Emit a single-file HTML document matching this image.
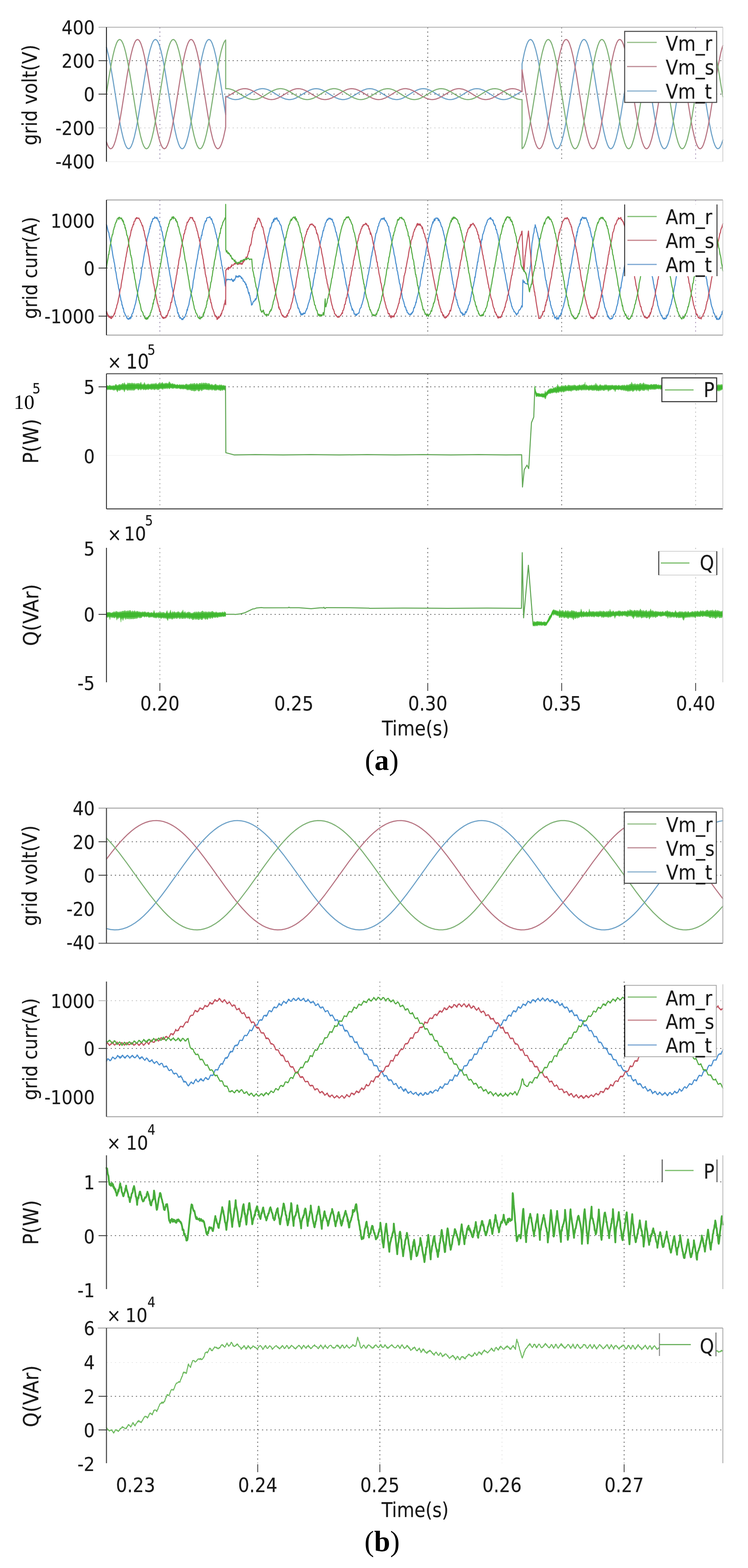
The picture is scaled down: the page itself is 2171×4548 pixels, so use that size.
<!DOCTYPE html>
<html><head><meta charset="utf-8"><title>figure</title>
<style>html,body{margin:0;padding:0;background:#fff;}svg{display:block;}</style></head>
<body><svg width="2171" height="4548" viewBox="0 0 2171 4548">
<rect width="2171" height="4548" fill="#fff"/>
<line x1="309.0" y1="176.0" x2="2098.0" y2="176.0" stroke="#555" stroke-width="2.2" stroke-dasharray="3.5,8.7"/>
<line x1="309.0" y1="273.0" x2="2098.0" y2="273.0" stroke="#555" stroke-width="2.2" stroke-dasharray="3.5,8.7"/>
<line x1="309.0" y1="371.0" x2="2098.0" y2="371.0" stroke="#c8c8c8" stroke-width="2.2" stroke-dasharray="3.5,8.7"/>
<line x1="464.0" y1="79.0" x2="464.0" y2="469.0" stroke="#8a7aa0" stroke-width="2.2" stroke-dasharray="3.5,8.7"/>
<line x1="1241.5" y1="79.0" x2="1241.5" y2="469.0" stroke="#555" stroke-width="2.2" stroke-dasharray="3.5,8.7"/>
<line x1="1630.2" y1="79.0" x2="1630.2" y2="469.0" stroke="#666" stroke-width="2.2" stroke-dasharray="3.5,8.7"/>
<line x1="2019.0" y1="79.0" x2="2019.0" y2="469.0" stroke="#a088b0" stroke-width="2.2" stroke-dasharray="3.5,8.7"/>
<path d="M309 137.4l6 23.7 6 30.2 7 41.1 16 100.4 5 28.3 4 20 5 21 5 15.8 3 6.7 2 3.2 3 3 2 .6 2-.3 2-1.4 2-2.5 2-3.4 4-9.8 5-17.3 5-22.4 5-26.5 22-136.1 5-28.1 4-19.9 5-20.8 5-15.5 3-6.5 2-3.1 3-2.7 2-.5 2 .5 2 1.5 2 2.5 2 3.6 4 10 5 17.6 5 22.6 5 26.7 21 130.3 9 48.8 5 21.6 5 16.3 3 7.1 2 3.4 3 3.3 2 1 2-.2 2-1.1 2-2.2 3-5.1 4-10.3 5-17.8 5-22.9 5-26.8 21-130.3 5-28.4 4-20.2 5-21.3 5-16.1 3-6.8 2-3.4 3-3.1 2-.8 2 .2 3 2.3 2 2.8 3 6.1 5 14.8 5 20.3 5 24.7 5 28.4 19 118.8 0-54 11 5.7 9 3 5 .9 4 .2 8-.7 8-2.3 8-3.7 25-15.2 10-5.3 9-3.2 8-1.2 4 0 5 .6 5 1.2 5 1.7 10 5 21 13 9 4.9 10 3.8 9 1.4 4 0 5-.6 5-1.2 5-1.8 10-5 21-13 9-4.9 10-3.7 5-1 5-.4 4 .1 5 .8 9 2.8 10 5 20 12.5 9 4.9 10 3.9 9 1.6 4 0 5-.5 5-1.2 5-1.7 10-4.9 22-13.6 9-4.8 10-3.7 5-.9 5-.3 4 .2 5 .8 9 2.9 10 5.1 20 12.5 9 4.9 9 3.5 9 1.6 4 .1 5-.5 5-1.1 5-1.6 11-5.4 21-13 9-4.9 10-3.7 5-1 5-.4 4 .1 5 .8 5 1.3 5 2 10 5.1 19 11.9 8 4.4 9 3.8 8 1.9 5 .3 5-.2 5-1 6-1.8 11-5.3 22-13.6 9-4.8 10-3.7 5-.9 5-.3 5 .3 5 .9 10 3.6 9 4.8 23 14.2 6 3 6 2.4 6 1.7 6 .7 6-.2 6-1.1 7-2.3 8-3.9 28.2-17.1 0-78.9 6.8-32.6 4-15 3-9 3-6.8 3-4.7 3-2.3 2-.3 1 .2 2 1.3 2 2.3 2 3.3 3 6.8 5 16 5 21.2 4 20.1 5 28.4 21 130.3 5 26.9 5 22.9 5 18 4 10.3 2 3.7 2 2.8 2 1.7 2 .6 2-.3 2-1.4 2-2.5 3-5.5 4-10.7 5-18.4 5-23.3 5-27.2 20-124.5 9-49.1 5-21.8 4-13.8 3-7.9 2-4.1 2-3.1 2-2 2-1.1 2 0 2 1 3 3.4 2 3.6 3 7.1 5 16.6 5 21.7 6 31.5 21 130.3 5 28.5 5 25 5 20.6 5 15.2 3 6.3 2 3 3 2.5 2 .4 2-.6 3-2.9 2-3.1 3-6.7 5-15.6 5-21 4-20 5-28.2 22-136 6-31.2 5-21.3 3-10.3 3-8.3 3-6.1 2-2.9 3-2.3 2-.3 2 .7 3 3.1 4 7.6 4 11.4 4 15 5 23 8 44.8 19 118.5 5 27.6 5 23.8 5 19 4 11.3 3 5.9 2 2.8 2 1.7 2 .6 2-.3 3-2.5 2-2.9 3-6.3 5-15.1 5-20.5 5-25 5-28.4 21-130.3 5-26.7 5-22.7 5-17.8 4-10 3-5.1 2-2 2-1.1 2 0 2 1 2 2 2 3.1 3 6.4 5 15.4 5 20.8 4 19.8 5 28 17 106.5 6 35.2 7 35 6 22.8 4 10.8 3 5.6 3 3.3 3 1 3-1.3 2-2.2 2-3.1 3-6.7 4-12.1" fill="none" stroke="#6ea2c8" stroke-width="3.2" stroke-linejoin="round" stroke-linecap="round"/>
<path d="M309 411.8l4 10.5 3 5.3 3 3.1 2 .7 1 0 3-1.6 3-3.9 3-6.1 4-11.5 6-23.7 6-30.3 6-35 17-106.6 5-28.2 5-24.6 5-19.9 5-14.6 3-5.9 2-2.7 3-2 2-.2 2 1 2 1.9 2 3 3 6.3 5 15.2 5 20.6 5 25 5 28.5 21 130.3 6 31.5 5 21.7 3 10.6 3 8.6 3 6.4 2 3.1 3 2.6 2 .5 2-.5 3-2.7 4-7.2 4-11.1 4-14.6 5-22.7 8-44.2 20-124.5 5-27.2 5-23.3 5-18.4 4-10.7 3-5.5 2-2.5 2-1.4 2-.3 2 .6 2 1.7 2 2.8 2 3.7 4 10.3 5 18 5 22.9 5 26.9 21 130.3 5 28.4 4 20.1 5 21.2 5 16 3 6.8 2 3.3 2 2.3 2 1.3 1 .2 2-.3 3-2.3 3-4.7 3-6.8 3-9 3-11 6-27.3 0-87.3 8-4.5 22-13.5 8-3.9 7-2.3 6-1.1 6-.2 6 .7 6 1.7 6 2.4 6 3 23 14.2 9 4.8 10 3.6 5 .9 5 .3 5-.3 5-.9 10-3.7 9-4.8 22-13.6 11-5.3 6-1.8 5-1 5-.2 5 .3 8 1.9 9 3.8 8 4.4 19 11.9 10 5.1 5 2 5 1.3 5 .8 4 .1 5-.4 5-1 10-3.7 9-4.9 21-13 11-5.4 5-1.6 5-1.1 5-.5 4 .1 9 1.6 9 3.5 9 4.9 20 12.5 10 5.1 9 2.9 5 .8 4 .2 5-.3 5-.9 10-3.7 9-4.8 22-13.6 10-4.9 5-1.7 5-1.2 5-.5 4 0 9 1.6 10 3.9 9 4.9 20 12.5 10 5 9 2.8 5 .8 4 .1 5-.4 5-1 10-3.7 9-4.9 21-13 10-5 5-1.8 5-1.2 5-.6 4 0 9 1.4 10 3.8 9 4.9 21 13 10 5 5 1.7 5 1.2 5 .6 5-.1 8-1.4 9-3.4 9-4.8 25-15.2 8-3.7 7-2.1 5-.8 4-.1 8 .8 9 2.9 10.2 5.1 0-63.4 20.8 129.2 5 28.4 5 24.7 5 20.3 5 14.8 3 6.1 2 2.8 3 2.3 2 .2 2-.8 3-3.1 2-3.4 3-6.8 5-16.1 5-21.3 4-20.2 5-28.4 21-130.3 5-26.8 5-22.9 5-17.8 4-10.3 2-3.7 2-2.7 2-1.6 2-.6 2 .4 3 2.5 2 3 3 6.3 5 15.2 5 20.6 5 25 5 28.5 21 130.3 5 26.7 5 22.6 5 17.6 4 10 3 5 2 2 2 1 2 0 2-1.1 2-2 2-3.1 3-6.5 5-15.5 5-20.8 4-19.9 5-28.1 21-130.4 5-27.2 5-23.3 5-18.4 4-10.7 3-5.5 2-2.5 2-1.4 2-.3 2 .6 3 3 2 3.2 3 6.7 5 15.8 5 21 4 20 5 28.3 21 130.3 5 27.1 5 23 5 18.2 4 10.5 3 5.3 2 2.3 2 1.3 2 .2 2-.8 3-3.1 2-3.4 3-6.8 5-16.1 5-21.3 4-20.2 5-28.4 21-130.3 5-26.8 5-22.9 5-17.8 4-10.3 2-3.7 2-2.7 2-1.6 2-.6 2 .4 3 2.5 2 3 3 6.3 5 15.2 5 20.6 5 25 5 28.5 21 130.3 5 26.7 5 22.6 5 17.6 4 10 3 5 2 2 2 1 2 0 2-1.1 2-2 2-3.1 3-6.5 5-15.5 5-20.8 4-19.9 5-28.1 17-106.5 7-40.6 7-33.8 3-11.7 3-9.7" fill="none" stroke="#b87684" stroke-width="3.2" stroke-linejoin="round" stroke-linecap="round"/>
<path d="M309 269.8l8-50.2 6-34.2 5-24.7 5-20.2 5-14.7 3-6 2-2.8 3-2.2 2-.2 2 .9 3 3.1 4 7.8 4 11.6 4 15.1 5 23.2 8 44.9 19 118.5 6 32.5 5 22.8 5 17.8 3 8 2 4.1 3 4.3 2 1.7 2 .5 3-1 2-2 2-3 2-4 3-7.9 4-13.6 5-21.6 9-48.9 21-130.2 5-26.7 5-22.5 5-17.5 3-7.9 2-4 3-4.1 2-1.5 2-.4 2 .5 2 1.7 2 2.6 2 3.6 3 7.3 5 16.7 5 21.9 9 49.2 20 124.5 5 27.1 5 23.2 5 18.4 3 8.3 2 4.4 3 4.7 2 1.8 2 .9 2-.2 2-1.2 2-2.3 4-7.5 4-11.3 5-19.2 5-23.8 5-27.7 19-118.6 9-49.5 5-22.1 4-14 3-8.2 2-4.3 2-3.2 2-2.3 0 141.3 5-.1 5 .5 5 1.2 6 2.1 10 5 19 11.9 8 4.5 8 3.6 8 2.2 6 .6 5-.2 6-1 6-1.9 11-5.3 21-13 9-4.9 10-3.8 9-1.5 4 0 5 .6 5 1.2 5 1.8 10 5 21 13 9 4.9 10 3.7 5 1 5 .4 4-.1 5-.8 9-2.8 10-5 20-12.4 9-5 10-3.9 9-1.6 4 0 5 .5 5 1.2 5 1.7 10 4.9 22 13.6 9 4.8 10 3.6 5 1 5 .3 4-.2 5-.8 9-2.9 10-5.1 20-12.4 9-4.9 9-3.6 9-1.6 4-.1 5 .4 5 1.1 5 1.7 11 5.4 21 13 9 4.9 10 3.7 5 1 5 .4 4-.1 5-.8 5-1.3 5-1.9 10-5.2 19-11.8 8-4.5 9-3.8 9-2 5-.2 5 .4 5 1 5 1.6 11 5.3 22 13.6 9 4.8 10 3.6 5 1 5 .3 5-.3 5-.9 5-1.5 5-2.1 9-4.8 23-14.1 7-3.6 6-2.2 7-1.7 7-.4 7 .8 7 2 11 5.2 22 13.6 10 5.3 6 2.4 5 1.4 5 .8 5.2 .1 0 142.3 2.8-2.1 2-2.8 4-8.5 5-15.9 5-21.1 4-20.1 5-28.3 21-130.3 5-27 5-23 5-18 4-10.5 3-5.2 2-2.3 2-1.2 2-.2 2 .9 3 3.1 2 3.4 3 6.9 5 16.2 5 21.4 4 20.2 5 28.5 21 130.2 5 26.8 5 22.8 5 17.8 4 10.2 3 5.1 2 2.1 2 1.1 2 0 2-.9 2-2 2-3 3-6.4 5-15.3 5-20.7 4-19.7 5-28 22-136.1 5-26.7 5-22.5 5-17.5 4-10 2-3.5 2-2.5 2-1.5 2-.4 2 .5 3 2.8 2 3.2 3 6.5 5 15.6 5 20.9 4 20 5 28.1 22 136.1 5 26.4 5 22.3 5 17.3 4 9.7 2 3.4 2 2.3 2 1.4 2 .3 2-.7 3-3 2-3.2 3-6.8 5-15.9 5-21.1 4-20.1 5-28.3 21-130.3 5-27 5-23 5-18 4-10.5 3-5.2 2-2.3 2-1.2 2-.2 2 .9 3 3.1 2 3.4 3 6.9 5 16.2 5 21.4 4 20.2 5 28.5 21 130.2 5 26.8 5 22.8 5 17.8 4 10.2 2 3.6 2 2.6 2 1.7 2 .5 2-.4 3-2.6 2-3 3-6.4 5-15.3 5-20.7 4-19.7 5-28 22-136.1 5-26.7 5-22.5 5-17.5 4-10 2-3.5 2-2.5 2-1.5 2-.4 2 .5 2 1.7 2 2.6 2 3.6 4 10.2 5 17.8 5 22.8 5 26.8 13 80.4" fill="none" stroke="#7fb276" stroke-width="3.2" stroke-linejoin="round" stroke-linecap="round"/>
<line x1="286.0" y1="79.0" x2="2098.0" y2="79.0" stroke="#b0b0b0" stroke-width="2.5"/>
<line x1="2098.0" y1="79.0" x2="2098.0" y2="469.0" stroke="#c8c8c8" stroke-width="2"/>
<line x1="309.0" y1="469.0" x2="2098.0" y2="469.0" stroke="#eeeeee" stroke-width="2"/>
<line x1="309.0" y1="79.0" x2="309.0" y2="469.0" stroke="#111" stroke-width="2.5"/>
<line x1="286.0" y1="176.0" x2="309.0" y2="176.0" stroke="#333" stroke-width="2.5"/>
<line x1="286.0" y1="273.0" x2="309.0" y2="273.0" stroke="#333" stroke-width="2.5"/>
<line x1="286.0" y1="371.0" x2="309.0" y2="371.0" stroke="#bbb" stroke-width="2.5"/>
<rect x="1813" y="91" width="267" height="206" fill="#fff" stroke="#4a4a4a" stroke-width="3"/>
<line x1="1820.0" y1="123.0" x2="1906.0" y2="123.0" stroke="#98c08c" stroke-width="3.5"/>
<text x="1932.0" y="147.0" font-family="'DejaVu Sans Condensed','DejaVu Sans','Liberation Sans',sans-serif" font-size="58.5" text-anchor="start" fill="#1a1a1a" stroke="#1a1a1a" stroke-width="0.25">Vm_r</text>
<line x1="1820.0" y1="193.0" x2="1906.0" y2="193.0" stroke="#c0909a" stroke-width="3.5"/>
<text x="1932.0" y="216.0" font-family="'DejaVu Sans Condensed','DejaVu Sans','Liberation Sans',sans-serif" font-size="58.5" text-anchor="start" fill="#1a1a1a" stroke="#1a1a1a" stroke-width="0.25">Vm_s</text>
<line x1="1820.0" y1="264.0" x2="1906.0" y2="264.0" stroke="#8fb4d0" stroke-width="3.5"/>
<text x="1932.0" y="285.5" font-family="'DejaVu Sans Condensed','DejaVu Sans','Liberation Sans',sans-serif" font-size="58.5" text-anchor="start" fill="#1a1a1a" stroke="#1a1a1a" stroke-width="0.25">Vm_t</text>
<text x="275.0" y="99.0" font-family="'DejaVu Sans Condensed','DejaVu Sans','Liberation Sans',sans-serif" font-size="56" text-anchor="end" fill="#1a1a1a" stroke="#1a1a1a" stroke-width="0.25">400</text>
<text x="275.0" y="196.0" font-family="'DejaVu Sans Condensed','DejaVu Sans','Liberation Sans',sans-serif" font-size="56" text-anchor="end" fill="#1a1a1a" stroke="#1a1a1a" stroke-width="0.25">200</text>
<text x="275.0" y="293.0" font-family="'DejaVu Sans Condensed','DejaVu Sans','Liberation Sans',sans-serif" font-size="56" text-anchor="end" fill="#1a1a1a" stroke="#1a1a1a" stroke-width="0.25">0</text>
<text x="275.0" y="391.0" font-family="'DejaVu Sans Condensed','DejaVu Sans','Liberation Sans',sans-serif" font-size="56" text-anchor="end" fill="#1a1a1a" stroke="#1a1a1a" stroke-width="0.25">-200</text>
<text x="275.0" y="488.0" font-family="'DejaVu Sans Condensed','DejaVu Sans','Liberation Sans',sans-serif" font-size="56" text-anchor="end" fill="#1a1a1a" stroke="#1a1a1a" stroke-width="0.25">-400</text>
<text transform="translate(107.0,275.5) rotate(-90)" font-family="'DejaVu Sans Condensed','DejaVu Sans','Liberation Sans',sans-serif" font-size="57.8" text-anchor="middle" fill="#1a1a1a" stroke="#1a1a1a" stroke-width="0.25">grid volt(V)</text>
<line x1="309.0" y1="777.5" x2="2098.0" y2="777.5" stroke="#555" stroke-width="2.2" stroke-dasharray="3.5,8.7"/>
<line x1="309.0" y1="917.0" x2="2098.0" y2="917.0" stroke="#555" stroke-width="2.2" stroke-dasharray="3.5,8.7"/>
<line x1="464.0" y1="580.0" x2="464.0" y2="972.0" stroke="#8a7aa0" stroke-width="2.2" stroke-dasharray="3.5,8.7"/>
<line x1="1241.5" y1="580.0" x2="1241.5" y2="972.0" stroke="#555" stroke-width="2.2" stroke-dasharray="3.5,8.7"/>
<line x1="1630.2" y1="580.0" x2="1630.2" y2="972.0" stroke="#666" stroke-width="2.2" stroke-dasharray="3.5,8.7"/>
<line x1="2019.0" y1="580.0" x2="2019.0" y2="972.0" stroke="#a088b0" stroke-width="2.2" stroke-dasharray="3.5,8.7"/>
<path d="M309 651.7l1 2.6 4 17 2 4.2 1 7.8 1 4.8 1 2.7 3 17.7 2 7.7 1 9.2 1 3.9 1 8.3 2 11.3 1 2.9 1 7.8 1 3.1 1 6.1 2 16.7 1 2.4 1 5 2 14.5 1 3.9 2 12 1 2.2 1 9 2 7.7 1 7.9 3 13.8 1 7.1 2 4.3 1 9.6 1-.3 2 10.4 1-1.3 2 12.3 1 .6 1 1.8 1 3.9 1 .7 1 3.4 2 .8 1 5.2 1-.5 1 2.1 1-.4 1 2.9 2-1.7 1-2.3 1-1 1 3.8 1-2 1-3.9 1 3.4 3-11.8 2-2.1 2-5.9 1-6.5 1 .1 2-8.8 3-9.8 1-6.5 1-3.9 1-7.7 4-17.7 1-7.9 1-3.6 1-6.6 1-2.3 1-8.7 1-2.1 1-5.2 4-31.4 1-.3 6-38 1-5.3 1-2.8 2-12.9 1-3.3 1-7.6 1-3.1 1-8.3 3-11.2 1-5.3 1-.8 2-12.2 1 .9 1-8.9 1 1.4 1-7.6 1 0 1-5.6 1-1.3 1 .8 1-7.1 1-2.1 1 1.2 2-2.3 1 .7 1-4.4 1 2.6 1-1 1 1.5 1 0 1 1.8 1-3.8 1 3.6 1-.7 2 6.3 3 5.4 2 6 1 5.1 1 2.2 1-1 1 7.9 1 4.6 2 3.7 1 9.6 1 2.2 2 12.4 1 .4 3 18.3 1 3.2 4 25.6 1 1.2 1 9.2 4 23.6 1 3.9 2 13.2 2 9.3 4 27.5 1 1.2 2 12.7 4 18.1 1 7.1 1 .9 1 9.4 1 .4 1 4.6 2 5 1 4.1 1 8 1 4.1 1-1.8 1 6 2 1.2 1 6.5 1 2.5 1-2.8 2 3.2 1 .3 2 3.7 1-2.4 2 2.1 1-4.6 1 .2 1-2 1 1.2 1-2.2 1-1.2 1-2.2 1-4.3 1-.7 2-7.7 1-6.2 1 2.9 1-7.6 1-2 1-4 1-1.5 2-12.6 3-12.3 1-7.6 1-3 1-1.2 1-8.1 2-6.4 2-19.6 2-7 2-15.9 2-9.9 4-24.6 2-8.8 1-8.6 1-3.6 1-8.9 1-1.2 2-13.2 1-2.9 1-10.7 1-4.5 1-1.4 1-7 1-3.9 1 1 1-9.6 2-7.7 1-1.7 3-14.3 2-3.6 1-5.3 1 1.4 1-2.4 1 .7 1-7.9 1-.3 2-1.6 1 .3 1-.7 1 .6 2-.3 1-2.2 4 8.1 1-2.4 4 13.8 2 2.1 1 5.5 3 9.8 1 7 1 1.7 1 5.4 1 1.3 1 7.6 2 5.5 1 8.3 2 9.5 2 13 2 5.7 1 9.9 2 13 1 3.4 1 8.7 1 5.7 1 1.6 1 9.9 1 2.3 2 13.3 2 8.6 1 9.7 2 13.4 1.3-10.4 1.7-7 2.2-2.8 .8 1.9 2-.5 1-1.2 1 1 1-.5 1 0 1 1.3 2-.6 1 .7 1-.9 1-2.3 1 2.5 1 1.2 1 3.3 1-3.6 1 4.5 1-.8 .6-4.1 .4-.3 1 .1 1 1.4 1-4 1-.9 2-8.3 1.4 3.5 .6 .8 1-2.1 1 .2 1 1.8 1-2.3 1 2.3 1-4.1 2 0 1 2.9 1-1.8 2 1.8 1 3.3 1 1.8 1-2.6 1 3.3 1 .8 1 .1 1 6.5 2-.4 1 1.1 1 2.9 1-1 2 7.1 1 1 .2-2.9 .8 3.2 1 7.5 1-2.7 1 4.5 1 1.9 1 6.3 2 7.7 1-3.5 1 8.2 1-.1 1 7.3 .7 .8 .3 4.9 2 6 1 9.5 .4-1.8 1.6 .4 3-8.6 1-.1 1-2 1 .3 1-.6 2-6.1 1 3.4 1-3.9 1 .1 .1 .6 .9-8.3 1-2.7 1-8.9 1-1.1 1-7.4 2-8.4 2-13.7 2-8.6 3-21.3 1-2.4 1-7.4 1-2.8 .6-8 .4 1.4 1-3.5 2-14.8 1 0 3-15.1 1-7.5 1-2.6 1-5 1-7.1 1-2.4 .1-2.8 .9-1.7 2-7.9 1-11.3 1-.5 1-5.3 3-11.6 1-7 1 1.9 1-2.3 1-4.1 1-2.3 1-6.5 1-2.7 1 1 1-1.3 2-8.6 1 6.2 1-7.3 1 1.9 1-4.6 1 3.3 1-1.8 1 2.1 1-.8 1-3.9 1 1.6 3 8 1-1.2 1 1 2 4.2 1 4.2 1 .6 1 2.7 1 .5 1 2.1 2 11.6 1 2.4 2 9.1 1 2.9 1 6.1 1 1.4 5 27 3 13.5 2 13.8 1 2.9 1 8.1 2 9.3 1 8.8 1 1.7 5 29.9 3 14.3 1 7.6 1 2.6 3 16.3 1 2.9 1 8.7 1 .7 4 18.7 2 5 2 7.5 1 6.2 1-.9 1 1.5 2 6.4 1 5.3 1-2.7 2 9.3 1-4.2 1 4.4 1 .4 1-.8 1-3.2 1 3.1 1-1.4 1-3.1 1-.4 1 2.3 1-.9 1 .6 2-6.4 2-3.6 1-4 1 .7 4-15.7 2-4.7 1-5.1 1-1.6 1-3 1-8.4 2-8.6 1-1.1 1-7.3 2-9.2 1-2.6 2-16.3 2-8.2 2-13.5 1 .8 1-10.4 3-20.2 2-8.7 2-11.9 1-3.1 3-20.5 1-1.3 3-17.7 1-2.3 1-7.3 1-.1 4-20.2 1 .9 2-10.2 2-2.9 1-7.4 2-4 1-.5 1-4.7 1 .5 1-3.9 1 2.3 1-1.2 1-2.8 1 .9 1-2.9 1 .5 1 2.2 1-1.5 1 1.2 1-1.6 1 3.7 1 .8 1-1.6 1-.3 1 2.3 1 5.5 1 1.9 1 .1 2 10 1 1.1 1 2.6 2 10.8 1 3.4 1 .1 1 6.6 3 10.7 1 6.4 1 3.2 3 17.8 1 1.3 2 14 3 13.8 1 9.7 2 9 1 .3 2 16.1 2 7.3 1 9.7 1 5.7 1 2.6 3 19.1 1 .7 1 5.5 2 11.6 1 9.7 1-.3 1 6 2 6.9 2 12.2 1-.1 1 5.6 3 8.7 1 6.3 1-3.9 1 4.1 2 1 2 10.1 1-.4 1 1.6 2-.9 1 4.2 1-4.1 1 3.3 1-3.6 1 .2 1-.4 1-1.4 1-.4 1-1.3 1 .3 2-10.3 1-2.5 2-2.9 1-.4 1-6.9 1-.5 4-14.2 1-4.8 1-2.4 2-15.1 1-.4 3-16.2 1-1.8 2-14.2 2-9.4 1-8 1-1.5 2-11.5 1-9.3 1 .7 5-34.1 1 0 1-9.7 2-8.1 1-7.4 2-5.4 1-8.1 1-2.7 4-23.6 2-2.5 1-5.2 2-6.3 1-6.2 1-1.2 1-.5 1-7.5 1-1.1 3-7.6 1-.6 1-3.6 1 .3 2-1.8 1 2.9 1-2.7 1 .1 1-.7 1 3.2 1-4.9 2 7 1 2.2 1-1.1 1 1.3 1 3.1 1 .6 1 3.7 1 .4 1 5 2 3 1 .4 1 10 2 7.2 1 1.1 1 7.7 2 6.7 1 6.3 2 8.6 1 7.9 3 11.4 2 14.2 2 6.2 3 19.8 1 2.9 2 14.5 1 5 1 1.5 1 7.8 1 3.8 1 8.5 1 2.8 1 8.2 1 4.4 1 .4 2 15.6 3 11.2 2 14.3 1 1.6 2 7.3 1 1.6 1 5.4 1 2.5 1 6.8 1-.6 1 .6 2 8.5 1 2.4 1-.9 1 6.8 2 .4 1 .7 1 3.1 1-.7 1 1.6 1-.5 1 .5 1 1.7 2-4.8 1 2.5 2-5.3 1 1.6 1-4.1 1 .3 2-10.7 1-2 1 1.3 1-4.8 2-5.3 1-6.2 1 1.5 1-8.2 1-2 1-6.9 2-5 4-21.4 2-5.4 1-10.8 3-14.7 1-7.3 1-2.8 1-5.1 2-14.7 1-1 1-10.3 1-2.3 1-4.7 1-9.9 2-6.3 2-14.8 1-5.7 1-2.3 2-12.1 1-2.4 1-6.6 4-17.1 3-10.8 1-6.4 1-1.7 2-8 1-1.7 1-5.7 1 3.3 1-5.2 1 .1 1-5.8 1-1.2 1 5.3 2-6.8 1-.9 1-.3 1 1.2 1-.9 1-.1 1 1.8 1-1.3 1 6.9 1-4.1 1 4.4 1-2.1 2 7.2 1 0 3 11.4 1 .2 2 4.8 1 5.7 1 1.6 2 10 2 6.6 1 7 3 13.6 1 6.8 1 1.6 1 7.7 1 3.8 1 7.7 1 3.2 2 12.4 1 1.1 1 8.6 1 3.1 2 15.7 2 9.2 3 18 1 8.2 1 2.5 1 8.9 1 .6 1 7.1 3 13.1 1 7.8 2 8.4 1 6.1 1 2.2 1-.6 1 8.6 1 .6 1 7.2 1 .3 1 4.3 1 2.5 1 1.6 1 .4 1 5.2 1 2.2 1 4 1-1.2 1 3 1-.6 1 2.6 1-2.4 1 7.4 2-4.7 1 2.2 1 .5 1-1.5 1 1.2 2-9.1 1 .9 1 2.5 2-5.2 1-4.9 1 .9 3-11.8 1-1 1-2.1 1-2.8 1-5.4 1-1.1 1-9.6 1-1.7 2-13.6 1-3.4 1-.5 2-14.2 1-1.7 2-11.6 1-2.7 1-11 1 1.6 2-15 4-22.6 1-8.1 1 .4 1-9.5 3-16.9 1-3.3 2-13.6 2-7.5 1-9.9 1-5.3 1 2.2 2-16.2 1-1.2 3-9.5 2-7.1 1-5.6 1-1 1-2.9 1-1.3 1-4.6 1-.7 2-7.5 1-.5 2-2.6 3-1.1 1-2.3 1 3.3 1-4.3 2 4.7 1 .4 1 1.4 1-.3 1 3.1 1-1.7 2 10.2 1-.4 1 4.8 1-.8 1 .9 1 3.9 1 6.9 1 2.5 1-1 2 11.1 2 4 2 13.3 2 8.6 4 23.3 2 8.8 1 1.3 1 11.3 4 18.9 3 21.8 2 7.2 2 13.8 3 13.3 3 19.6 1 3.7 1-.3 1 11.6 1 1.2 1 3.3 2 10.3 3 9.9 1 6.7 1 .1 1 4.4 1 2.2 3 4.8 1 4.5 1-.7 2 2.6 1 .7 1 3.7 1 .8 1-1.3 .5 4.1 .5-3.6 1-.2 1-1.7 1 1 3-9.3 1-1.6 1 .4 1-1.2 1-.4 1-3.7 1-.3 2-6.6 1.9 3.1 1.6-74 .5-4.1 2 7.2 1-2.9 1-.1 1 4 1 1.6 4 .7 2.5 2.2 1.5-3.5 4-27.9 2-8.4 1-10.2 1.3-5.3 2.7-53.1 1-10.5 2-10.6 2-15.2 1-2.6 1-4.4 1-11.4 1-1 1-4.2 .3-4.3 .7 2 1 5.4 1 .9 2 10.8 2 5.3 1 7 1 2.9 1 5.5 1-.4 1 11.4 1 1.4 2 13.4 3 14.1 3 20.6 3 14.1 1 7.8 2 9.8 2 17.3 2 11.6 1 .2 1 10.2 1 1.8 1 6.7 1 3.4 3 19.3 3 15.2 1 3.6 1 1.5 1 10.3 1 .5 1 6 2 4.1 1 5 1 1.6 1 7.2 1-2.2 1 5.7 1 0 1 2.9 1 6.9 1-1.7 1-.4 1-1.3 1 3.2 1 .7 1 3.5 1-5 1-.7 1 2.9 1-.1 1 1.8 2-10.1 1 2.1 1-2.7 1-.6 1 .6 1-6.6 1 2.1 3-12.9 4-10.9 1-6.6 2-6.3 2-11 1-2.4 2-10.6 3-22.8 1 .8 2-15.8 2-9.4 1-9.6 1-2.1 1-4.5 2-14.6 1-5.8 1-2.9 2-15.2 2-9.4 1-8 1-5.5 1-1.2 2-14.8 2-5.7 3-21.2 1 2.3 1-13.1 1 2.6 1-7.9 1-4.4 1-3.2 1-1.9 1-1 1-6.3 1-.4 1 .6 1-12.2 1 1.6 1-4 1 3.2 1-5.9 2-2.6 2 3.6 1-2.2 1 3.5 1-.8 1-2.9 1 2.6 1-.7 1 .9 1-2.4 2 6.9 1-.3 1 5.9 1 1.6 1 .4 1 6.8 1 1.3 1 5.1 2 1.8 1 8.2 1 2.3 3 15.7 1-.2 1 3.2 2 15.6 1 2.6 1 7.2 1 3.4 3 17.1 3 21.7 1 3.5 1 7.7 1 3.6 1 7.4 2 9.3 1 9.4 2 10.8 2 6.7 2 15 1 2.2 1 10.8 1-.2 2 18.1 1-5 2 16.2 1 2.3 2 8.6 1 6.9 2 3.9 1 3.9 1 1.5 1 5.1 1-1.3 1 8.1 1 .7 1 6.1 1 .8 1-3 1 5.6 1-1.4 2 4.7 1-.8 1 .7 1 0 1-2.4 1-.3 1 1.6 1-.3 1-3.3 1-.6 2-8.4 1 1.2 1-.7 2-3.7 2-5.7 2-7.9 1-5.9 1-1.8 1-4.4 1-2.4 1-9.6 1-2.5 1-7.1 1-3 1-6.3 1-2 2-15.9 1 1.7 2-16.5 1-3.3 2-13.2 1-2.3 1-7.9 1-3.5 5-32.1 1-2.4 1-12.1 3-12.8 3-17.9 1-1.3 2-18.8 1 4 1-10.1 2-7 1-7.1 1 .7 2-12.7 1-.5 2-7.2 1-1.9 1-6.5 1 2 1-5.6 1 1.8 1-5.5 1-.2 1 3.2 1-6 1 1 1-1.9 1-4.2 1 4.7 1-.1 1-4.4 1 2.9 1-2 2 6.7 1-.1 1-.8 5 15 1-1.7 2 12.3 2 3.8 3 15 1 3.1 1 7.8 1 4.1 1 .9 1 7.5 2 7.2 2 13.1 1 1.6 2 16 1 3.7 2 14.7 2 10.5 1 9.3 1 2.6 3 20.5 1 3.4 2 10.8 1 8 1 2.3 1 9 2 6.1 1 9 1 4.7 1 2.1 2 12.1 2 6.5 1 10.4 1 1.5 4 14.5 1 1 1 5.2 1 .8 1 2 1 4.4 1 .5 1-1 2 7.2 1 .1 1 2.5 1-1.5 1-.7 1 3.3 1-1.2 1-2.7 1 2.4 1-2 1 1.3 2-3.7 1-6.6 1 2.7 2-4.2 2-7.7 1-2.1 1-6.7 1 0 1-5.9 1-1.7 1-4.5 1-.5 1-6.7 2-8.9 1-1.3 1-10.5 1-2.7 1-5.1 3-17.7 1-2.6 2-14.2 4-21.3 2-15.6 1-1.8 1-10.7 2-8.2 1-8.1 1-1.7 1-5.2 5-30.9 1-1.2 1-9.9 1-1.4 2-11.4 2-7.2 3-15.7 1-3.6 1-.7 2-6.5 1-5.4 1 1.9 1-8.4 1 .9 1-1.5 2-6.6 1-.1 1-2.4 1 .9 1-2.6 1-.4 1 2.3 1-2.7 1 2.7 1 .7 1 2.7 1-.1 1-.7 1 5.4 1-1.8 2 4.8 1 7 1-1.2 1 1.5 1 5.7 1 1.7 1 7.9 1-1.8 1 6.2 1 1.3 1 9.1 1-.2 1 6.2 1 2.8 1 8 1 4.4 1-.2 1 10.8 3 16.6 1 1.6 1 4.7 2 17.8 1 .6 3 17.8 1 9.6 1 4.6 2 14.1 1 1.6 1 8.8 1 .4 2 16.7 2 6.7 2 16.2 2 5.5 1 8.3 1 5.4 1 1.4 2 12.7 2 7.5 1 1.9 1 4 1 1.5 1 4.1 1 7.1 1-.7 1 1.7 1 3.2 1 1.1 1 4.9 1 2.4 1-1.9 2 7.9 1-5 1 3.7 1-.4 1 2 2-1 2-4.3 1 3.7 1-6.9 1 2 1-2.1 1-5.2 1-.9 1 .2 1-8.9 1 2 1-5.1" fill="none" stroke="#4a8fcf" stroke-width="3.0" stroke-linejoin="round" stroke-linecap="round"/>
<path d="M309 904.1l1 .5 1 5.9 1-.4 1 5.3 1-1.6 1 5.1 1 .6 1-2.9 1 3.8 1 1.1 1-3.4 2 5.8 1-3.1 1 3 1-4.9 1-1.1 1 2 1-1.3 1-3.1 1-1.6 1-.3 1-5.1 1 2.2 1-5.6 3-10.8 1-.7 1-7.1 3-8.6 2-12.1 1-2.3 4-24.7 1-1.9 1-4 1-9.3 2-11.4 1-3.6 1-7.9 5-27.4 2-13.1 1-3.1 1-9.8 1-2.4 1-7.7 2-8.9 1-9.6 1-1.1 1-3.5 2-11.9 1-9.5 1-1.2 1-6 1-.9 3-17.7 1 .7 1-6 1-2.9 1-.9 1-4.9 1-2.4 1 1 1-7.7 1-2.2 2-.4 1-6.7 1 .9 2-4.1 1 2.9 1-2.8 1 1.7 1-.2 2 .7 1-1.2 2 4.5 1 1.7 1 .6 1 4.2 2 3 3 9.3 1-1.5 3 14.5 1-.2 1 7.5 3 13.4 1 2.7 1 7.5 1 1.1 1 10.5 1 2.4 1 8.4 1 .3 1 9.4 3 14.1 1 10 1 4.4 1 7.8 1 3 5 30.8 2 7.4 1 11.9 1 2.3 2 9.8 1 8 1 3.8 1 6.7 1 1.9 2 11.2 1 3.6 2 12.3 1 .2 2 9.2 1 1.5 1 3 1 7.4 1 2.5 1-1.4 1 2.8 1 6.4 1 3 2 2.4 1 3.5 1-1.7 1 3.5 1 .7 1-3.3 1 3.2 3-3.1 1 1.5 1-1.5 1 .5 1-6 1 .5 1 1.4 2-7.5 1-2 1-5 1-2.1 1 .5 1-4.1 1-1.3 1-6.4 1-3.6 1-8.6 1 .6 1-.4 2-13.1 1-2.3 3-17.9 2-8.4 1-8.5 1-3.1 2-9.8 2-15.1 1-1.7 2-15.9 1-3.9 1-7 1-3.3 1-10.3 2-9.6 1-2 3-23.1 1-2.8 1-7.1 1-1.8 3-16.8 1-1.2 1-9.1 1-5.1 1 .3 1-3.8 1-7 1-1.9 1-.5 1-9.1 2-3.8 1-7.5 1 1 1-.7 1-3.7 1 .2 2-5.8 1 .5 1-1.2 1-4.6 1 1 1-.2 2 .7 1-1.3 1 3.3 1-2.5 1 6.2 1 .1 1 3.7 1-.1 2 1 1 6.3 1 1.5 3 11.5 1 1.2 1 6.9 1 .5 4 19.8 1-1.2 1 10.6 1-.3 3 20.4 1 1.4 1 4.2 1 10.4 2 7.7 1 7 1 2.8 1 10.4 1 3.8 1 9.2 1-.3 2 19.5 1 2.1 1 5.8 1 2 1 9.8 3 13.1 1 8.4 1 3.3 5 28.3 1 .7 1 9.1 1-.5 3 15.2 3 7.2 1 3.8 1 1.4 1 5.4 1 .8 1 5.4 1-2.4 2 5.1 1-1.7 1 1.8 1 7.1 1-4.7 1 2.9 2-7.4 1 5 1-1.8 1-.4 3-7 1 2.3 1-6.8 1 2.2 2-9 1-2.2 1-.1 3-12.2 1-6.1 1 .4 2-12.1 .3-.1 .7 14.2 .3-99.4 .7-1.5 1-.7 1-2.7 1 1.1 1-1.5 1-.2 1-3.1 1 6 1-6.6 1 2 1-.8 2 1.3 1-3.5 1-.2 1-3 1 2.8 1-6.1 1 1.3 1 .2 1 0 2-.8 2-3.7 1-.4 .7-.9 .3 2.6 1-2 1 1.2 2-4.9 3 6.6 1-.4 1 .6 1-4.3 1 2.8 1-1.5 1 1.4 1-1.3 1-2.3 1 3.9 1-.6 1 .9 1-3 1 3.7 2-2.1 2-9.8 1 5.2 1-4.9 1 0 1 1.2 1-2.8 1-1.4 1-.4 1-6.1 1 5.7 1-5.4 1-1.2 1 .3 1-6.2 1-2.3 2-8.2 1 1.3 1-10 1-5 1-1.3 1-3.7 1 .8 1-5.9 .1 .8 1.9-14.9 1-3 1-7.5 1-3 .2-4.3 .8-2.5 1-1 1-2.4 1-7.1 1 3.2 2-5.7 1-7.8 1 .6 1-.7 1-3.1 1-5.4 1 1 1-6.9 1-2.6 .1 2.2 .9-1 1 .3 1-.6 1 5.8 1-2.6 1 4.6 1 2.8 1 .8 1 3.2 2 8.4 1 2.1 1-.9 1 2.7 1 6.2 1 2.9 1 7.2 2 7 2 11.2 1 2.6 2 11.5 1 2.2 1 6.1 1 2.7 5 28.9 4 18 1 10.8 1 3.1 2 9.9 2 12.2 1 3 2 14.3 1 .7 2 13.8 1 2.5 1 7.8 1 1.5 2 13 5 19.8 1 4.9 1 9.4 1-3.3 1 6.9 1-.7 1 1.4 2 8.2 3 6.9 2 4.1 1-2.5 1 3.4 1-.9 1 3 1-.1 1 .7 2-1.9 2 1.8 1-.6 1-5.5 1 2.3 1-1.4 1-4.9 2-2.2 1-.6 1-7.5 1 .9 1-3.1 2-2.7 1-3.6 1-6.7 3-8.8 1-3.7 1-6.4 1-2.4 3-21.9 2-3.7 1-4.6 1-.4 1-10.4 2-13.5 3-14.9 2-13.1 1-.9 1-6.6 1-3.7 1-10.9 2-9 1-1.7 1-7.7 4-20.6 1-3.1 1-6.9 4-14.9 1-6.2 1-1.9 1-4.6 2-3.6 1-7.5 1 .7 1-5.9 1-2.1 1 1.4 2-6.2 2-2.1 1-4.8 1 .6 1-2 1 .8 1-1.8 1 1.7 2-2.2 3 4.9 1-1.2 1 1 2 5.2 1-.4 1-1.4 1 7.4 1 1.3 1 2.7 1 8.3 1-1.8 1 4.7 1-.3 2 11.3 2 6.3 2 9 1 6.9 3 8.1 2 13 3 13 2 13.9 4 21.1 2 15.1 1 2.9 1 7.9 1 1.5 2 13.8 1 1 2 11.3 1 2.2 1 4.5 1 10.5 1 .6 3 13.6 1 7.2 3 11.9 1 2.4 1 5.9 1 2.5 1 .1 1 4.1 1 1.9 1 6.6 1 .3 1 1.7 1 .9 1 2.8 1-1.3 1 3.1 2 1.8 1-.7 1 2.6 1-2.8 1 1.2 1 .3 1-.3 2-3.3 1-1 1-.4 1-2.4 1-.4 1-4.1 1 .2 1 1.3 1-8.7 2-1.2 1-4.9 1-2.1 1-8.9 1-.7 1-.1 1-7.8 1-2.4 1-8.5 1 1 1-2.3 1-8.9 2-8.7 1-1.8 2-17.2 1 1.4 1-10.9 1-2.1 1-10.7 1-1.9 1-4.3 1-7.8 2-7.8 1-7.9 2-6.3 1-12.3 1-1 2-11.8 1-1.7 5-29.3 1-1.7 2-10.7 1-1.1 1-6.4 1-1.8 1-7.3 2-5.1 1-.7 1-5.7 1-1.3 1-5.3 2-2 1-5.2 1-1.5 1 .8 1-4.7 1 1.5 2-2.6 1 1 2-1.5 1-3 1 .4 1 3.7 1-2.6 1 3.9 2 .9 1 2.7 1-2 2 10.8 1-2.1 1 5.7 1 2.7 1 7.9 1-4.1 4 13.2 1 7.1 1 2.4 1 7.4 1 3.7 1 2 2 13.8 1 1.8 2 12.1 1 2.9 2 14.1 1 4.5 1 .2 1 11.3 1 2.3 1 4.8 2 14.2 3 12.6 2 14.3 1 1.3 1 5 2 13.3 3 12 1 8.5 1 2 2 11 1 1.7 2 9 1 2.2 1 6.8 1 .9 2 5.5 1 1.4 1 6.7 1 3 1-1 1 1.7 1-1.3 2 8.5 1-1.9 1 3.9 1 1.9 1-6.9 1 4.4 1-.6 1 .1 1-2.6 1 2.2 1-2.5 1 3 1-.5 1-6.6 1-1.8 1-.1 2-3.7 1-.9 1-6.8 1-1.2 2-5.8 3-11.4 1-.4 2-14.3 1 .6 3-16.5 1-4.2 1-.8 1-8.9 1-2 2-13.5 1-3.8 2-17 1-1.1 1-5.3 1-2.5 6-33.8 3-13.6 1-8.5 2-11 1-4.9 1-2.2 1-6.5 1-.6 1-11.2 3-6 1-6.7 1 .5 2-11.6 2-3.8 1-5.3 1 1 1-4.8 2-2 1-4.2 1 1.2 1-6.6 1 3.4 1-5.6 1 4.9 1-3.5 1 3 1 .3 1-2.6 1-.5 1 4.2 1-3.6 1 4.7 1-.4 2 2.4 1 6.2 1-4.1 4 16.6 1 2.5 1-.2 2 10.1 1 2.6 1 .2 2 12.2 1 .8 4 24 5 21.6 2 11.3 2 15.1 1 2.5 4 23.1 3 13.7 1 6.7 1 3.1 2 13.1 1 3 1 1.6 1 9.5 1 1.4 2 8.4 1 8.6 1-.9 2 12.1 1 3.7 1 2.1 2 8.1 1 .4 1 6.6 1 3.3 1-.9 2 3.9 1 5.9 1-2.3 1 2.6 1-1 1 6.5 1-1.8 1 1.5 1 2.8 1-1.4 1-3.4 1 2.6 1 0 1-3.6 2-2.2 1 1.9 2-6.7 1 1.1 1-2 2-9.2 1 2.2 1-.3 4-19.5 2-5.4 1-5.6 1-2.3 1-6 1-3.5 1-10.6 2-3.3 2-10.7 1-2.9 3-20.4 1-3 2-9.1 4-26.3 1-2.3 1-8.4 2-8.8 1-1.7 3-21.6 1-2.8 1-5.9 1-2.7 2-8.8 1-7.4 3-10.2 1-5.5 1-3.3 1-1.5 1-8 1-.5 1-2.6 1-5.5 1-1.9 1-.4 1-3.4 1 .8 1-2.6 1 1.3 1-7.8 1 4.5 1-5.7 1 2 1-.3 1-1.8 2-1.5 1-1.8 1 3.1 1-.2 1 3.6 1-1.2 2 5.2 1 1.1 3 5.8 2 7.6 1 .2 1 7.7 1 1.4 1-.4 1 11.4 1 .2 1 1.5 1 8.4 1-3.4 1 13.8 1-2.7 1 4.4 4 24.2 1 2 1 8.8 2 6.7 1 9.2 2 8.5 1 8.2 1 .9 2 15.8 1 2.7 4 22.6 1 2.2 1 8.1 1 2 5 27.7 1 1.3 1 3.6 1 2 3 15.8 2 6.5 1 .5 2 10 1 2.3 1-1.3 2 7.1 1-.8 1 4.5 2 2.7 1 3.7 1-4.5 1 4.3 1-.8 1 .4 1-2.9 1 1.1 1-.7 1 2.2 1-3.9 1 1.3 1-4.7 2-2.9 1-5.9 1 .5 3-6.7 2-8.6 1 .9 1-7.8 3-10.6 1-1.1 1-4.5 1-9.9 2-3.4 1-8 3-10.2 2-15 4-22 1-.6 1-8.7 2-9.2 3-18 1-3.2 2-16.9 1 .4 1-4 1-8.6 2-10.1 1-1.9 1-8.5 .9-.8 .1 .3 3-12.6 2-4.8 1-4.9 1-1.5 1-4.6 1 1.1 1-2.7 1-7.4 1 .8 .1-2.3 3.9 98.9 .2 13 .8 1.2 .7 4 .3-.1 3-46.3 .1 3.8 2.9-24.8 6.8-49.9 1.2 15.1 1 6.4 2 28.3 1 6.9 6 71.6 1.8 16.1 .2 8.9 1 2 1 5.6 2 15.9 1-.2 1 10.9 1 1.8 2 16.2 8 48.5 1-.5 1-1.7 1 1.5 1-1 1 .4 3-7.1 1 .1 1-5.6 1 1.8 1-8.3 1 1.5 2-2.9 1 1 1-8.2 2-11 1 2.1 1-10 1-.4 1-6.1 1 1.4 1-9.6 1-4 1-6.8 2-7 1-9.1 4-22.3 2-7 1-5.7 1-10.8 3-14.3 4-22.8 1-10.9 1-2.2 2-8.3 2-14.5 3-14.3 2-7.6 1-9 1-2.9 1-8.1 1 1.7 2-10.9 2-3 2-9 4-11.9 3-3.1 2-4.6 1 .7 1-1.3 2 2.8 1-.7 1-2.9 1 1.1 1-1.3 1 3.8 1-.2 1 .6 1 2.3 1 4.9 2 3.1 1 4.6 1 .2 1 2 1 5.9 1-1.1 1 7.7 3 12.6 1 2.2 1 5.2 1 1.6 4 25.3 1 2.8 1 6.7 1 2.2 1 7.3 1 2.5 3 19.7 3 16.2 1 8.8 1 3.7 1 1.9 1 10.8 3 19.7 1 .9 2 12.7 2 6.8 1 11.4 1 1.6 4 21.2 1 1.6 2 10.7 1 2.3 3 12.5 1 .7 3 13.2 1 1.4 1 3.5 1-.1 1 1.4 1 5.7 1-2.4 1-.1 2 4.3 1-3.7 1 3.7 1 .8 1-.6 2-5.2 1-1.4 2 1.4 1-2.7 1-1.5 1-3.5 1 .4 2-9.8 1-1.6 1-4.4 1-.9 1-2.7 2-12.5 1-3.9 1-1.7 1-7.5 1-1.8 1-8.1 2-6.4 1-7.4 1-2.4 2-9.5 1-8.7 3-15.7 1-9.2 1-2.4 1-5.3 2-15.6 1-3.8 1-2.1 4-29.1 1-.3 1-9.3 1-3.1 1-9 1-2.7 1-7.3 1-2 1-3.6 3-14.9 1-8.5 1-4.5 2-3.7 1-5.4 1-2.5 1-7.3 1-1.1 1-3.3 1-1.2 1 .4 1-4.6 1-1.5 1-4.6 1-1.2 1 .2 1-2 1-4.5 1 3.8 1-.6 1-1.5 1 .8 1-.3 2-2.9 1 7.3 1-2.1 2 3.1 2 4.3 1-.2 1 5.2 2 4.7 2 6.7 1 1.4 6 28.3 1 2.4 2 12 1 2.7 1 4.7 1 9.4 1-.9 1 8.5 2 9.3 2 14.4 1 .7 1 11.8 2 8.1 1 9.4 2 9 1 2.2 1 11.7 2 8.7 2 14.5 1 2.6 3 14.5 4 23.6 2 6.5 3 14.1 1-.6 1 2.4 1 8 1 1.7 1 4.1 1-.1 2 7 1 2.6 1 1.2 1 3.7 1-1.6 1 3.7 1-1.4 1 1.4 1-1.2 1 2.2 1-1.9 1 3.3 1-3.3 1 .8 2-2.6 1-3 1 3.7 1-6.1 1 1.2 1-7.2 1 3.2 1-4.5 1-1.7 1-9.2 1 2 1-6.1 2-4.1 2-12.8 1-2.9 1-6.6 1-2.3 2-9.8 2-14.4 1-2.5 3-14.4 1-9.7 1-1 3-18.6 1-10.2 1 2.1 2-17.3 1-2.5 3-22.4 1-1 1-4.4 2-16.6 2-3.9 1-11.8 1-2.1 1-7.3 1-2.6 2-8.5 1-7.8 1-4.1 1 2.5 2-14.7 1 .5 1-1.5 1-5.6 2-5.3 3-6.1 1-3.2 1 .5 2-3.6 1-3.6 2 1.6 1-1.4 1 .3 1-.9 1 1.6 1-1.6 1 1.9 1 3.7 1 2.2 1-.7 2 5.9 2 8.1 1-1.2 2 5.4 1 7.2 1-.7 1 6.6 1 2.3 1 4.1 3 17.8 1 2.6 1 6.5 1 .9 2 9.5 2 13.6 3 14.4 2 14.4 1 4 2 12.2 2 8 3 24.7 1 1.9 2 15.1 1 1.1 1 5 3 18.9 1 2 1 9.1 1 2.7 1 .6 1 8.1 1 3.7 2 11.5 2 4.9 1 6.2 2 2.5 1 3.3 1 7.7 1 1.5 1 3.6 1-2.7 1 2.8 1 1.5 1 4.4 1 1.8 1-1.2 1 .8 1 2.3 2-2.3 1 .7 2 3.3 1-4.3 1-1.8 1-.5 2-2.5 1-4.6 1-.8 1-2.7 1-.6 2-8 1-1.1 1-3 2-11.9 1-2.2 1-6.4 1-1.5 2-6.8 2-14.8 1-3 4-20.2 2-12.7 6-31.7 1-9.4 1-.2 2-19.8 1-.9 1-4.3 2-15.7 1-3 1-6.9 2-8.9 1-11.6 1 .5 5-24.9 1-3.1 1-1.2 1-7.5 2-5.9 1-1.2 3-11.5" fill="none" stroke="#c2515f" stroke-width="3.0" stroke-linejoin="round" stroke-linecap="round"/>
<path d="M309 777.2l1-8.7 4-21.7 1-8.9 1 .5 1-9.5 1-3.2 2-15.3 1-2.5 1-6.6 1-3.2 1-9.9 1-2.8 1-5 1 .1 1-4.7 1-8.1 1-1.5 2-8.3 1-.4 1-6.9 1-1.5 1-3.6 1-.4 1-4.5 1 .2 1-4.9 1-1.9 1-1 1-.5 1-1.1 1 5.4 1-6.9 1 1.8 1-.6 1 .9 1 2.6 2-2.1 1-.1 1 5.1 1 2.2 1-2.3 1 6.3 1-3 2 10.7 1-.4 1 1.9 1 9.1 1-1.9 1 7.2 1 .7 2 14 1 .7 2 6.4 3 19.3 4 21.7 1 9.8 1 .7 1 6.1 1 1.1 2 17.3 1 4 3 22.1 1-.1 2 16.4 2 7.7 3 20 3 12.7 2 13.8 1 .7 1 8.4 1 .9 1 5.9 2 5.5 3 15.9 1 2.9 2 1.9 1 2.9 1 .8 1 5.9 1 2.2 1 .3 1 3.4 1 1.5 1 2.9 1-2.9 1 4.4 1-2.5 1 3.7 1-4.7 1 3.6 1-4 1 3.6 2-7.3 1 2.1 1-3.4 1-.9 1 1.1 1-7.2 1-2.8 1 0 1-6.1 1-.8 1-3.1 1-5.4 1-2.6 1-9.4 1 2.8 1-8.5 1-4.9 1 .7 1-5.2 1-9.1 1-3.2 2-13.4 3-9.4 1-10.9 1-3.7 2-13.7 1-2.9 1-11.5 2-10.2 1-2.3 4-23.5 1-8.6 3-15.2 1-8.8 1-3.3 1 0 3-21.9 1-2.5 2-8.5 1-6.7 1-2.2 2-7.2 1-6 2-2.7 1-7.2 1-.4 1-4.6 2-6.1 1-1.7 1 1.3 1-2.3 1 .8 1-6.5 1 1.5 1-2.3 2 5.8 1-6.3 1 3 2 1.5 1 .1 1 1.5 1 5.4 1-3.1 1 5 1 2.1 1-1.5 3 15.2 1-.4 1 2.8 2 10.8 2 8.2 1 1.7 2 7.8 1 8 2 7.7 1 7.2 1 4.6 1 1.3 1 9 3 17.2 1 9 3 10.6 4 28.6 2 9.5 1 8.3 1 2.7 2 16.2 3 15.6 1 .7 1 7.6 3 12 1 7.8 1 1.2 2 10.8 1 3.1 1 7.2 3 6.5 1 4.8 1 2.3 1 .6 1 1.5 1 3.3 1 1 1 4.7 1 1.3 1 .1 1 2.1 1 1.1 1-3.4 1 3.6 1 1.4 2-5.7 1 2.5 1-3 1 1.9 2-2.6 1-2.8 1-5.7 1 3.1 1-7.6 1 2.1 2-9.4 2-5.9 1-.2 1-7.6 1-1.5 1-10.8 1 .6 1-5.3 1-2.3 1-6 1-3.5 1-9.3 1-3 1-6.8 1-3.2 2-14.7 1-1.5 1-4.3 1-9.8 1-3 2-15.5 1-2.8 1-9 1-3 1-9.9 1-5.5 1-2.6 2-10.9 2-14.9 1-.8 1-9.7 1-1.3 1-6 1-3.5 1-12 1-1.2 1-5 1-2.9 1-7.6 1 1.5 2-15.8 1 1 2-8.8 1-.5 2-8.9 1-1.1 1-2.6 1-.8 1-3 1-1.2 1-3.9 1 .2 .7 .6 .3-40.1 .3 132.3 .7 1.2 1 5.1 1-4.6 1 1.1 2 7.3 1-.5 1-2.6 1 4.8 1-1.1 1-.3 1 3.7 2 4 1-2.5 3 10.1 .9 .2 .1-2.4 1 3.7 1-1.7 1 2.2 2 2.1 1 3.3 1-.1 1-4 1 7.3 1-.5 1-2 1 3.1 2 3.8 2-4.1 1 1.7 1-2.4 1 3 1-2.8 1 .8 3-5.2 1 3.1 1-4.8 1.1 3.4 .9-2 1 1.8 1-3.2 1-1 1 .4 1-1.9 1 1.1 1-1.1 1 2.1 1-3.2 1 1.1 2.4-3.1 .6 3.5 1 0 2-3.4 1 .3 2-1.4 3 4.7 1 0 2-1.9 3 1.3 .7-1.3 1.9 25.7 1.4 9.3 1 2.3 3 16.6 1 .1 1 10.6 2 8.1 1 7.6 2 4.6 6 34.7 2 7.9 2 10.8 1 10 1-.7 .9 2.5 .1 1.8 1 2.3 1 .2 1-2.7 1 1.6 1-3.9 1 1.6 .1-2.8 .9 1.4 1 8.3 1-2.3 2 6.3 2 .1 1-1.4 1 5.2 1-4.3 1-1.7 1 2.5 1-.3 1 .5 1 1.3 1-4.2 1-1 1-2.1 1-5 1 1.4 1-1.6 1-4.4 1 2.7 3-10.2 1-5.8 1-1.7 1-7.5 3-8.4 2-11 1-1.3 4-24.7 1-4.6 1-1.6 1-7.2 1-3.7 1-8.1 1-3 1-8.9 2-11.5 2-7.1 1-11.6 1-2.2 1-8.5 1-4 2-13.7 1-2.9 1-7.4 1-.1 1-9.6 1-3.2 4-23.3 1 1.8 1-7.9 1-3 1-7.6 1-1.2 1-5.4 1-2.2 2-9.3 1-.6 1-3.7 1-.1 1-5.7 1-3.3 1 .5 1-4.9 1 4.1 4-8.2 2-.6 1-1.5 2 4.2 1 .6 1-5.3 1 9.3 1-2.7 1-1.4 2 7.9 2 1.6 1 2 1 6.6 1 0 1 4.2 2 4.9 2 12.9 1 .8 1 1.7 2 11.8 1 .8 1 11.1 1 1.4 1 7.7 2 9.3 1 2.7 1 9.9 2 12.3 1 1.8 1 7.4 1 4.1 1 8.4 2 7.7 1 7.9 2 10.2 2 15.1 1 .9 1 7 1 4 1 10.8 2 10.7 1 2.8 1 1.5 2 11.6 2 7.6 1 6.2 2 7.4 1 8 2 .7 1 6.4 2 6.4 1 2.4 1-.4 3 13.8 1-3 1 3.9 1 .9 1-3.9 1 .9 1 5.2 1-4.8 1 .7 1 2.1 1-3.3 1 3.6 1-1.7 1-.7 1-1.9 1-5.2 2 7.8 2-17.2 1-22.1 1-8.5 1 22.6 1 .7 2-9.4 1-2.1 2-13.1 1 0 2-12.5 1-1.1 2-9.1 1-7.8 3-15.2 1-7.7 1-4.7 1-1.5 3-20.9 3-15 1-3.3 1-8.9 2-12.3 1-2.9 3-16.4 1-8.6 1-3.1 1-6.9 1-2.2 1-7.2 1-1.5 3-17.8 2-7 1-5.8 1-2.6 2-8.1 2-4.3 1-4 1-1.2 2-7.4 1-1.6 2 .6 1-3.5 1-1 1-3.1 1 2.1 1-.8 1-1.8 1 2.2 1-.3 1-2.9 1 1.2 2 4.4 1 3.7 1-1.1 5 12.9 2 3.1 2 12.4 1 2.5 1 4.9 2 4.4 2 10.9 1 3.1 3 17.7 1 4.1 1 1.1 1 10.3 1 .7 1 5.3 3 20.3 5 25.4 4 24.3 1 8.2 1 2.8 2 13.2 1-.1 1 10.9 2 7.9 1 9 1 2.7 1 6 4 12.4 2 7.5 2 9.9 1 .3 1 5.9 1 3 1-1.3 2 6.9 2 2.5 1 5.5 1-1 1 3 1-1.6 1 2.1 1-3.4 2 4 1-1.8 1 1.6 2-5.1 1-.7 1 2.5 2-8.1 1-1.8 1-3.9 1 1.9 1-6.1 1-.8 3-12.6 1-1.4 1-5.3 1-1.6 1-3.8 1-7.9 1-3.5 1-1.8 3-20.5 2-9 1-.7 2-15 3-15.5 1-9.3 1-5.2 2-7 1-11.3 1-1 2-15.8 1-.5 1-7.8 3-16.5 1-8.3 2-6.7 1-7.1 1-2.4 1-4.6 1-9.3 1 1 2-10.1 2-3.9 1-9.5 1-.1 2-7.2 2-4.4 2-11.2 1 1 1-1.9 1 2.4 1-4.1 1 .9 1-4.6 1 1.1 1-1 1-.1 1 .9 1 1.9 1-3.5 1 4.2 1 .5 1-.5 1 2.1 1-.2 1 .4 3 8.4 1 1.1 1 7.8 1-1 2 9.5 1 1.3 1 4.5 2 5.4 1 10.5 2 1.2 1 6.7 1 3.7 2 15.3 1 4.6 1 1.9 1 4.9 1 8.5 2 9.3 1 9.3 2 5.2 1 4.7 1 9.9 1 2.2 3 24.6 1-.1 1 8 1 .6 3 23.9 1-.7 3 22 1-.8 2 12.1 3 10.1 1 5.5 1 .9 1 7.2 2 7.2 1 6.8 2-.9 2 8.1 1-.1 1 6.1 1-1.6 1 0 1 .8 1 3.6 1-2.4 1-1.3 1 4.4 1-2.1 1 4 1 .2 1-5.3 1 .1 1-1.5 1 .1 1-2.1 2-7.6 1 1.3 1 .1 1-8 1-1.6 2-5.6 1-7.4 1 .5 1-4.6 1 .3 4-21.5 1-2.8 1-9.3 1 .1 2-12.7 1-2.6 1-8.7 2-9.4 1-9.6 1-2.3 1-6 2-7.9 4-27.4 1 .1 1-7.9 1-4.4 1-11.3 1-2.1 2-9.8 1-8.9 1-2.8 1-6.2 1-.8 1-10.7 1-3.3 2-10.5 1-1.7 2-9.7 4-11.8 1-5.2 1-3.3 1-.9 1-5.8 1 4 2-9.7 1 2.4 1 .8 1-6.6 1 .7 1 2.6 1-4 1 3.1 1 .6 1-1.9 2 3 1-.3 1 2.3 1-.5 1 1.8 1 .5 2 8.2 1 2.5 1 .8 1-.3 2 10.4 1 .6 1 7.5 1-.1 1 6.6 1 2.1 2 10.7 1 3.5 1 7.4 2 5.9 1-.3 1 11.4 2 13.8 1 1.7 1 10.5 2 7.6 1 8.5 1 .7 4 28.1 1 5.9 1 2.3 1 5.4 3 18.8 1 3.7 1 8.7 2 5 2 13.5 1 4.6 1 1.5 1 3.8 1 10.4 3 7.2 1 7.5 1 .8 1 5.1 1-1.7 1 6.5 1 3.8 1 3 1-.2 1 2.8 1 5.2 1-.7 1 4.4 1 .2 1 2 1 .9 1-.6 1 .9 1-2.7 1-.6 2 2.6 1-4.3 1 4.1 1-1.4 1-6.4 2-4.1 2-.4 2-8.7 1-.6 2-5.3 1-4 1-7.4 1-3.2 1-1.1 3-16.3 1-1.5 1-6.7 1-1.3 3-21 1-1.5 2-14.5 2-8.7 3-20.1 2-8.4 2-12.4 1-3.3 2-15.6 1-.9 1-10.3 2-8.8 3-18.1 1-2.1 2-9.9 1-8.5 1-2.8 1-.9 4-17.9 1-7.3 1 4.2 1-8.3 1-1.9 1-.6 4-12 1 3 1-6.6 1 1.9 1-4.4 1 1.2 1-2 1 .9 1-1 2 4.1 1-2.1 1 .8 1-1.5 1 8.8 1-1.7 1-.6 1 6.3 1 .3 1-1.9 1 3.9 1 7.1 1-1.2 4 16.1 1 6 1 3.5 1 2 1 5.5 1 1.4 2 17.3 1 1.2 1 3.9 3 17.8 1 1.2 1 9.5 1 3 2 14.8 1 .9 1 12.9 1.6 4 .4 2.4 1 .6 1 4.2 1-3.3 1 5.7 1 1.3 1 3.1 1 .9 1-1.2 1 1.6 2 5.2 1-1.1 1 5.8 .1-2.4 1.9 11.5 1 3.7 2 12.8 1 .8 3 19.8 .9 3.2 2.1-12.8 1-.1 2-9.9 1 1.5 3-21.9 1-2.6 2-13 1-1.7 2-13.5 2-4.6 1-9.3 1.4-3.3 4.6-29.3 2-7.3 2-13.6 1-2.8 1-11 1 .9 1-4.1 1-7.7 3-10.3 3-13 1-1.4 2-8.1 1-2.6 1 4.5 1-6.3 4-10.2 1-.6 1 .4 1-1 1-3.6 1 4.1 2-3.6 1 2.7 1 5.1 1-3.4 1 2.6 1 .9 1-.4 2 6.4 1 .3 4 12.6 3 11.2 2 10.4 1-.3 1 7.2 5 23.9 1 6.8 1 2.2 1 8.4 1 2.4 1 11 1 4.2 1 2 4 27.1 1 3.9 1 10.1 1 2.7 3 15.1 1 8.9 1 1.3 3 24 1-1.7 1 8.2 3 17.1 1 .4 1 7.3 1 1.1 2 16.1 1-1.7 1 6 1 3.5 1 .2 1 6.6 1 .5 2 9 1 .2 1 4.3 1-1.3 2 5.4 1 .4 1 1.1 1 2.4 1-1.5 1 2.5 1-1.4 1 2.7 1-2.2 1-1.1 1 1.3 2-2.7 1-3.8 1 .9 2-8.3 1-.3 1 1 2-10.7 1-.8 1-6 4-12.7 3-15.3 2-8.3 2-11.4 1-1.7 3-19 3-15.9 1-8.6 1-5.1 1-2.4 1-8.9 1-3.9 1-11 1-2 4-24 1-8.7 1-3.2 2-12.7 1-1.6 1-10.1 2-8.9 1-1.6 1-7.9 2-6.6 1-9.5 1-1 1-2.6 2-9.5 4-13.6 1 2.3 1-3.8 1-1.3 2-8.1 1 0 1 1.8 2-5.6 1 2.3 2-2 1 4 1-4.3 1 1.4 1 .5 1 3.9 2 2.2 1 .2 2 4.5 1-.6 1 3.6 1 6.6 1 2.9 1-1 1 7.2 1 .6 1 3.5 1 7.9 2 7.5 2 11.1 2 6.4 4 25.1 1 .3 1 12.6 2 6.1 1 9.3 1 2.2 1 4.7 1 9.7 1 4 1 8.3 1 2.9 5 27.7 2 15.9 1 2.9 1 5 1 8.9 1 .2 3 19.1 1 3 3 13.4 1 8.1 1-2.4 2 13.8 1 1.2 1 3 1 .4 1 5.5 1 .4 1 4.6 1-3.6 1 4.9 1-.9 1 6.9 1-1.9 1 3.9 1-2 1 .3 1 4.4 1-.8 2 0 1-2.1 2-.7 1-4.2 1-2.5 1 1.6 2-6.8 2-4 1-5.6 2-6.3 1-1.9 1-7.7 1-3.5 1-.2 2-11.5 1-1 1-6.9 2-7.8 1-6 1-2.8 1-7.2 1-2.8 1-13.3 3-13.4 4-24.5 1-2.6 1-8.3 3-14.9 2-15.6 1-1.3 1-11.3 1-5.1 1-2.2 3-18.5 2-6.3 1-7.5 1-.3 2-14.9 1-2.7 3-12.5 2-4 4-15.8 2 0 2-4.5 1-4.3 1 .8 1-.2 1 .6 1-3.5 2 1.5 1 0 1-2.3 1 4.1 1-2.4 1 2 1 3.6 1 .2 2 7.1 1 1.4 1 3.7 1 .2 1 3.9 2 5.1 1 10.8 1-2.5 1 7.8 1 .5 1 6.2 2 5 1 10.4 1 1.4 2 13.9 1 .7 3 18.8 1-1.5 2 20.6 2 9 3 18.9 1 3 2 15.3 3 13.4 2 13.6 2 10.1 1 2.1 1 10.1 2 7.8 1 8.1 1 2.7 2 10.4 3 9.7 1 6.3 1 3 1-.5 1 9.6 1 .7 1 1.7 1 4 1 1.5 1 3.2 2 1.7 1 4.3 1 .6 2 3.1 1-.1 1 2.4 1-3.3 1-1.8 1-.3 1 .2 1 3.3 1-5.6 1 2.8 1-2.7 1-5.2 1 3.3 1-5.6 3-4.8 1-5.4 1-1.6 2-10.1 1 .9 2-10.1 2-7.4 1-6.8 1-4.3 1-2.3 2-14.2 1-2.1 1-5.9 1-10.1 1-5 1-.3 2-15.1 1-3 3-20.8 1-.3 3-24.1 2-6.7 1-9.8 3-15.4 2-13.7 5-21.4 1-6.7 2-8 1-6.3 2-7.7 1 .8 1-7.3 1-1.1 2-5.4 1-6.4 1-1.7 1 .6 1-1.2 1-3.8 1-.7 1-5.1 1 4.6 1-.1 1-3.4 3-2.1 1-2 1 5 1 1.2 1 3.3 1-2.3 1 .5 1 3.8 1-.6 1 4.3 1-.2 2 10.2 1 2.3 2 8.8 1 .1 2 4.8 1 7.9 2 10.8 1 .9 2 12.6 1 2.8 1 5.4 1 9.7 1 .7 3 18.8 1 1.8 2 11.5 1 11.3 2 8 1 9.8 1 5" fill="none" stroke="#55ad45" stroke-width="3.0" stroke-linejoin="round" stroke-linecap="round"/>
<line x1="309.0" y1="580.0" x2="2098.0" y2="580.0" stroke="#aaa" stroke-width="3"/>
<line x1="309.0" y1="972.0" x2="2098.0" y2="972.0" stroke="#aaa" stroke-width="3"/>
<line x1="2098.0" y1="580.0" x2="2098.0" y2="972.0" stroke="#c8c8c8" stroke-width="2"/>
<line x1="309.0" y1="580.0" x2="309.0" y2="972.0" stroke="#111" stroke-width="2.5"/>
<line x1="286.0" y1="777.5" x2="309.0" y2="777.5" stroke="#333" stroke-width="2.5"/>
<line x1="286.0" y1="917.0" x2="309.0" y2="917.0" stroke="#333" stroke-width="2.5"/>
<rect x="1813" y="593" width="268" height="208" fill="#fff"/>
<line x1="1813.0" y1="593.0" x2="1813.0" y2="801.0" stroke="#222" stroke-width="2.5"/>
<line x1="2081.0" y1="593.0" x2="2081.0" y2="801.0" stroke="#222" stroke-width="2.5"/>
<line x1="1821.0" y1="628.0" x2="1906.0" y2="628.0" stroke="#86c078" stroke-width="3.5"/>
<text x="1932.0" y="650.0" font-family="'DejaVu Sans Condensed','DejaVu Sans','Liberation Sans',sans-serif" font-size="58.5" text-anchor="start" fill="#1a1a1a" stroke="#1a1a1a" stroke-width="0.25">Am_r</text>
<line x1="1821.0" y1="697.0" x2="1906.0" y2="697.0" stroke="#c88890" stroke-width="3.5"/>
<text x="1932.0" y="719.0" font-family="'DejaVu Sans Condensed','DejaVu Sans','Liberation Sans',sans-serif" font-size="58.5" text-anchor="start" fill="#1a1a1a" stroke="#1a1a1a" stroke-width="0.25">Am_s</text>
<line x1="1821.0" y1="767.0" x2="1906.0" y2="767.0" stroke="#80aad4" stroke-width="3.5"/>
<text x="1932.0" y="789.0" font-family="'DejaVu Sans Condensed','DejaVu Sans','Liberation Sans',sans-serif" font-size="58.5" text-anchor="start" fill="#1a1a1a" stroke="#1a1a1a" stroke-width="0.25">Am_t</text>
<text x="275.0" y="660.0" font-family="'DejaVu Sans Condensed','DejaVu Sans','Liberation Sans',sans-serif" font-size="56" text-anchor="end" fill="#1a1a1a" stroke="#1a1a1a" stroke-width="0.25">1000</text>
<text x="275.0" y="797.5" font-family="'DejaVu Sans Condensed','DejaVu Sans','Liberation Sans',sans-serif" font-size="56" text-anchor="end" fill="#1a1a1a" stroke="#1a1a1a" stroke-width="0.25">0</text>
<text x="275.0" y="937.0" font-family="'DejaVu Sans Condensed','DejaVu Sans','Liberation Sans',sans-serif" font-size="56" text-anchor="end" fill="#1a1a1a" stroke="#1a1a1a" stroke-width="0.25">-1000</text>
<text transform="translate(107.0,777.0) rotate(-90)" font-family="'DejaVu Sans Condensed','DejaVu Sans','Liberation Sans',sans-serif" font-size="57.5" text-anchor="middle" fill="#1a1a1a" stroke="#1a1a1a" stroke-width="0.25">grid curr(A)</text>
<line x1="309.0" y1="1122.0" x2="2098.0" y2="1122.0" stroke="#555" stroke-width="2.2" stroke-dasharray="3.5,8.7"/>
<line x1="309.0" y1="1321.0" x2="2098.0" y2="1321.0" stroke="#f2f2f2" stroke-width="2"/>
<line x1="464.0" y1="1084.0" x2="464.0" y2="1476.0" stroke="#999" stroke-width="2.2" stroke-dasharray="3.5,8.7"/>
<line x1="1241.5" y1="1084.0" x2="1241.5" y2="1476.0" stroke="#555" stroke-width="2.2" stroke-dasharray="3.5,8.7"/>
<line x1="1630.2" y1="1084.0" x2="1630.2" y2="1476.0" stroke="#666" stroke-width="2.2" stroke-dasharray="3.5,8.7"/>
<line x1="2019.0" y1="1084.0" x2="2019.0" y2="1476.0" stroke="#bbb" stroke-width="2.2" stroke-dasharray="3.5,8.7"/>
<path d="M309 1117.8l2 .4 2 .3 2 1.4 2-2.1 2-.9 2 2.3 2-.2 2 .2 2-.3 2-.7 2 .3 2 .7 2-3.8 2-.8 2 2.6 2 .7 2-.7 2-1.6 2-1.2 2 1.7 2-.9 2-.2 2-2.8 2-.6 2 4 2-6 2 4 2 2 2-.4 2-.6 2-4.6 2 2.6 2-1.2 2-.3 2 1.1 2 .4 2-2.4 2 2.8 2-1.7 2 2.7 2-3.3 2 4.6 2-2.9 2 .4 2-1 2 .3 2-.3 2 1.7 2-1.1 2-4.2 2 5.9 2 2.3 2-3.2 2 2.9 2-7 2 3.8 2 3 2 .5 2-3.1 2 2.1 2-2.3 2 1.2 2 2.1 2-2.5 2-.8 2 .2 2-.1 2-.3 2 .8 2-1.2 2 1.3 2-3.4 2 4.5 2-.8 2 0 2-3 2-.4 2 3.6 2-3.4 2 1.5 2-3.6 2 2.3 2 1.9 2 .4 2-2.8 2 2.2 2-2.1 2 1 2 1 2-1.1 2-4.6 2 2 2 3 2 1.7 2-.8 2-.9 2 2.1 2 0 2-.2 2 1.6 2 1 2-.7 2-1.2 2 2.1 2 .4 2-2.3 2 1.5 2-.1 2-.6 2 .6 2-.6 2 .3 2 .7 2 .2 2-2.9 2 .2 2-.2 2 2.9 2-1.4 2-.4 2-.4 2-1.9 2 .4 2 .9 2-1.6 2 2.1 2-2.8 2-.1 2 4.4 2-3.3 2-.6 2 .4 2 2.4 2-1.4 2-2 2 .1 2 2 2-3.9 2 5.2 2-4.6 2 1.3 2-.6 2 .6 2-1.1 2 1 2 .5 2 1.4 2-1.4 2-.2 2 2.5 2 2 2-.6 2-1.8 2 2.9 2 .2 2 .4 2-1.8 2-1.4 2 0 2 3.5 2-.6 2 .1 2 1.2 2-2.7 2 1.2 2-.1 2-.9 2 2.7 2-.8 2-.6 2 1.7 2-.5 0 13.7-2-1.1-2-.9-2 1.7-2 1-2-2.8-2 3.4-2-.4-2-1.7-2 .7-2-1.5-2-1.1-2 2.9-2-1-2 1.6-2-1.2-2 0-2-2.9-2 2.7-2 .8-2-3.5-2 2.4-2-2.6-2 3.2-2-.9-2-.2-2-.1-2-.5-2-.2-2-.9-2 .5-2 1.2-2-1.4-2 3.1-2 1.7-2-4-2 1-2 2.7-2 .8-2-.6-2-3.1-2-.2-2 2.4-2 .5-2 .5-2 .4-2-1.4-2-.7-2 1.1-2-.9-2-1.5-2 .1-2-1.9-2 2.2-2-1.6-2 1.9-2-3.5-2 .4-2-.7-2-.5-2 1.7-2-2.2-2 1.9-2-1.9-2 1.1-2 .2-2-.9-2-2-2 1.3-2 .5-2-.9-2 1.2-2-1.6-2-1.4-2 2.4-2-1.1-2 1.7-2-1.8-2 .4-2-1.5-2 2.6-2 1-2-2.2-2-.5-2 2.9-2-3.2-2 2-2 .4-2-.3-2-1-2 3.5-2-1.1-2-1.1-2-.3-2-.4-2 1.8-2 1.1-2 1-2-.3-2-2.4-2 1.5-2-1.6-2 3-2-.6-2-2.6-2 1.9-2-1.3-2 2.4-2-2.4-2 .1-2-.5-2 2.9-2-2.5-2 1.5-2-.9-2 2.4-2-1.2-2-1.4-2 2.6-2-3-2 .6-2-.7-2 3.5-2-2.5-2-1.4-2 2.6-2 1.2-2-3.5-2-.5-2 .6-2-.1-2 3-2 .8-2 .3-2-2.4-2 3-2-3-2 2.5-2-1.5-2 1.1-2-1.1-2 1.5-2-.1-2-2.4-2-.4-2 1.9-2 5.6-2-6.3-2 .6-2-.6-2-1.2-2 1.9-2 .1-2 1.7-2-.7-2-1.5-2 6.1-2-3.5-2-3.6-2 .4-2 1.2-2 .2-2 .1-2-1.2-2-.6-2 0-2 .3-2 .3-2-1.1-2-.3-2 2.1-2-2.4-2 1.6z" fill="#6cc85e" stroke="#6cc85e" stroke-width="1.2" stroke-linejoin="round"/>
<path d="M309 1120.3l2 .3 2 .2 2 .9 2-1.2 2-.6 2 1.4 2-.1 2 .1 2-.1 2-.5 2 .2 2 .4 2-2.4 2-.5 2 1.5 2 .4 2-.4 2-1 2-.8 2 1 2-.7 2-.1 2-1.8 2-.4 2 2.3 2-3.6 2 2.3 2 1.2 2-.3 2-.4 2-2.8 2 1.5 2-.8 2-.2 2 .7 2 .2 2-1.5 2 1.7 2-1 2 1.6 2-1.9 2 2.7 2-1.7 2 .3 2-.6 2 .2 2-.2 2 1.1 2-.7 2-2.5 2 3.6 2 1.4 2-2 2 1.8 2-4.2 2 2.3 2 1.8 2 .3 2-1.9 2 1.3 2-1.4 2 .7 2 1.2 2-1.5 2-.5 2 .1 2-.1 2-.2 2 .4 2-.8 2 .8 2-2.1 2 2.6 2-.5 2 0 2-1.9 2-.3 2 2.1 2-2.1 2 .8 2-2.1 2 1.3 2 1.1 2 .2 2-1.7 2 1.3 2-1.2 2 .5 2 .6 2-.6 2-2.7 2 1.2 2 1.8 2 1 2-.4 2-.5 2 1.3 2 0 2-.1 2 1.1 2 .6 2-.3 2-.7 2 1.4 2 .2 2-1.3 2 1 2 0 2-.3 2 .4 2-.3 2 .2 2 .5 2 .2 2-1.7 2 .1 2 0 2 1.7 2-.8 2-.2 2-.3 2-1.1 2 .3 2 .5 2-1 2 1.2 2-1.6 2-.1 2 2.6 2-2 2-.4 2 .2 2 1.5 2-.9 2-1.2 2 0 2 1.2 2-2.4 2 3.2 2-2.8 2 .7 2-.3 2 .3 2-.6 2 .6 2 .4 2 .8 2-.8 2-.1 2 1.5 2 1.2 2-.3 2-1 2 1.7 2 .2 2 .3 2-1 2-.8 2 0 2 2.2 2-.3 2 .1 2 .7 2-1.6 2 .8 2-.1 2-.5 2 1.7 2-.5 2-.4 2 1.1 2-.4 0 8.3-2-.7-2-.5-2 1-2 .6-2-1.7-2 2-2-.3-2-1-2 .4-2-.9-2-.7-2 1.7-2-.7-2 .9-2-.7-2-.1-2-1.8-2 1.6-2 .4-2-2.1-2 1.4-2-1.6-2 1.9-2-.6-2-.1-2-.1-2-.3-2-.1-2-.6-2 .3-2 .7-2-.8-2 1.8-2 1.1-2-2.4-2 .6-2 1.7-2 .4-2-.3-2-1.8-2-.1-2 1.4-2 .3-2 .4-2 .2-2-.8-2-.4-2 .7-2-.6-2-.9-2 .1-2-1.2-2 1.4-2-1-2 1.1-2-2.2-2 .2-2-.4-2-.3-2 .9-2-1.3-2 1-2-1.1-2 .6-2 0-2-.6-2-1.3-2 .8-2 .2-2-.6-2 .7-2-1.1-2-.9-2 1.4-2-.7-2 1-2-1.1-2 .2-2-1-2 1.6-2 .6-2-1.4-2-.3-2 1.7-2-1.9-2 1.3-2 .2-2-.1-2-.6-2 2.1-2-.6-2-.6-2-.2-2-.2-2 1.2-2 .7-2 .7-2-.1-2-1.4-2 .9-2-.9-2 1.8-2-.3-2-1.5-2 1.2-2-.7-2 1.4-2-1.4-2 .1-2-.3-2 1.8-2-1.5-2 .9-2-.5-2 1.4-2-.7-2-.9-2 1.6-2-1.8-2 .3-2-.4-2 2.1-2-1.6-2-.8-2 1.5-2 .7-2-2.1-2-.3-2 .3-2 0-2 1.8-2 .4-2 .2-2-1.4-2 1.8-2-1.8-2 1.5-2-.9-2 .7-2-.6-2 .9-2 0-2-1.4-2-.2-2 1.2-2 3.4-2-3.7-2 .4-2-.3-2-.7-2 1.2-2 .2-2 1.1-2-.4-2-.9-2 3.8-2-2.1-2-2.1-2 .2-2 .8-2 .2-2 0-2-.7-2-.4-2 0-2 .2-2 .2-2-.7-2-.2-2 1.3-2-1.5-2 .9z" fill="#3fb82f" stroke="#3fb82f" stroke-width="1.2" stroke-linejoin="round"/>
<path d="M654.5 1120l1 193.1 24 6.3 61-1 81 1.2 81-1.2 82 1.2 81-1.2 81 1.2 81-1.2 81 1.2 81-1.2 79 1.2 45.5-.6 2.5 93.7 5.1-50.3 8-13.3 4.9 10.1 8-133.1 6.7-16.5 3.1-86.4" fill="none" stroke="#62a856" stroke-width="3" stroke-linejoin="round" stroke-linecap="round"/>
<path d="M1552.3 1118.7l2 13.3 2 5.5 2 2.6 2 .4 2 0 2 .5 2 .4 2 1.3 2-.2 2-1.7 2 1.4 2-1 2 .4 2 .6 2-8.7 2 6.5 2-3.6 2-1.5 2-3.3 2-1.7 2-.5 2-2.5 2 1.3 2-1.9 2 2 2-1.3 2-3 2 1.6 2-1.6 2-1.4 2 2.1 2-.7 2-9.5 2 5 2 1.4 2 1 2-.3 2-1.8 2-1.9 2 1.8 2-1 2 .6 2 1 2-3.1 2 .6 2 1.9 2 1 2-3.7 2-.2 2 .8 2-.1 2 1.1 2 .2 2-1.2 2 .9 2-.6 2-1.6 2 1.3 2-.6 2 2.7 2-.4 2-1.2 2 .8 2-2.5 2-.4 2 1 2 2 2-3.1 2 1.4 2-1.8 2-.9 2 1.2 2-7.5 0 23.8-2-2.5-2 2.6-2-2.8-2 2.5-2-.3-2 .5-2-1.7-2-.1-2 2-2 .1-2-.7-2 1.1-2 1.2-2-2.6-2 .1-2-.6-2 .8-2 1.4-2-1.9-2 4-2-1.1-2-1-2 .8-2-.3-2 .3-2-1.3-2 .8-2 2-2-2.2-2 3.5-2-.4-2 1.5-2-4.1-2 3.6-2 .5-2-2.4-2-.6-2 4.1-2-.8-2-.3-2 1.2-2 1.4-2-2.3-2-.2-2 .3-2 .7-2 .7-2 .6-2-1.2-2 2.4-2 .4-2-.8-2 1.3-2 .8-2 4.1-2-1-2 9-2 2.2-2-4.6-2-.6-2 .1-2 0-2-1.5-2 .1-2-.3-2-.9-2 1.5-2-1.5-2-.7-2 1.5-2 .5-2-6.9-2-16.3z" fill="#6cc85e" stroke="#6cc85e" stroke-width="1.2" stroke-linejoin="round"/>
<path d="M1552.3 1120.5l2 13.5 2 6.2 2 1.7 2 .4 2 .1 2 .5 2 .3 2 .9 2 .1 2-1 2 1 2-.4 2 .3 2 .1 2-5.9 2 3.2 2-2.9 2-1.6 2-2.7 2-1.7 2-1 2-1.6 2 .6 2-1.3 2 1 2-.9 2-1.9 2 .7 2-1.1 2-1 2 1.1 2-.5 2-5.9 2 2.8 2 .7 2 .4 2-.3 2-1.2 2-1.3 2 1.1 2-.7 2 .3 2 .6 2-2 2 .4 2 1.1 2 .5 2-2.3 2-.2 2 .4 2-.1 2 .6 2 .1 2-.8 2 .5 2-.4 2-1 2 .7 2-.4 2 1.5 2-.3 2-.7 2 .4 2-1.5 2-.4 2 .6 2 1.1 2-1.9 2 .8 2-1.1 2-.6 2 .7 2-4.6 0 14.3-2-1.5-2 1.6-2-1.6-2 1.6-2-.2-2 .4-2-1-2 0-2 1.3-2 .1-2-.4-2 .7-2 .9-2-1.6-2 .1-2-.3-2 .5-2 1-2-1.1-2 2.4-2-.5-2-.6-2 .5-2-.1-2 .3-2-.8-2 .6-2 1.2-2-1.3-2 2.2-2-.2-2 1-2-2.4-2 2.2-2 .4-2-1.3-2-.2-2 2.6-2-.3-2 0-2 .9-2 1-2-1.3-2 0-2 .4-2 .6-2 .5-2 .6-2-.6-2 1.6-2 .4-2-.3-2 1.5-2 1.1-2 3.2-2 .2-2 6-2 2-2-2-2-.1-2-.1-2-.1-2-1-2-.1-2-.3-2-.7-2 .8-2-1.1-2-.5-2 .8-2 .1-2-7.1-2-15.2z" fill="#3fb82f" stroke="#3fb82f" stroke-width="1.2" stroke-linejoin="round"/>
<path d="M1699.4 1118.3l2-2.7 2 1.5 2 2.1 2-.5 2 .8 2-2.6 2 1.6 2-1.1 2-1.2 2 2.4 2-1.2 2-.1 2-1.5 2 2.1 2-6.9 2 5.7 2-1 2 3.5 2 .1 2-1.4 2-2.5 2 .7 2 1.4 2 1 2-1.1 2 1.9 2-1.8 2-1.7 2 .8 2-.9 2 1 2 1.9 2-1.1 2 .2 2 .4 2-1 2 1.5 2-1.8 2 .2 2 .4 2 1.7 2-1.8 2 1.5 2-1.9 2 .5 2 2.4 2-1.8 2-.8 2-.2 2 2.5 2-1 2-.4 2-.4 2-1.1 2 2.6 2-2.9 2 1 2 2 2-1.9 2-1.8 2 1.8 2-1 2 .6 2-2.3 2-1 2 .8 2-6.4 2 5.5 2 .9 2-.4 2 .4 2-2.3 2 3.5 2-.9 2-1 2 .2 2 1.3 2-1.1 2-2.6 2-.3 2 4.7 2-3.4 2 2.3 2-4.9 2 1.7 2 4.2 2-2.3 2 1.4 2-.3 2 1 2-.5 2 1.2 2 .1 2-.6 2-1.5 2 .2 2 2 2-1.4 2-.7 2 .3 2 0 2-.3 2-.1 2 1.5 2 1.7 2-2.4 2 2.2 2-.4 2-.7 2 1.7 2-2.1 2 .4 2 1.5 2-2.8 2 1.5 2-.7 2-.3 2-.9 2 .6 2 0 2 2.3 2-1.4 2 .8 2 .3 2 .2 2-2.6 2 1.2 2-.4 2-.1 2 1.4 2-1.4 2 1 2 .2 2-10.1 2 8.5 2 .6 2 .2 2-.5 2-.5 2 1.5 2-1.2 2-.9 2 2.2 2-.9 2-1.8 2 2.1 2 .4 2-2.2 2 2.2 2 .1 2-1 2 1.4 2 .7 2-2.5 2 .6 2-.9 2 3.4 2-2.5 2 2.1 2 0 2-1.1 2-.1 2-.8 2 1.8 2-2.2 2 1.7 2 1.1 2-.3 2-1.1 2 .5 2-2.8 2 3.7 2-2.4 2 .5 2 0 2-2.2 2 2.9 2-6.2 2 2.7 2 2 2 2.5 2-.7 2 1.1 2-3.5 2-1.2 2 .8 2 3.7 2-1.1 2-1.4 2-1.6 2 4.1 2-1.9 2-1.4 2 2.8 2-2.5 2 1.7 2-1.7 2-.2 2 3 0 11.2-2 .8-2 1.5-2 1.1-2-.7-2 2.7-2-.6-2-1.2-2 1.6-2 .3-2 1.4-2-4.4-2 1.3-2 5.1-2-2.5-2-2.3-2 2.9-2-2.6-2 2.7-2-2.5-2 3.6-2-2.3-2-.2-2-2.2-2 4.3-2-.4-2-4.1-2 2-2 .9-2-2.6-2-.7-2 1.7-2-.1-2-.2-2 1-2-1-2-1.1-2-2-2-1.1-2 3.4-2-3-2 .1-2 5.3-2-6.1-2 1.5-2-2.6-2 2.1-2 1.1-2-2-2-.5-2 1.1-2-.1-2-.8-2 1.8-2 .8-2-1.4-2 2.5-2-4.2-2 3.1-2-1.6-2 1.4-2-2-2-.8-2 2.8-2 1-2-.9-2-.2-2-.1-2-.6-2 2-2-2.6-2 1.6-2 6.8-2-6.9-2-2.8-2 1.4-2 .9-2-2.3-2 2.4-2-2.7-2 1.4-2 1.1-2-1.5-2 .9-2-2.5-2 1.3-2 .7-2-.1-2 .6-2-2.1-2 1.7-2-1-2-2.1-2 2.3-2-.8-2-1-2 1.6-2 .1-2 1-2 0-2-.3-2 .1-2-.1-2-.8-2 1.5-2-.4-2-.6-2-.1-2 5.7-2-6.1-2 3.7-2-3.4-2 2.1-2 0-2 2.7-2-1.6-2 .4-2-.7-2-2-2 3.5-2 .3-2 1.3-2-2.5-2-.4-2-.5-2 3.5-2-3.8-2 .4-2 .1-2 2.7-2 .7-2 .2-2-3.2-2 1.1-2 1-2 .1-2 .1-2 .6-2 0-2-1.2-2-.9-2 1.2-2-3.5-2 2.5-2-.8-2-2-2 1.5-2-.3-2-.6-2-1.4-2-.4-2 2.2-2-1.4-2 .1-2-.2-2 1-2 5.7-2-6.4-2 1.3-2-2.7-2-.1-2 1.2-2 .6-2 1.3-2 .1-2 .3-2 3.4-2-4.6-2-.9-2 1.2-2-.6-2 .6-2 2.2-2-.6-2-1.1-2-.6-2 .1-2 2.4-2-3.3-2 3.5-2-.4-2 .2-2-1.7-2 2.3-2-3.2-2 .3-2 1.4-2-1.3-2 1.6-2-.3-2-1.9-2 1.1-2-2-2 1.5-2 1.6-2-1.6-2-1-2-.8-2 2.6-2-2.3z" fill="#6cc85e" stroke="#6cc85e" stroke-width="1.2" stroke-linejoin="round"/>
<path d="M1699.4 1120.5l2-1.6 2 1 2 1.3 2-.3 2 .5 2-1.5 2 1 2-.6 2-.7 2 1.5 2-.7 2 0 2-.9 2 1.2 2-4.1 2 3.4 2-.6 2 2.1 2 0 2-.8 2-1.6 2 .4 2 .9 2 .5 2-.6 2 1.1 2-1.1 2-1.1 2 .4 2-.5 2 .6 2 1.1 2-.7 2 .1 2 .2 2-.6 2 .9 2-1.1 2 .2 2 .2 2 1 2-1.1 2 1 2-1.2 2 .4 2 1.4 2-1.1 2-.4 2-.1 2 1.6 2-.7 2-.1 2-.3 2-.6 2 1.6 2-1.7 2 .6 2 1.2 2-1.1 2-1.1 2 1.1 2-.6 2 .4 2-1.5 2-.5 2 .4 2-3.9 2 3.3 2 .5 2-.3 2 .2 2-1.3 2 2 2-.6 2-.6 2 0 2 .7 2-.7 2-1.6 2-.2 2 2.7 2-2 2 1.2 2-2.9 2 .9 2 2.5 2-1.4 2 .8 2-.2 2 .6 2-.4 2 .7 2 .1 2-.4 2-.9 2 .1 2 1.2 2-.8 2-.5 2 .3 2-.1 2-.1 2 0 2 .9 2 1 2-1.4 2 1.4 2-.2 2-.4 2 1 2-1.2 2 .2 2 1 2-1.6 2 .9 2-.4 2-.2 2-.5 2 .4 2 0 2 1.3 2-.8 2 .5 2 .2 2 .1 2-1.5 2 .6 2-.2 2-.1 2 .9 2-.9 2 .6 2 .1 2-6.1 2 5 2 .4 2 .1 2-.3 2-.3 2 .9 2-.8 2-.5 2 1.3 2-.5 2-1.1 2 1.2 2 .3 2-1.3 2 1.3 2 .2 2-.6 2 .8 2 .5 2-1.5 2 .4 2-.4 2 2 2-1.4 2 1.3 2 .1 2-.7 2 0 2-.4 2 1.1 2-1.2 2 1 2 .7 2-.1 2-.6 2 .3 2-1.6 2 2.2 2-1.4 2 .3 2 .1 2-1.4 2 1.8 2-3.7 2 1.6 2 1.2 2 1.5 2-.5 2 .7 2-2.1 2-.8 2 .5 2 2.1 2-.6 2-.9 2-1 2 2.4 2-1.2 2-.9 2 1.7 2-1.6 2 1 2-1 2-.2 2 1.8 0 6.7-2 .5-2 .9-2 .8-2-.4-2 1.6-2-.3-2-.7-2 1-2 .3-2 .8-2-2.6-2 .8-2 3.1-2-1.5-2-1.3-2 1.8-2-1.6-2 1.7-2-1.5-2 2.1-2-1.3-2-.2-2-1.3-2 2.6-2-.3-2-2.5-2 1.2-2 .5-2-1.6-2-.4-2 1-2-.2-2-.1-2 .5-2-.6-2-.7-2-1.3-2-.7-2 2-2-1.9-2 0-2 3.2-2-3.8-2 .9-2-1.6-2 1.2-2 .6-2-1.2-2-.3-2 .6-2 0-2-.6-2 1.1-2 .5-2-.8-2 1.4-2-2.5-2 1.9-2-1-2 .9-2-1.2-2-.4-2 1.7-2 .6-2-.6-2-.1-2 0-2-.3-2 1.2-2-1.5-2 .9-2 4.1-2-4.1-2-1.7-2 .9-2 .5-2-1.4-2 1.5-2-1.7-2 .9-2 .6-2-.9-2 .5-2-1.5-2 .7-2 .4-2-.1-2 .4-2-1.4-2 1.1-2-.7-2-1.3-2 1.3-2-.4-2-.7-2 1-2 0-2 .6-2 0-2-.2-2 0-2 0-2-.5-2 .9-2-.2-2-.4-2 0-2 3.4-2-3.6-2 2.2-2-2-2 1.3-2 .1-2 1.6-2-.8-2 .3-2-.4-2-1.2-2 2.2-2 .2-2 .9-2-1.5-2-.2-2-.2-2 2.1-2-2.2-2 .3-2 .1-2 1.6-2 .5-2 .1-2-1.8-2 .6-2 .6-2 .1-2 .1-2 .3-2 0-2-.7-2-.5-2 .7-2-2.1-2 1.4-2-.5-2-1.2-2 .9-2-.2-2-.4-2-.8-2-.3-2 1.3-2-.9-2 0-2-.1-2 .6-2 3.4-2-3.9-2 .8-2-1.6-2-.1-2 .7-2 .4-2 .8-2 .1-2 .1-2 2.1-2-2.7-2-.6-2 .8-2-.3-2 .3-2 1.4-2-.3-2-.7-2-.3-2 0-2 1.5-2-1.9-2 2.1-2-.2-2 .1-2-1-2 1.4-2-1.9-2 .2-2 .8-2-.8-2 .9-2-.2-2-1.1-2 .6-2-1.3-2 .9-2 1-2-1.1-2-.6-2-.5-2 1.5-2-1.5z" fill="#3fb82f" stroke="#3fb82f" stroke-width="1.2" stroke-linejoin="round"/>
<line x1="309.0" y1="1084.0" x2="2098.0" y2="1084.0" stroke="#555" stroke-width="3"/>
<line x1="309.0" y1="1476.0" x2="2098.0" y2="1476.0" stroke="#444" stroke-width="3"/>
<line x1="2098.0" y1="1084.0" x2="2098.0" y2="1476.0" stroke="#c8c8c8" stroke-width="2"/>
<line x1="309.0" y1="1084.0" x2="309.0" y2="1476.0" stroke="#222" stroke-width="2.5"/>
<line x1="286.0" y1="1122.0" x2="309.0" y2="1122.0" stroke="#333" stroke-width="2.5"/>
<rect x="1921" y="1096" width="159" height="69" fill="#fff" stroke="#333" stroke-width="3"/>
<line x1="1930.0" y1="1131.0" x2="2013.0" y2="1131.0" stroke="#7fbf70" stroke-width="3.5"/>
<text x="2042.0" y="1151.0" font-family="'DejaVu Sans Condensed','DejaVu Sans','Liberation Sans',sans-serif" font-size="58.5" text-anchor="start" fill="#1a1a1a" stroke="#1a1a1a" stroke-width="0.25">P</text>
<text x="275.0" y="1142.0" font-family="'DejaVu Sans Condensed','DejaVu Sans','Liberation Sans',sans-serif" font-size="56" text-anchor="end" fill="#1a1a1a" stroke="#1a1a1a" stroke-width="0.25">5</text>
<text x="275.0" y="1343.0" font-family="'DejaVu Sans Condensed','DejaVu Sans','Liberation Sans',sans-serif" font-size="56" text-anchor="end" fill="#1a1a1a" stroke="#1a1a1a" stroke-width="0.25">0</text>
<text transform="translate(111.0,1280.0) rotate(-90)" font-family="'DejaVu Sans Condensed','DejaVu Sans','Liberation Sans',sans-serif" font-size="61" text-anchor="middle" fill="#1a1a1a" stroke="#1a1a1a" stroke-width="0.25">P(W)</text>
<text x="312.0" y="1069.0" font-family="'DejaVu Sans Condensed','DejaVu Sans','Liberation Sans',sans-serif" font-size="54" text-anchor="start" fill="#1a1a1a" stroke="#1a1a1a" stroke-width="0.25">×</text>
<text x="366.0" y="1069.0" font-family="'DejaVu Sans Condensed','DejaVu Sans','Liberation Sans',sans-serif" font-size="58" text-anchor="start" fill="#1a1a1a" stroke="#1a1a1a" stroke-width="0.25">10</text>
<text x="428.0" y="1029.0" font-family="'DejaVu Sans Condensed','DejaVu Sans','Liberation Sans',sans-serif" font-size="40" text-anchor="start" fill="#1a1a1a" stroke="#1a1a1a" stroke-width="0.25">5</text>
<text x="40.0" y="1186.0" font-family="'Liberation Serif',serif" font-size="60" text-anchor="start">10</text>
<text x="94.0" y="1141.0" font-family="'DejaVu Sans Condensed','DejaVu Sans','Liberation Sans',sans-serif" font-size="41" text-anchor="start" fill="#1a1a1a" stroke="#1a1a1a" stroke-width="0.25">5</text>
<line x1="309.0" y1="1782.0" x2="2098.0" y2="1782.0" stroke="#555" stroke-width="2.2" stroke-dasharray="3.5,8.7"/>
<line x1="464.0" y1="1589.0" x2="464.0" y2="1979.0" stroke="#999" stroke-width="2.2" stroke-dasharray="3.5,8.7"/>
<line x1="1241.5" y1="1589.0" x2="1241.5" y2="1979.0" stroke="#555" stroke-width="2.2" stroke-dasharray="3.5,8.7"/>
<line x1="1630.2" y1="1589.0" x2="1630.2" y2="1979.0" stroke="#666" stroke-width="2.2" stroke-dasharray="3.5,8.7"/>
<line x1="2019.0" y1="1589.0" x2="2019.0" y2="1979.0" stroke="#bbb" stroke-width="2.2" stroke-dasharray="3.5,8.7"/>
<path d="M309 1776l2 0 2 .9 2-1.5 2 1.4 2-1.2 2 2 2 0 2-.3 2-1.2 2 .2 2-2.7 2 2.7 2-1.4 2-2.4 2 2 2 .1 2 .2 2 1.3 2-1.7 2 0 2-.1 2-.3 2-1.5 2 .6 2-.8 2-.3 2-1.4 2 3.7 2-2.2 2 .6 2-1.6 2 2.4 2-3 2 1 2-1 2 4.2 2-1 2-2.3 2 2.6 2-.5 2-2.5 2 3 2 1 2-2.7 2 1.2 2-.5 2 3 2-2.1 2 1.2 2 .2 2 1.2 2-2.6 2 1.9 2-.9 2 0 2-.9 2 1.7 2 1.5 2-1 2-.6 2-.4 2 1.8 2 .3 2 .3 2-1.6 2 .7 2 1.1 2-.6 2-6.9 2 6.4 2 2.5 2-2.2 2 0 2 0 2 .7 2-2 2 .7 2 .6 2-2.2 2 4.5 2-3.8 2 2.2 2-2.2 2 1.7 2 1.3 2-.3 2-3.3 2-4 2 7.6 2-1 2 1.3 2-3.7 2-5.8 2 8.5 2-.8 2-3.4 2 3.5 2-2.5 2-.6 2 2.6 2 .3 2-1 2-1 2-.5 2-.3 2 2.6 2 .3 2 .9 2-3.6 2-.1 2-5.1 2 8.6 2-1.4 2-2.8 2 4.5 2 .1 2-2 2 .3 2-2.1 2 2.7 2-2.1 2 3.4 2 0 2 .1 2 0 2-1 2-1.5 2-1.4 2 3.7 2-4.5 2 2.2 2 .8 2-3.2 2 2.4 2-1 2 1.7 2-1.7 2-.6 2-2.4 2 .9 2 2.8 2-1.1 2 1.5 2-2.3 2 2.3 2-1.5 2 2.7 2-3.6 2 2.5 2-2 2 1.6 2-.8 2-1.7 2-.3 2 2.2 2 .4 2 1.1 2 .2 2-2.7 2 2.1 2 .9 2-.2 2 .1 2-.7 2-.2 2 .3 2 1.3 2-3.1 2 1.2 2 2.2 2-4.5 2 3.5 2-1.8 0 12.8-2 0-2-.1-2 .7-2 .1-2-1.9-2 2.5-2-.6-2 .3-2 .8-2-1.9-2 3.1-2 .3-2-1.1-2-.2-2 1.5-2-.2-2-1-2 .2-2 3.1-2-.7-2-2.8-2 4.2-2-.3-2-2.3-2 .6-2 4.3-2-.1-2-3.2-2 3.4-2-.6-2-3.1-2 .5-2 .2-2 4.1-2-.8-2-.2-2-3.9-2 3.8-2 1-2-.3-2-2.3-2 1.4-2-.7-2 1.3-2-5-2 5.3-2-1.7-2 2.5-2-3.1-2-.9-2-1.9-2 3-2-.4-2-3.2-2 2.3-2-1.4-2-2-2 3.8-2-1.8-2 2-2-2.3-2 2.4-2-.6-2 0-2-3.7-2 4.6-2-.2-2-4.1-2 2.2-2-.3-2 1.7-2-.5-2-2.2-2 2.5-2-.2-2-.8-2 2.6-2 .7-2-2.2-2-1-2 2.4-2-2.5-2 .6-2 6.4-2-3.8-2-2.6-2-1.3-2 1.6-2-2.6-2 2.4-2-2.4-2 .7-2 .9-2 1.6-2-2.8-2-.4-2 2.2-2-3.1-2-.8-2 3.5-2-3-2 2.6-2-.8-2-1.8-2 1.5-2-3.5-2 2-2-.5-2 0-2 1.3-2-.6-2 .6-2-3.2-2 .6-2 1.6-2-1.7-2 .1-2 2.3-2-3-2 .6-2-.4-2 3.8-2 0-2 .7-2 0-2-1.9-2 .6-2 1.5-2 1.7-2-1.6-2 1.2-2 .8-2-1.3-2 2.4-2-2.7-2 2.5-2-.7-2-1.5-2 3.2-2-4.8-2 4.3-2-2.4-2 1.6-2-3.4-2 5.2-2-3.7-2-.8-2 .8-2 6.7-2-4.9-2-3.5-2 12.6-2-12.8-2 .2-2 .3-2 2.6-2-2-2 6.1-2-9.1-2 .4-2 2.4-2 0-2-1.2-2-1.2-2 2.5-2-2.8-2-1.1-2 8.7-2-8.1-2-.6-2 2.7-2-2.3-2 3.3z" fill="#6cc85e" stroke="#6cc85e" stroke-width="1.2" stroke-linejoin="round"/>
<path d="M309 1778.9l2-.1 2 .6 2-1 2 .9 2-.7 2 1.2 2 0 2-.2 2-.7 2 .1 2-1.5 2 1.6 2-.8 2-1.5 2 1.3 2 0 2 .2 2 .8 2-1.1 2 .1 2-.1 2-.1 2-.9 2 .3 2-.4 2-.2 2-.8 2 2.2 2-1.4 2 .4 2-1 2 1.4 2-1.8 2 .5 2-.6 2 2.5 2-.6 2-1.4 2 1.5 2-.4 2-1.5 2 1.8 2 .6 2-1.7 2 .7 2-.3 2 1.7 2-1.2 2 .7 2 .1 2 .7 2-1.5 2 1.1 2-.5 2 0 2-.5 2 1 2 .9 2-.5 2-.4 2-.2 2 1.1 2 .3 2 .2 2-.9 2 .5 2 .7 2-.3 2-4.1 2 3.9 2 1.5 2-1.2 2 .1 2 0 2 .5 2-1.2 2 .5 2 .4 2-1.3 2 2.7 2-2.2 2 1.3 2-1.3 2 1 2 .8 2-.1 2-2 2-2.4 2 4.5 2-.6 2 .8 2-2.2 2-3.6 2 5.1 2-.5 2-2.1 2 2.1 2-1.5 2-.4 2 1.5 2 .2 2-.6 2-.6 2-.4 2-.1 2 1.5 2 .2 2 .5 2-2.1 2-.1 2-3.1 2 5.2 2-.8 2-1.7 2 2.7 2 .1 2-1.2 2 .2 2-1.2 2 1.6 2-1.2 2 2 2 .1 2 .1 2 0 2-.6 2-.8 2-.9 2 2.2 2-2.6 2 1.3 2 .5 2-1.9 2 1.4 2-.6 2 1 2-1.1 2-.3 2-1.4 2 .4 2 1.7 2-.7 2 .8 2-1.4 2 1.4 2-1 2 1.6 2-2.2 2 1.4 2-1.2 2 .9 2-.6 2-1 2-.3 2 1.3 2 .2 2 .6 2 .1 2-1.7 2 1.2 2 .5 2-.1 2 0 2-.5 2-.1 2 .2 2 .8 2-1.9 2 .7 2 1.4 2-2.7 2 2.1 2-1.1 0 7.7-2 0-2-.1-2 .4-2 .1-2-1.2-2 1.5-2-.3-2 .2-2 .5-2-1.2-2 1.9-2 .3-2-.7-2-.1-2 1-2-.1-2-.6-2 .2-2 1.9-2-.3-2-1.6-2 2.5-2-.1-2-1.3-2 .4-2 2.7-2-.1-2-1.8-2 2.1-2-.4-2-1.8-2 .3-2 .2-2 2.5-2-.5-2-.1-2-2.3-2 2.3-2 .6-2-.2-2-1.4-2 .9-2-.5-2 .8-2-3-2 3.2-2-1.1-2 1.4-2-1.8-2-.6-2-1.2-2 1.8-2-.2-2-2-2 1.4-2-.9-2-1.2-2 2.2-2-1-2 1.1-2-1.4-2 1.5-2-.4-2 0-2-2.2-2 2.8-2-.1-2-2.5-2 1.3-2-.1-2 1-2-.2-2-1.4-2 1.6-2-.1-2-.5-2 1.6-2 .5-2-1.3-2-.6-2 1.4-2-1.5-2 .4-2 3.9-2-2.3-2-1.6-2-.7-2 .9-2-1.5-2 1.4-2-1.5-2 .4-2 .5-2 1-2-1.8-2-.2-2 1.3-2-1.9-2-.6-2 2.1-2-1.9-2 1.5-2-.5-2-1.2-2 .9-2-2.1-2 1.1-2-.3-2-.1-2 .7-2-.4-2 .3-2-1.9-2 .3-2 .9-2-1.1-2 .1-2 1.4-2-1.8-2 .3-2-.2-2 2.2-2 0-2 .5-2 0-2-1.1-2 .3-2 1-2 1-2-.9-2 .7-2 .5-2-.7-2 1.5-2-1.6-2 1.5-2-.4-2-.8-2 1.9-2-2.8-2 2.6-2-1.4-2 .9-2-2-2 3.1-2-2.2-2-.5-2 .5-2 4-2-2.9-2-2.1-2 7.6-2-7.8-2 .2-2 .1-2 1.6-2-1.2-2 3.6-2-5.5-2 .2-2 1.4-2 0-2-.7-2-.7-2 1.4-2-1.6-2-.7-2 5.2-2-4.9-2-.3-2 1.6-2-1.3-2 1.9z" fill="#3fb82f" stroke="#3fb82f" stroke-width="1.2" stroke-linejoin="round"/>
<path d="M656 1781.8l23 0 4 .5 15-1.8 13-3.3 23-11 5-.5 5-2.1 14-1.4 7 .7 72-.2 1-1.2 1-.4 1 1.3 1 .3 27 .1 35 2.6 26-2.3 10-.2 1-1.7 3 3.8 1-.2 2-2.2 1 0 81 .3 43 1 1 .5 98-.7 128 .8 115-.8 100.4 .8 2.4-161.4 3.9 189 13.9-152.5 13.5 172" fill="none" stroke="#62a856" stroke-width="3" stroke-linejoin="round" stroke-linecap="round"/>
<path d="M1547.1 1803.5l2-.6 2-.1 2 1.4 2 0 2-1.3 2-.7 2-.2 2 .9 2 .2 2-.3 2 1.4 2-1.7 2 1.9 2 .8 2-1.5 2 .1 2-.7 2 1.6 2 0 2-1.4 2-3.8 2-3.8 2-4.7 2-4.7 2-1.3 2-2.8 2-5.2 2-4.9 2-2.8 2-1.2 2 1.5 2 .3 2 .4 2 1 2 .4 2 .7 2 .4 0 14-2-1.1-2 .7-2-2.6-2 .7-2-2.3-2-.6-2 3.6-2-3.3-2 1.6-2 5.7-2 3.3-2 3.6-2 3.3-2 3-2 2.7-2 2.5-2 4.4-2 2.2-2 .7-2 .1-2 0-2-2.6-2 .7-2 1.9-2-1.4-2-.1-2 .4-2-.4-2 .2-2-.6-2 2.8-2-.6-2-1.7-2 2.8-2-1.2-2-.1-2 1z" fill="#6cc85e" stroke="#6cc85e" stroke-width="1.2" stroke-linejoin="round"/>
<path d="M1547.1 1806.7l2-.7 2-.5 2 .5 2 0 2-.7 2-.5 2-.1 2 .6 2 .1 2-.2 2 .9 2-1.1 2 1.2 2 .5 2-.9 2 0 2-.4 2 1 2 0 2-1.6 2-3.7 2-3.7 2-4.2 2-4.2 2-2.1 2-3.1 2-4.5 2-4.4 2-3.1 2-.7 2 1.1 2 .4 2 .5 2 .8 2 .5 2 .7 2 .5 0 8.3-2-.8-2 .1-2-1.8-2 .2-2-1.6-2-.6-2 1.9-2-1.9-2 2.4-2 4.8-2 3.3-2 3.6-2 3.4-2 3.1-2 3.1-2 2.9-2 4-2 2.1-2 .4-2 .1-2-.1-2-1.5-2 .4-2 1.2-2-.9-2-.1-2 .3-2-.3-2 .1-2-.3-2 1.7-2-.4-2-1-2 1.7-2-.5-2 .4-2 1z" fill="#3fb82f" stroke="#3fb82f" stroke-width="1.2" stroke-linejoin="round"/>
<path d="M1622.5 1772.5l2-5 2 5.9 2-2.6 2 2.6 2-3.1 2 .4 2 4.4 2-.4 2-3.1 2-1.1 2 4.5 2-2.8 2-1.8 2 3.6 2-.7 2 .7 2-.3 2-3 2 .3 2 1.1 2-.2 2 .3 2 1.1 2 2.2 2-2.9 2 3.5 2-.4 2-.5 2 .5 2-1.2 2 1.7 2-9.9 2 5.6 2 4.1 2-1.4 2-2.1 2 3.8 2-.4 2-.9 2-2.3 2 3.6 2-1 2 .3 2-9.2 2 9.7 2-3.3 2 3.1 2-2.8 2 .9 2-.3 2 0 2 2.5 2-2.3 2 .8 2-1.7 2 2.7 2-2.9 2 3 2-3.7 2-.2 2 3.1 2-2.9 2 4 2-3.9 2 .4 2 1.1 2 .9 2 .5 2-2.7 2 3.1 2-3 2-.3 2 3.2 2-8.6 2 6.9 2-.2 2 1.4 2-2.7 2-.4 2 3.1 2 .7 2-1.9 2-.7 2 1.6 2-1.3 2-1.6 2 .5 2-.5 2 .5 2 1.5 2 .8 2-2 2 1.1 2 .2 2-1.6 2 .7 2 .3 2 .4 2-.3 2-3.7 2 2.4 2 1.2 2-5.8 2 2.9 2 .1 2-.7 2 3.5 2-1 2-2.6 2 .7 2 .8 2 1.4 2-3 2 1.7 2 .5 2-.2 2-.3 2-5.1 2 3.8 2 1 2 2.3 2-3.6 2 2.2 2 2 2-2.9 2 2.1 2-3.8 2 4.8 2 .4 2-2.7 2 1.9 2-2.3 2-5.3 2 7.1 2-2 2 0 2 .9 2 2.6 2-.4 2-2 2 2.2 2-1.5 2 2.1 2-1.5 2 1.4 2-.1 2-.6 2 0 2 1.5 2-2.1 2-.5 2 3.3 2-.1 2-3.2 2 .1 2 .5 2-3.2 2 2.7 2 .5 2 1 2-1.4 2 2.2 2 .7 2-1.4 2 .2 2 1.5 2-.3 2-.6 2-5 2 4.3 2 1.1 2 .6 2-.8 2-1.2 2-1.3 2 2.6 2-2.8 2 3 2-2.3 2 1.4 2 1.5 2-2.6 2 1 2-1.8 2 1.9 2 1.8 2-3.9 2 .6 2 3.4 2-.6 2-1.2 2 0 2-1.7 2-.1 2 .9 2 1.6 2-3.6 2 1 2 2.3 2-3.1 2-.6 2 1.5 2 .7 2 .7 2-3.7 2 .1 2 2 2-1.5 2-.6 2 1.2 2 1.9 2-2.1 2 .2 2-2.4 2-.3 2 0 2 4 2-2.7 2 1.2 2-2.1 2-.1 2 2.5 2-3.9 2 5 2-2.8 2 3.1 2-5.2 2 2.2 2 2.4 2-3.4 2 2.1 2-.5 2 1.2 2 .6 2 .5 2-.8 2-1.1 0 17.3-2 3-2-.9-2-.2-2 1.6-2-2.2-2-2.4-2 3-2-1.1-2 3.1-2 1.8-2-4-2 1.2-2-3.7-2 4.9-2-5-2 2-2 1.8-2-.2-2-.6-2-3.6-2 1.3-2-1.3-2 1.4-2-2.4-2 1.4-2-1.7-2 .3-2 1.8-2 .3-2-2.4-2 .3-2 2.6-2-1.2-2 .5-2-1.1-2 1.9-2-2.3-2 .8-2 5.4-2-4.3-2 1.6-2-.9-2-2.3-2 3.7-2-3.4-2 1-2 2.9-2-3.3-2 2.2-2 .6-2-1.2-2 .7-2 1.5-2-2.4-2 3.4-2 6.1-2-1.8-2-5.3-2-2-2 1.9-2-.5-2-.3-2 1.5-2-1.2-2-2.6-2 3.3-2-.5-2-2.9-2-.1-2 2.6-2-1.3-2-2-2 2.4-2 .1-2-2.1-2 4.3-2-5-2-.1-2 6.2-2-6.7-2 1.3-2-.4-2-2.7-2 1-2-.8-2 1.4-2-.6-2 1.4-2 .6-2-.6-2-.6-2-1.7-2 .8-2 2.6-2-.2-2 1.1-2 2.2-2-3.1-2 .6-2 0-2 1.5-2-3.7-2 2.8-2 .1-2 1.8-2 4-2-7.6-2 2.5-2 1.3-2 .5-2-.9-2-3.3-2 2.7-2-2.4-2 3.2-2-1.9-2 3.3-2-2.1-2-1.8-2-1.7-2 3.7-2-1.7-2-.6-2 3.1-2-4.6-2 .4-2-.9-2 3.1-2 4.9-2-5-2-.4-2-3.9-2 1.6-2-1.3-2 1.4-2-2.7-2 4.6-2-1-2-.8-2 0-2-2.9-2 2-2-2.7-2 1.6-2 1.6-2-.1-2-2.6-2 2.7-2-.4-2 1.1-2-2.2-2 .3-2-.5-2 1-2 1.3-2 5.9-2-7.9-2 .7-2 .7-2-1.1-2 3-2-.4-2 1.8-2-2.6-2 2.9-2 .1-2-1.9-2 .5-2-.4-2 .1-2-.1-2 1.6-2 .6-2-3.6-2 3.8-2-4.2-2 .2-2-.4-2 1.8-2 .9-2-1.5-2 .3-2-.4-2-1.7-2 1.1-2 2.7-2-1.3-2-2.1-2 2.7-2-1.2-2-.3-2-1.5-2 3.2-2-2.7-2 1.1-2 1.6-2-2.6-2 2.5-2-2.8-2 1.5-2 1.1-2-.1-2-2.3-2 4.2-2-2.3-2-.7-2 1.3-2 2.1-2-1.1-2 3-2-3.4-2 2.1-2 1.9-2-.2-2-3.9-2 8.2-2-4-2-2.3-2 .9-2-2.1-2 1.3-2-2.2-2 3.3-2 1.7-2-3.5-2 .6-2-2.2-2 1.2-2 1.1-2 .5-2-3.7-2-.1-2 4.5-2-5.2-2 3.1-2 .1-2-.1z" fill="#6cc85e" stroke="#6cc85e" stroke-width="1.2" stroke-linejoin="round"/>
<path d="M1622.5 1776.1l2-3 2 3.6 2-1.5 2 1.6 2-1.8 2 .3 2 2.7 2-.2 2-1.9 2-.6 2 2.8 2-1.7 2-1.1 2 2.2 2-.4 2 .4 2-.1 2-1.8 2 .1 2 .7 2-.2 2 .2 2 .6 2 1.3 2-1.7 2 2 2-.3 2-.3 2 .3 2-.8 2 1 2-6 2 3.3 2 2.5 2-.9 2-1.3 2 2.2 2-.2 2-.6 2-1.4 2 2.2 2-.7 2 .2 2-5.5 2 5.8 2-1.9 2 1.8 2-1.6 2 .5 2-.2 2 .1 2 1.4 2-1.3 2 .5 2-1 2 1.6 2-1.7 2 1.8 2-2.2 2-.1 2 1.9 2-1.8 2 2.5 2-2.4 2 .3 2 .6 2 .6 2 .2 2-1.6 2 1.8 2-1.8 2-.2 2 1.9 2-5.2 2 4.1 2-.2 2 .8 2-1.7 2-.2 2 1.8 2 .3 2-1.1 2-.5 2 .9 2-.8 2-1 2 .2 2-.4 2 .4 2 .8 2 .4 2-1.2 2 .6 2 .1 2-1 2 .4 2 .2 2 .3 2-.2 2-2.2 2 1.4 2 .8 2-3.5 2 1.8 2 0 2-.3 2 2.1 2-.5 2-1.6 2 .5 2 .5 2 .9 2-1.7 2 1 2 .4 2-.1 2-.2 2-3 2 2.3 2 .6 2 1.5 2-2.2 2 1.3 2 1.3 2-1.7 2 1.3 2-2.3 2 2.9 2 .2 2-1.6 2 1.1 2-1.4 2-3.2 2 4.2 2-1.1 2-.1 2 .6 2 1.5 2-.3 2-1.2 2 1.3 2-.9 2 1.3 2-.9 2 .8 2-.1 2-.3 2 0 2 .9 2-1.3 2-.3 2 2 2 0 2-1.9 2 .1 2 .3 2-1.9 2 1.7 2 .3 2 .6 2-.7 2 1.3 2 .5 2-.8 2 .2 2 .9 2-.1 2-.3 2-3 2 2.6 2 .7 2 .5 2-.5 2-.7 2-.7 2 1.5 2-1.7 2 1.8 2-1.3 2 .8 2 .9 2-1.6 2 .6 2-1.1 2 1.2 2 1 2-2.4 2 .3 2 2 2-.4 2-.7 2-.1 2-1 2-.2 2 .5 2 1 2-2.3 2 .6 2 1.3 2-1.9 2-.3 2 .8 2 .4 2 .4 2-2.3 2 0 2 1.2 2-.9 2-.4 2 .7 2 1.2 2-1.3 2 .1 2-1.4 2-.2 2 0 2 2.4 2-1.6 2 .8 2-1.3 2 0 2 1.5 2-2.3 2 3 2-1.7 2 1.9 2-3.1 2 1.3 2 1.5 2-2.1 2 1.3 2-.3 2 .7 2 .4 2 .3 2-.5 2-.7 0 10.4-2 1.8-2-.5-2-.2-2 1-2-1.3-2-1.4-2 1.8-2-.7-2 1.8-2 1.1-2-2.4-2 .7-2-2.2-2 2.9-2-3-2 1.2-2 1-2-.1-2-.4-2-2.2-2 .8-2-.8-2 .9-2-1.5-2 .9-2-1-2 .1-2 1.1-2 .2-2-1.4-2 .2-2 1.6-2-.7-2 .3-2-.6-2 1.2-2-1.4-2 .6-2 3.3-2-2.6-2 1-2-.5-2-1.3-2 2.3-2-2-2 .6-2 1.8-2-1.9-2 1.3-2 .4-2-.7-2 .5-2 .9-2-1.4-2 2-2 3.7-2-1.1-2-3.1-2-1.2-2 1.1-2-.3-2-.2-2 .9-2-.8-2-1.6-2 2-2-.4-2-1.8-2-.1-2 1.6-2-.9-2-1.2-2 1.4-2 0-2-1.3-2 2.5-2-3.1-2-.1-2 3.8-2-4.1-2 .8-2-.4-2-1.6-2 .6-2-.5-2 .9-2-.4-2 .8-2 .4-2-.4-2-.4-2-1-2 .5-2 1.6-2-.1-2 .6-2 1.3-2-1.8-2 .4-2 0-2 .9-2-2.2-2 1.7-2 .1-2 1.1-2 2.4-2-4.6-2 1.5-2 .8-2 .3-2-.5-2-2-2 1.6-2-1.5-2 1.9-2-1.2-2 2-2-1.3-2-1.1-2-1.1-2 2.2-2-1.1-2-.3-2 1.8-2-2.8-2 .1-2-.5-2 1.8-2 2.9-2-3-2-.3-2-2.4-2 1-2-.9-2 .8-2-1.6-2 2.8-2-.7-2-.4-2 0-2-1.8-2 1.2-2-1.6-2 1.1-2 .9-2 0-2-1.5-2 1.6-2-.2-2 .7-2-1.2-2 .2-2-.3-2 .7-2 .8-2 3.6-2-4.7-2 .5-2 .4-2-.6-2 1.9-2-.2-2 1.1-2-1.5-2 1.8-2 0-2-1.1-2 .4-2-.2-2 0-2 0-2 .9-2 .4-2-2.2-2 2.3-2-2.5-2 .1-2-.3-2 1.1-2 .5-2-.9-2 .2-2-.3-2-1-2 .6-2 1.6-2-.8-2-1.3-2 1.7-2-.8-2-.2-2-.9-2 1.9-2-1.5-2 .6-2 1-2-1.6-2 1.6-2-1.7-2 .9-2 .7-2 0-2-1.4-2 2.6-2-1.3-2-.4-2 .8-2 1.3-2-.7-2 1.9-2-2-2 1.2-2 1.2-2 0-2-2.4-2 5-2-2.4-2-1.4-2 .5-2-1.2-2 .8-2-1.3-2 1.9-2 1-2-2.1-2 .4-2-1.4-2 .7-2 .6-2 .3-2-2.3-2-.1-2 2.7-2-3.2-2 1.8-2 0-2-.1z" fill="#3fb82f" stroke="#3fb82f" stroke-width="1.2" stroke-linejoin="round"/>
<line x1="2098.0" y1="1589.0" x2="2098.0" y2="1979.0" stroke="#c8c8c8" stroke-width="2"/>
<line x1="309.0" y1="1589.0" x2="309.0" y2="1979.0" stroke="#222" stroke-width="2.5"/>
<line x1="286.0" y1="1782.0" x2="309.0" y2="1782.0" stroke="#333" stroke-width="2.5"/>
<rect x="1912" y="1599" width="168" height="69" fill="#fff" stroke="#ccc" stroke-width="2"/>
<line x1="1912.0" y1="1599.0" x2="1912.0" y2="1668.0" stroke="#222" stroke-width="2.5"/>
<line x1="2080.5" y1="1599.0" x2="2080.5" y2="1668.0" stroke="#222" stroke-width="2.5"/>
<line x1="1918.0" y1="1633.0" x2="2001.0" y2="1633.0" stroke="#7fbf70" stroke-width="3.5"/>
<text x="2031.0" y="1653.0" font-family="'DejaVu Sans Condensed','DejaVu Sans','Liberation Sans',sans-serif" font-size="58.5" text-anchor="start" fill="#1a1a1a" stroke="#1a1a1a" stroke-width="0.25">Q</text>
<text x="275.0" y="1611.0" font-family="'DejaVu Sans Condensed','DejaVu Sans','Liberation Sans',sans-serif" font-size="56" text-anchor="end" fill="#1a1a1a" stroke="#1a1a1a" stroke-width="0.25">5</text>
<text x="275.0" y="1802.0" font-family="'DejaVu Sans Condensed','DejaVu Sans','Liberation Sans',sans-serif" font-size="56" text-anchor="end" fill="#1a1a1a" stroke="#1a1a1a" stroke-width="0.25">0</text>
<text x="275.0" y="2001.0" font-family="'DejaVu Sans Condensed','DejaVu Sans','Liberation Sans',sans-serif" font-size="56" text-anchor="end" fill="#1a1a1a" stroke="#1a1a1a" stroke-width="0.25">-5</text>
<text transform="translate(111.0,1784.0) rotate(-90)" font-family="'DejaVu Sans Condensed','DejaVu Sans','Liberation Sans',sans-serif" font-size="61" text-anchor="middle" fill="#1a1a1a" stroke="#1a1a1a" stroke-width="0.25">Q(VAr)</text>
<text x="312.0" y="1569.0" font-family="'DejaVu Sans Condensed','DejaVu Sans','Liberation Sans',sans-serif" font-size="54" text-anchor="start" fill="#1a1a1a" stroke="#1a1a1a" stroke-width="0.25">×</text>
<text x="360.0" y="1567.0" font-family="'DejaVu Sans Condensed','DejaVu Sans','Liberation Sans',sans-serif" font-size="56" text-anchor="start" fill="#1a1a1a" stroke="#1a1a1a" stroke-width="0.25">10</text>
<text x="421.0" y="1524.0" font-family="'DejaVu Sans Condensed','DejaVu Sans','Liberation Sans',sans-serif" font-size="40" text-anchor="start" fill="#1a1a1a" stroke="#1a1a1a" stroke-width="0.25">5</text>
<line x1="464.0" y1="1981.0" x2="464.0" y2="2004.0" stroke="#444" stroke-width="2.5"/>
<text x="464.0" y="2061.0" font-family="'DejaVu Sans Condensed','DejaVu Sans','Liberation Sans',sans-serif" font-size="57" text-anchor="middle" fill="#1a1a1a" stroke="#1a1a1a" stroke-width="0.25">0.20</text>
<text x="852.7" y="2061.0" font-family="'DejaVu Sans Condensed','DejaVu Sans','Liberation Sans',sans-serif" font-size="57" text-anchor="middle" fill="#1a1a1a" stroke="#1a1a1a" stroke-width="0.25">0.25</text>
<line x1="1241.5" y1="1981.0" x2="1241.5" y2="2004.0" stroke="#444" stroke-width="2.5"/>
<text x="1241.5" y="2061.0" font-family="'DejaVu Sans Condensed','DejaVu Sans','Liberation Sans',sans-serif" font-size="57" text-anchor="middle" fill="#1a1a1a" stroke="#1a1a1a" stroke-width="0.25">0.30</text>
<line x1="1630.2" y1="1981.0" x2="1630.2" y2="2004.0" stroke="#444" stroke-width="2.5"/>
<text x="1630.2" y="2061.0" font-family="'DejaVu Sans Condensed','DejaVu Sans','Liberation Sans',sans-serif" font-size="57" text-anchor="middle" fill="#1a1a1a" stroke="#1a1a1a" stroke-width="0.25">0.35</text>
<line x1="2019.0" y1="1981.0" x2="2019.0" y2="2004.0" stroke="#444" stroke-width="2.5"/>
<text x="2019.0" y="2061.0" font-family="'DejaVu Sans Condensed','DejaVu Sans','Liberation Sans',sans-serif" font-size="57" text-anchor="middle" fill="#1a1a1a" stroke="#1a1a1a" stroke-width="0.25">0.40</text>
<text x="1206.0" y="2133.0" font-family="'DejaVu Sans Condensed','DejaVu Sans','Liberation Sans',sans-serif" font-size="57.8" text-anchor="middle" fill="#1a1a1a" stroke="#1a1a1a" stroke-width="0.25">Time(s)</text>
<text x="1108.0" y="2233.0" font-family="'Liberation Serif',serif" font-size="84" text-anchor="middle">(<tspan font-weight="bold">a</tspan>)</text>
<line x1="309.0" y1="2441.5" x2="2098.0" y2="2441.5" stroke="#555" stroke-width="2.2" stroke-dasharray="3.5,8.7"/>
<line x1="309.0" y1="2538.6" x2="2098.0" y2="2538.6" stroke="#555" stroke-width="2.2" stroke-dasharray="3.5,8.7"/>
<line x1="748.0" y1="2344.0" x2="748.0" y2="2736.0" stroke="#555" stroke-width="2.2" stroke-dasharray="3.5,8.7"/>
<line x1="1102.5" y1="2344.0" x2="1102.5" y2="2736.0" stroke="#555" stroke-width="2.2" stroke-dasharray="3.5,8.7"/>
<line x1="1457.0" y1="2344.0" x2="1457.0" y2="2736.0" stroke="#e4e4e4" stroke-width="2.2" stroke-dasharray="3.5,8.7"/>
<line x1="1811.5" y1="2344.0" x2="1811.5" y2="2736.0" stroke="#555" stroke-width="2.2" stroke-dasharray="3.5,8.7"/>
<path d="M309 2693.2l12 2.9 12 1.1 11-.6 12-2.3 12-4.1 12-5.8 12-7.4 13-9.8 12-10.6 12-11.9 13-14.3 14-16.7 13-16.5 14-18.7 51-71.1 21-28.2 23-28.6 10-11.3 10-10.5 12-11.6 12-10.1 12-8.7 11-6.5 11-5.2 11-3.7 11-2.3 11-.7 11 .8 11 2.2 11 3.8 11 5.1 11 6.6 12 8.7 12 10.2 12 11.5 10 10.6 10 11.3 23 28.6 21 28.2 51 71.1 14 18.7 13 16.5 13 15.6 13 14.3 12 12 12 10.7 12 9.2 12 7.7 12 6.1 12 4.3 12 2.6 11 .8 12-.8 12-2.7 9-3.1 10-4.6 9-5.1 10-6.7 9-7 10-8.8 10-9.6 11-11.6 18-21 19-24.3 19-25.8 46-64.2 23-30.5 12-14.8 11-12.8 11-12 10-9.9 11-9.9 11-8.7 11-7.4 10-5.6 11-4.8 10-3 10-1.9 10-.6 11 .8 11 2.2 11 3.8 11 5.1 11 6.6 12 8.7 12 10.2 12 11.5 10 10.6 10 11.3 23 28.6 21 28.2 51 71.1 26 34 13 15.6 12 13.4 12 12.2 11 10 12 9.6 11 7.5 11 6.1 11 4.7 11 3.3 11 1.8 10 .3 11-1.1 10-2.4 10-3.5 10-4.7 11-6.5 10-7.1 11-9 11-10.1 11-11.3 19-21.7 21-26.6 20-27.1 46-64.2 24-31.7 22-26.4 11-12 10-9.9 10-9.1 9-7.3 10-7.1 9-5.4 10-5 9-3.5 9-2.5 9-1.5" fill="none" stroke="#6ea2c8" stroke-width="3.2" stroke-linejoin="round" stroke-linecap="round"/>
<path d="M309 2492l14-18.4 13-16.2 12-14 12-12.9 11-10.8 11-9.7 11-8.4 10-6.5 11-5.9 10-4.1 10-3 10-1.6 10-.5 10 .8 10 2 11 3.7 8 3.6 9 4.9 9 5.8 9 6.7 9 7.5 9 8.3 10 10.1 10 10.9 17 20.2 18 23.2 18 24.6 44 61.4 24 31.8 12 14.9 12 14 11 11.8 11 10.9 12 10.5 12 9 12 7.6 11 5.4 12 4.3 11 2.4 11 .9 11-.6 10-1.9 10-3 10-4.3 11-6.1 10-6.7 11-8.5 11-9.8 12-12 19-21.3 22-27.6 20-27 49-68.3 26-34.1 12-14.6 12-13.5 12-12.5 11-10.3 12-9.8 11-7.8 12-6.9 11-4.8 11-3.4 11-1.9 11-.5 11 1.1 10 2.3 10 3.5 10 4.7 10 5.8 10 7 11 8.9 11 10 11 11.2 19 21.5 21 26.5 20 27 48 66.9 25 32.9 12 14.7 12 13.7 11 11.6 11 10.5 11 9.4 11 8.1 11 6.9 10 5 11 4.1 10 2.5 11 1.3 10-.1 10-1.4 11-2.9 11-4.4 11-5.8 11-7.1 11-8.5 11-9.7 12-11.8 10-10.8 10-11.6 21-26.3 21-28.3 49-68.3 25-32.9 13-15.8 12-13.5 11-11.5 11-10.4 11-9.2 10-7.3 11-6.7 10-5 11-4.1 10-2.4 10-1.2 10 .1 10 1.3 11 2.8 10 3.9 11 5.6 10 6.3 11 8.2 11 9.4 12 11.6 10 10.6 10 11.3 23 28.6 21 28.3 49 68.3 23 30.4" fill="none" stroke="#b87684" stroke-width="3.2" stroke-linejoin="round" stroke-linecap="round"/>
<path d="M309 2430.6l18 19.9 19 23.3 22 29.3 46 64.2 20 27 22 27.7 19 21.4 12 12.1 11 9.9 11 8.6 11 7.4 11 6.1 10 4.2 11 3.3 10 1.7 10 .5 11-.9 10-2.2 11-3.7 10-4.7 11-6.5 11-7.8 11-9.1 11-10.2 12-12.4 12-13.5 12-14.6 26-34 50-69.7 21-28.3 22-27.4 10-11.4 10-10.7 12-11.7 12-10.3 11-8.1 11-6.9 11-5.4 11-4.1 11-2.5 10-1 10 .2 10 1.4 10 2.7 11 4.4 10 5.2 11 7 11 8.3 11 9.6 11 10.7 11 11.7 12 13.9 12 14.8 24 31.7 47 65.6 19 25.7 20 25.4 19 21.8 11 11.4 11 10.3 10 8.4 10 7.3 10 6.2 10 5.1 10 3.9 10 2.7 11 1.5 11 0 11-1.4 12-3.3 11-4.6 12-6.6 11-7.4 12-9.6 11-10 12-12.2 13-14.6 13-15.7 26-34 49-68.3 21-28.4 22-27.5 10-11.5 10-10.8 12-11.7 11-9.6 11-8.4 11-7.1 11-5.7 10-4 11-3 10-1.4 11-.1 11 1.4 11 2.9 11 4.4 11 5.8 12 7.8 12 9.4 12 10.9 10 10 11 12 12 14.1 12 15 23 30.6 59 81.9 17 22.2 16 19.4 17 18.7 17 16.2 8 6.7 8 6 8 5.3 8 4.6 10 4.8 9 3.2 9 2.3 9 1.2 9 .3 9-.8 9-1.7 10-3.2 9-3.8 10-5.4 9-5.8 10-7.4 10-8.5 10-9.5 10-10.3 11-12.3" fill="none" stroke="#7fb276" stroke-width="3.2" stroke-linejoin="round" stroke-linecap="round"/>
<line x1="286.0" y1="2344.0" x2="2098.0" y2="2344.0" stroke="#aaa" stroke-width="3"/>
<line x1="286.0" y1="2736.0" x2="2098.0" y2="2736.0" stroke="#666" stroke-width="3"/>
<line x1="2098.0" y1="2344.0" x2="2098.0" y2="2736.0" stroke="#aaa" stroke-width="2.5"/>
<line x1="309.0" y1="2344.0" x2="309.0" y2="2736.0" stroke="#444" stroke-width="3"/>
<line x1="286.0" y1="2441.5" x2="309.0" y2="2441.5" stroke="#333" stroke-width="2.5"/>
<line x1="286.0" y1="2538.6" x2="309.0" y2="2538.6" stroke="#333" stroke-width="2.5"/>
<rect x="1812" y="2355" width="267" height="207" fill="#fff" stroke="#444" stroke-width="3"/>
<line x1="1821.0" y1="2390.0" x2="1905.0" y2="2390.0" stroke="#98c08c" stroke-width="3.5"/>
<text x="1933.0" y="2412.5" font-family="'DejaVu Sans Condensed','DejaVu Sans','Liberation Sans',sans-serif" font-size="58.5" text-anchor="start" fill="#1a1a1a" stroke="#1a1a1a" stroke-width="0.25">Vm_r</text>
<line x1="1821.0" y1="2459.0" x2="1905.0" y2="2459.0" stroke="#c0909a" stroke-width="3.5"/>
<text x="1933.0" y="2481.5" font-family="'DejaVu Sans Condensed','DejaVu Sans','Liberation Sans',sans-serif" font-size="58.5" text-anchor="start" fill="#1a1a1a" stroke="#1a1a1a" stroke-width="0.25">Vm_s</text>
<line x1="1821.0" y1="2529.0" x2="1905.0" y2="2529.0" stroke="#8fb4d0" stroke-width="3.5"/>
<text x="1933.0" y="2551.0" font-family="'DejaVu Sans Condensed','DejaVu Sans','Liberation Sans',sans-serif" font-size="58.5" text-anchor="start" fill="#1a1a1a" stroke="#1a1a1a" stroke-width="0.25">Vm_t</text>
<text x="275.0" y="2364.0" font-family="'DejaVu Sans Condensed','DejaVu Sans','Liberation Sans',sans-serif" font-size="56" text-anchor="end" fill="#1a1a1a" stroke="#1a1a1a" stroke-width="0.25">40</text>
<text x="275.0" y="2461.5" font-family="'DejaVu Sans Condensed','DejaVu Sans','Liberation Sans',sans-serif" font-size="56" text-anchor="end" fill="#1a1a1a" stroke="#1a1a1a" stroke-width="0.25">20</text>
<text x="275.0" y="2558.6" font-family="'DejaVu Sans Condensed','DejaVu Sans','Liberation Sans',sans-serif" font-size="56" text-anchor="end" fill="#1a1a1a" stroke="#1a1a1a" stroke-width="0.25">0</text>
<text x="275.0" y="2656.0" font-family="'DejaVu Sans Condensed','DejaVu Sans','Liberation Sans',sans-serif" font-size="56" text-anchor="end" fill="#1a1a1a" stroke="#1a1a1a" stroke-width="0.25">-20</text>
<text x="275.0" y="2753.0" font-family="'DejaVu Sans Condensed','DejaVu Sans','Liberation Sans',sans-serif" font-size="56" text-anchor="end" fill="#1a1a1a" stroke="#1a1a1a" stroke-width="0.25">-40</text>
<text transform="translate(107.0,2540.0) rotate(-90)" font-family="'DejaVu Sans Condensed','DejaVu Sans','Liberation Sans',sans-serif" font-size="57.8" text-anchor="middle" fill="#1a1a1a" stroke="#1a1a1a" stroke-width="0.25">grid volt(V)</text>
<line x1="309.0" y1="2902.5" x2="2098.0" y2="2902.5" stroke="#bbb" stroke-width="2.2" stroke-dasharray="3.5,8.7"/>
<line x1="309.0" y1="3041.0" x2="2098.0" y2="3041.0" stroke="#555" stroke-width="2.2" stroke-dasharray="3.5,8.7"/>
<line x1="748.0" y1="2847.0" x2="748.0" y2="3239.0" stroke="#555" stroke-width="2.2" stroke-dasharray="3.5,8.7"/>
<line x1="1102.5" y1="2847.0" x2="1102.5" y2="3239.0" stroke="#888" stroke-width="2.2" stroke-dasharray="3.5,8.7"/>
<line x1="1457.0" y1="2847.0" x2="1457.0" y2="3239.0" stroke="#e4e4e4" stroke-width="2.2" stroke-dasharray="3.5,8.7"/>
<line x1="1811.5" y1="2847.0" x2="1811.5" y2="3239.0" stroke="#555" stroke-width="2.2" stroke-dasharray="3.5,8.7"/>
<path d="M309 3078.1l4-7.2 3 1.7 1 2 1-.6 1 2.9 1-.5 1-1.3 2-1.3 1-3.4 1-.4 1-2.7 1-1.4 2 1.6 1 0 2 3.3 1-.1 1 .6 1-.3 3-4.2 2-1.9 1-3.6 1 1.2 1 .1 1 2.3 1-.2 1 2 1-2 1 4.5 1 .1 1-2.7 1-1.3 1 1.5 1-3.1 1-1.7 1 .5 1-1.9 2 3.7 2 1.9 1 1.9 1-1.8 1 2.8 1-.9 1-2.5 1-.4 1-2.3 1 .1 1-1.6 1-.6 3 3.6 1-.3 1 3.1 2 1.9 3-4.5 1 .7 1-2.5 2-1.9 1 .8 1 2.9 1-.7 1 1.3 1 2.4 2-.1 1 .7 1-1.9 2-1.2 1-1.1 2-4.2 1 1.1 1 2.4 1-.1 2 4.4 1 .6 1 2.6 1 .4 1-3.2 1 1.7 1-2.8 1 .9 1-2.1 1-.7 1 .8 1 2.9 1-.2 2 3.7 2 1.4 1 1.7 1-1.7 1 .4 3-5.5 3 1.7 1 3.4 1-.2 1 2.9 1 1.5 1 .1 1 1.4 1-1.7 1 1.4 1-2.2 1-.2 1-1.1 1 .5 1-2.5 3 6.3 1 1.1 1-.3 1 2.7 1 1.3 1-1.5 1-.5 4-4 2 1.4 5 7.9 2 .8 1-.3 1-2.3 1-1.1 1 .1 1-1.1 1-.1 2 1.2 4 9.7 2 .1 2-2.2 1 .9 1-1 1 1.2 1-2.3 2 2.9 2 4.4 1 1.1 1 3.5 1 .8 1 .1 1 1 1-.2 1-1.7 1-.3 2-1.3 1 1.9 2 2.2 3 7.3 2 .2 1 2.2 1-2.2 1-.6 1 .7 1-.6 2 .2 2 2.6 1 2.3 1 1.2 2 5.4 1-.9 1-.3 1 1.1 1-2.5 1 .6 1-.2 1-2 1 3.5 1 1.2 1 0 2 6.1 1 .3 2 6.8 1-.5 2-2 1 3.1 1-1.8 1 .5 2 2.1 1 3.5 1 1.5 1 .6 1 3.1 2 1.2 2-3.3 1 0 2-4.9 1-.4 2-3 1 .5 1 2.4 1 .8 1-.4 2 2.3 3-4.9 1-3.9 1-.4 3-4.4 2 4.8 1 .1 2 2.6 1 .3 1-.3 2-2.2 1-2.5 1 .6 1-3.4 2-1.3 1 3.1 1-2.3 1 3.7 1 .2 1-.3 1 2 2 0 1-2.9 2-3.6 1-.7 1-1.8 1-.9 2 2.8 1-1.2 1 3.2 1-.7 1 1.8 1-.6 1 .3 3-5.5 3-6.8 1 .3 1-.9 2 1.8 1-.8 1-.2 1 .7 1-4.1 2-4.2 1-1 2-6 1-.3 1-1.7 2 .8 1-.4 1 .9 1-1 1 1.2 1-1.8 1-4.5 2-1.7 1-4.8 1-.9 1-.1 1-3.4 1-.8 1 .5 1-1.2 1 1.4 1-.7 1 1.2 2-6.1 2-3.7 1-.7 1-3.7 2-4.5 1 1.1 1-1 1 1 1-2.4 1 2.4 1-1.2 1-3.2 1-.4 1-1.6 2-6.4 1-2.3 1-.1 1-3.4 1 1.9 1-3.4 1 1.4 1 .3 1-1 1 .1 1 .6 1-4.8 2-2.1 1-5 2-4.7 1-1.4 1 1.1 2-2.5 1 .8 1-.7 1 2 2-3.7 1-.2 4-10.4 1-1.6 4-.1 2 .8 1-.2 1-1.4 1-3.2 1-1.2 1-3.9 1-.9 1-2.4 1-1.4 2-.8 3 1.5 1-.9 1 0 2-4.7 2-1.7 1-3.7 1-.8 2-5.3 2 1.7 2-.2 1 1.5 1-1.7 1-.5 1-4 1 .2 1-3.9 1-.8 1-3.6 1-.6 1-2.5 1 1.1 1 .5 2-.9 1 .2 1-.8 1-.2 1 .6 1-4 1-1 2-6.5 1-.6 2-2.6 1 .5 1-1.4 1 1.2 1 0 1-.8 1 1.5 1-2.5 1-1.3 3-8.4 2-2.2 2 1 2-1.7 1 3.3 1 .1 1-2.7 1 .4 1-3.6 1-.8 1-3.7 3-6 1 .8 1-.1 1-.7 1 1 1 1.8 1 .5 1-.1 3-5.1 1-3 3-5.1 1-.7 1 2 1-1.8 1 1.5 2 .7 1 .2 1-.8 2-2.8 1-.6 1-3.3 2-3.1 1-2.7 1 4.1 1-1 1-.3 2 1.2 1 2.7 1-.7 1-3 1-.9 1-3.3 1-.4 2-3.5 1-.1 1 .4 1 1.4 1 .2 1 1.2 1 .1 1 2.2 1 .1 1-3.1 1-1.4 1-.5 1-2.1 1-.8 1-4.1 1 2 1-1.8 1 3 1-.1 2 2.4 1-.1 1 .7 2-1.3 1-3.9 2-1.1 2-2.7 1 1.2 1 .1 1 2.9 1 .2 1 1.7 1-.6 2 1.1 2-3.7 1 .2 1-.6 1-2.9 1-.7 1 1.4 1-.2 2 5.1 1-.5 1 1.5 1-.4 1 1.1 3-3.4 1 .3 1-2.3 2-1.5 1 .5 1 4.2 4 5.1 1-.5 1-1.8 1 1 2-1.3 1-3.3 1-1.1 2 4.2 1 0 1 .7 2 3.8 2 2 1 0 1-2.8 1 .8 1 .2 1-1.3 1 .1 1-1.2 1 .7 1 3.6 1-.3 1 .8 2 6 1 .9 1-1 1 .1 1-.6 3-3.4 1 1.2 1-.7 3 7.4 1-.2 1 3.5 2 .1 1 1.1 1-.9 1-2.4 2 .8 1-.8 4 8.2 2 2.9 1 3.1 1-1.4 1 .1 3-2 1 .1 1-.4 2 3.6 1 3.3 2 2.7 1 2.7 2 3.3 1-2.3 1 1.4 1-1.1 1 .1 1-1 1 .8 2 4.5 1 .8 1 2.9 2 2.1 1 5.2 1 .2 2-2.5 1 .6 4-.7 2 6.8 2 3.2 1 3.1 2 3.5 1 0 1-1.2 2 1.3 2-1.1 1-1.3 1 3.9 1 1.2 1 3.1 1 4.5 1 .2 2 5.7 1-.3 1-2.4 1 2.8 2-2.3 1 .4 1 2 1 1 3 6.3 1 3.5 1 2.1 1 .9 1 2.8 2-1.9 1 1.5 1-.5 1 .6 1-1.2 1 2.7 1 1.2 1 2.1 2 6 3 5.9 1-1.8 1 .7 1-.4 1 1.8 2-2.8 2 7.1 1 1.1 3 7.4 2 3.5 1-.5 1 .8 2-1.3 1 1.3 1-.9 3 6.7 1 1.2 1 4 1 .8 1 4.6 1 .3 1-.9 1 .2 1 1.5 1 .2 1-1.7 1 1.8 1-.7 2 5.2 1 .4 3 10.1 3 .8 1-1.2 1 2.5 1-1.7 1 .2 1 1.1 1 .2 1 4.8 1 1.3 1 2.2 1 4.2 2 3.5 1-1.5 1-.2 2 .5 1 2 1-2.1 2 1.3 2 3.7 3 9.4 2 2.6 1-1.9 1 1.7 1-1 1 .4 2-1.3 2 4.1 1 3.2 1 .1 1 3.9 2 2 1 4.3 3-3.6 1 1.2 1-.9 1 .7 1 .1 1 3.6 1 .4 1 5.3 1 1.1 1-1 1 3.4 1 1.7 1-2.9 1 .7 1-.4 1 1 1-1.2 1-.2 1 2.5 1 .1 1 2.7 1 .7 3 7.5 1 .4 1-.8 1 .5 4-3 1 .9 2 5.5 1-.4 4 9 1-1.5 1 1.3 1-2.4 1-.1 1-2.9 2 .8 2 2.7 1 3 2 3.1 1-.7 1 3.7 1 1.1 2-5.2 1 2.3 1-4.4 1 2.3 1-1.6 1 2.7 3 5.1 1 2.5 1-1.2 1 3.5 1-1.6 1-.8 1 0 1-1.4 2-1.2 1-1.3 1 .8 2 4 1 1.1 2 .9 2 2.3 1-1.5 1-.3 1-1.8 1-.1 1-1.3 1-.4 2-.3 1 3.9 1 .3 1 1.8 1-.1 1 .6 1 2 1 1 1-4 1-1.1 1 .8 1-2.4 1-1.3 1 1.6 1-1.4 2 2.6 1 2.3 2 1.8 2-.4 1-3.4 1-.3 1 .9 1-4.6 2-.3 1 .4 1 2.7 1-.8 1 3.3 1-.3 1-1.1 1 .8 1 0 1-.8 1-3.1 1-.6 2-3.5 1 0 1-.7 1 3.3 1-2.2 1 3.4 1 0 1 .9 1-.4 5-7 1 0 1-1.2 1 .2 1-1.2 3 1.8 2 2.4 1-.6 1-1.4 1-4.3 1-1.5 1 .2 2-5 1-1.3 1 2.5 2-.4 1 3 3-.5 1-4.3 3-2.9 1-3.4 1-1.7 2 .5 1 1.4 2-1.2 2 1 2-1.3 2-5.5 2-2.3 1-3.1 1-1.6 3 2.1 2-1.3 1 1.6 1 .6 1-2.9 1-.7 1-3.4 4-8.8 1-.9 1 2.4 1 .8 1-1 1 .7 1 0 1 .8 1-3.1 1-1.8 1-.2 3-9.4 1-.7 1 .1 1-1.5 1 1.6 3-.8 1 .7 1-.8 1-4.1 1-1 1-2.2 1-4.4 1-1.3 2-1.6 1-.2 2 1.6 1-2.3 2 .5 1-.9 2-5.5 1-.8 3-8.5 1-.7 1 1.4 1-.6 1-2 1 2.3 1-1 1 .7 1-2.7 3-5 3-8.6 1 .2 1-2.5 1 1.5 1 .7 1-1.1 1 .6 1 0 1-.7 1-2.8 2-3.4 1-4.3 1-1.5 1-3.8 1-1.4 2 .2 1-1 1 1.3 1 .6 1-1.2 1 2.3 1-4.4 2-4.7 1-3.8 3-5.7 1-1.4 1 1.5 1-.3 1-1 1 .1 1-1.3 1 1.9 1-.8 1-4.5 1-2.9 1-1.1 2-6.4 2-.9 1 .6 1-1.5 1-.2 1 .1 1 1.6 1-.5 1-1.1 3-6.9 3-8.9 1-.3 1 .6 2-1 1 .8 1-.3 1 .3 1-1.1 1-2.7 1-1.3 1-4.2 1 0 1-4 1-.8 1-3.6 1 .6 1 1.6 1-.3 1 .7 2-1.1 1-2.7 1 1.2 1-4.5 1-.7 2-5.6 2-3.3 1 .6 2 0 1-.7 1 2.5 1-.7 1 .3 2-4.6 2-6.8 1-1.4 1 0 1-2.9 1 1.3 1-1.2 1-.4 1 .8 1 .1 2 2.9 4-11 1-.6 2-4.5 1-.5 2 2.5 1-1.5 2 1.4 1 1.7 1-2.6 1-.5 1-1.7 1-3.4 3-7.1 1 1.1 1-1.1 1 2.5 1-.6 1 2.2 1-.7 1 .9 1-1.1 1-2.5 1 .3 1-3.5 1-1 2-4.6 2 .9 1 1.2 1-.8 1 1.6 1-.3 1 2.3 1-2.9 1 .4 1-3.6 1-.3 3-5.8 2-.5 2 2 1-.1 1 2.8 1-.9 1 1.1 1-.2 1-3.2 1-.9 1-3.2 1 .4 2-3.1 1 2.7 1-1.2 1 2.2 1-1.1 1 .7 2 4.3 1-2.9 2-3.2 2-1.1 1-2.2 1-.6 1-1.2 1 3.1 2 1.5 1 2.1 2 1.2 2-2.2 1-2.5 1-.5 1 .3 2-4.1 1 2 3 2.6 3 4.8 1-1.6 1 0 1-3.3 1 .5 1-.9 1-1.9 1-.3 1 .4 4 6.1 1-.2 1 2.9 1-.2 1-.9 2-3.9 1 1.6 1-2.1 1-.5 2 1.4 1 3 1-.3 2 4.6 1-.7 1 1.3 1-1.1 1 1.5 1-1.8 1-.5 2-3.1 1 2.8 1 0 1 1.7 1 .7 2 5.3 1 .7 1 1.9 2-2.2 1-.2 1-1.2 1 .9 1-3.9 1 .7 3 8.2 2 1.9 1-.3 1 2.5 1 1.1 1-2 1-.5 1 .5 1-1.5 2 .7 1 2.2 2 2 1 3.9 1 2.1 1 .1 1 4.7 1-3.9 1 1.6 2-2.7 1 2.4 1-.7 1-3.1 1 3.6 4 6.7 2 5.5 1 .2 2-1.6 1 .7 1-1.7 1 2 1-1.4 1 .2 3 8.5 4 6.9 1 .8 2-2 1-.4 1 1.7 1-1 2 3.2 1-1.2 1 5.1 4 9.8 1-1.7 1 .2 1-1.6 1 2.5 1-1.8 1-.8 1 3.2 1 .1 1 4.2 1 .5 1 1.4 1 3.6 2 4.8 2-1.6 1 1.1 3-.9 1 2.2 1 .9 1 2.9 2 3.2 1 3 1 1.5 1 4.3 1-.4 1 .5 1-.9 1 0 1 .3 1 .9 1-1 2 3.9 1 3.1 1 1.2 2 7.3 2 2.5 1-2 1-.3 1 1.3 1-.4 1 1.6 2 1 2 5.6 1 1 2 4.3 3 4.3 2-.7 1 1.4 1-2 1 .4 2 5 1-1.4 1 4.9 4 9 1-.3 1 1.4 1-1.4 1 2 1-1.7 1-.1 1 2.6 1-.5 1 4.9 1 .5 1 3.7 1 1.6 1 3.2 1-.9 1 1.3 1-.7 1 .9 3 .8 1-.3 3 8.6 2 2.9 1 3.3 1 1.4 2 1.1 4-.9 1-1.2 2 7.2 1-.1 1 3.2 1 2 1 0 1 3.1 1 .9 1-.4 1 .6 1-.8 1 1.2 3-.4 1 2.2 1 4 1 .7 1 3.3 1 1.1 1 3.3 1-.6 1 .7 1 0 2-.8 2 .9 1-1.4 2 7.1 2 5 2 .6 1 3.4 1-1.4 1 1 1-2.8 1 .3 1-.3 1-1.2 1 .4 3 8.5 2 4.3 1-1.1 1 2.9 2-1.1 1-2 1 1.8 1-2 2 .9 1 3.4 1-.6 1 3.3 3 4.8 2 1.6 1-1.3 2-1 1-1.1 1 .3 1-1.7 2 5.8 2 1.2 1 3.1 2 3.3 3-2.5 1 1 1-3.4 2 .6 1-.6 1 2.4 1 .7 1 3.9 1-.9 2 6.3 1-2.7 2-.1 1-1.5 1 .6 1-3 1-.2 1 .9 1 0 3 6.3 2 1.1 1 1.4 1-.6 1-2.6 1-.3 1-.9 1-2.8 1 1.8 1-.9 1 2.9 1 .1 2 1.3 1 3.3 1-.5 1 .3 1-.4 1-3.3 1 1 1-.4 1-2.3 1 .8 1-3.2 2 4 1 .2 1 1.2 1 0 1 3.2 1 1.1 1-.6 1-2.8 1-.2 2-4.2 3-1.9 1 2.2 2 1 1 2.8 1 .7 1-2.2 1 .9 1-.7 1-2.1 2-2 2-4 2 1.2 1 2.8 1 .6 1-1.1 1 1.9 2-1.2 1-.1 1-3.2 1-.3 3-7.4 1 2.1 1 .1 1 1 1 .3 1 3.5 1-1.2 1 .1 2-1.9 2-5 1-.8 2-3.1 1-.7 1-.3 1 .3 1 2.2 2 1.3 1-1 1-.1 3-5.6 2-2.5 2-3.7 1 .2 2 1.6 1-1.1 1 1.9 2-.1 2-2.9 2-4.6 1-3.4 1-.3 1-2 1-.5 1 .9 2-.1 1 2.4 1-.8 1 .3 1-4 1-.8 2-5.7 1-.4 2-4.6 1 .8 1-1.1 1 .6 1 .1 1 1 2 .7 1-2.2 1-1 2-6.4 2-3.3 1-2.7 2-.1 1-1.1 1 2.3 1-.9 1-.2 1 .7 2-3.2 3-8.8 1-.5 1-3.2 2-1 1 .7 2-.4 1 1.8 1-1 1 0 2-5.4 1-1.7 2-6.7 2-2.4 2 .1 2-.5 2 .9 1-1.3 1-3.5 1-1.3 1-3.9 1-.9 1-3.7 1-.3 1-1.9 1-1 1 0 1 .5 1-1.9 1 1.6 2-.2 1-4.2 2-3.7 1-.7 1-4.1" fill="none" stroke="#4a8fcf" stroke-width="3.2" stroke-linejoin="round" stroke-linecap="round"/>
<path d="M309 3027.9l1-1.8 1 .1 1-.9 1 .5 3 4.6 1 .6 1 1.5 1-1.9 2-.9 1-2.3 1-.2 1 .5 1-4.9 1-.3 1 3.4 2 1 2 3.2 1 .9 1 .3 1-.9 1-1.7 2-1.5 1-1.8 1 .2 1-3.3 1 3.8 1-.1 3 3.2 1 .4 1 2.9 2-3.4 2-1.7 1-2.7 1 .5 1-1.3 7 7.5 1-1.7 1 .7 1-3.2 1 .5 1-2 2-1.5 1 2.1 1-1.7 1 3.1 1 1.2 1-.3 1 2 3-1.1 1-.8 1-1.5 1 .5 1-2.4 1-1.1 2 1.5 1 2.6 1-.8 1 .9 1 3.3 1 0 1-1.3 2-.2 1-1.2 2-4.6 1 1.3 1-1 1 1.8 2 1.5 2 3.2 1-1.1 1 2.1 1-1.1 1-2.2 1-.3 1-.9 1-2.1 1 .4 1-1.9 4 5.3 1 2.3 2-.4 1-1.9 3-2.9 3-5.8 2 3.2 3 2.4 1 2.6 1 .3 2-4.6 2-2.6 1-2.3 1 .4 1-3.3 2 3.2 1-1 1 3.3 3 1.2 1-.6 1 .2 1-3 1-1.6 1-3.6 2-.9 1 1.3 1-.3 1 2.1 1-.2 1 .7 1 1.6 1 .3 1-.2 1-1.2 1-3.2 3-2.4 1-2.3 1-.4 2 1.1 2 3.9 1-1.7 1 1.6 1 0 1-1.9 1 .9 2-3.7 1-2.8 1 .5 2-1.9 2 3.4 1-1 1 3.5 1-.6 1 .4 1-2.6 2-2.8 1-2.8 1-.7 1-3.5 1-.7 1-.6 1 1.5 1 .5 2-.8 1 3.1 2-4 1-.3 2-5.6 1-.7 1-2.1 1-3.8 1 2.5 1 .4 1 1.5 1-.6 1 .5 1-2 1 .8 1 .2 1-4.6 2-2.1 1-2.8 2-2.6 1 .8 2-.6 2 1.4 1-1 1 2 1-3 1-.8 1-2.4 1-1 1-2.8 3-4.4 1-.2 1-.9 1 .3 1 .9 1-.5 1 1.3 2-7.1 5-11.9 1 .4 1-.9 1-1.8 1-.2 2 .9 1-.2 1-.9 2-3.9 1-3.3 2-3.1 1-3.3 1-.1 1 1.7 1-.4 1 2.4 1-1.5 2 2.3 1-.5 1-2.4 1-.1 1-1.3 1-4.2 1 0 1-2.9 1 .4 1-.2 1 1.4 1-.4 2 2.4 1-1.2 1 1.5 1 .3 1-3.2 2-2.6 3-6.1 2 2.7 2-1 1 2.4 1-1 1 .7 1-.7 1-2.3 1-.9 2-3.2 2-5.5 1 1.8 1-1 1 3.4 1-.4 1 .7 1-1.7 1 2.5 1-2.1 1 .6 2-5.6 1-1.3 1 .5 1-4.1 1-.9 1 .2 2 3.7 2-1 1 2.1 1-1.2 1-.3 2-3.2 1 .1 1-4 1 1.1 1-.2 1 2.2 1 .6 3 5.4 1-.1 2 2.1 1-1.3 1-2.4 2-2.5 1 .7 1-1.8 2 4 2 1.9 2 3.2 1 2.6 1-1.1 1 .1 3-2.6 1-1.7 1-.2 2 3.7 1 .9 1 2.5 1 1.1 2 3.7 2 .7 1-.4 1-3.3 1 .8 1-.5 1 0 1 1.8 1-.9 1 5.2 2 2.9 2 4.8 3-1.3 1-1.5 1 1.3 2-2.9 1 1.7 2 7.2 1-1.2 2 5.2 1 .5 1 2 1-.7 1 .7 1-1.4 1 .3 1-.2 1-1.6 1 1.6 1 3.5 1 .3 1 1.9 1 3.5 3 4.8 2-1.2 1 .8 1-2.4 1 2.1 1-.3 1-1.5 1 1.8 1 4.1 2 5.2 1 .3 2 5.4 2-2.1 1 .4 1-1.4 3 1.7 2 3.4 3 7.5 2 3.4 2 1.9 1-2.6 2 1.6 1-.7 1 .3 1 3.4 1 1 1 3.3 1 .9 1 2.5 1 1.3 1 3.3 1-.2 2 .5 1 .8 1-2.1 2 1.2 1 1.2 2 5.3 2 3 2 6.8 1 0 1-2 1 2.1 1-1.6 1 1.1 1-.8 1 .7 1 2.6 1 1.4 1 .2 1 4.2 3 7 1 .8 1-.2 1-1.4 1 1.8 3 1.1 1 1.3 1 .5 1 4.4 1-.4 3 9.2 1 .6 1 0 1-.9 1 1.6 2-.6 1 .2 1 .9 2 5.5 2 3.6 2 2.6 1 2.4 1 1.1 1-1.2 1 1.7 1 .3 1-2.3 1 2.8 1-.4 1 2.2 1 .9 1 4.1 1 1.2 2 6.3 1 1.1 1 .1 1 1.1 2-.4 1-1.4 2 .5 2 5 1 1.5 2 6.1 2 3.3 1 .5 1-.8 1 2.2 1-1.3 1-.6 1 1.1 1-1.1 2 5 1 .4 1 4.3 1 .3 2 6.1 1 .7 2-.2 1-1.1 1 1.7 1-2.7 2 .8 2 7.5 1 .7 2 3.6 1 2.9 1 .7 1-.3 1 1.2 1-3 1 2.2 2-2.2 2 3.6 1 .8 1 3.6 1 1 2 4.9 2 1.6 1-.3 1-1.3 1 .3 1-.5 1 1.1 1-.9 1 1 4 9.5 3 2.9 1-1.4 1 .9 1-1.6 1 1.4 1-1.4 2 1.1 2 5.1 4 7.5 1-.3 2-2.9 1 1 2-1.5 1 0 2 2 3 6.5 1 .1 1 3.4 1-.5 1 .3 2-2.2 1-.2 1-1.5 1-.2 2 4.4 1-1.1 1 2.9 1-.1 2 5.1 1-.7 1-.1 1-1 1 0 2-3.2 1 .5 1-1.7 1 3.5 1 .8 1 3.1 1 1.7 1-1.8 1 2 2 2.3 1-2.5 1-1.1 2-1.7 1 0 1-.9 1 2.2 2 1.5 1 2.3 2 2.3 1 .5 1-1.7 1-.5 1-1.2 1 .4 2-4 2 1.4 1 1.7 1-.7 1 2.6 1 1.5 1 0 1 .8 7-7.1 1 .1 1 1.4 2 1.6 2 3.7 1 .5 2-1.3 1-3 1-.3 1-1.3 1-1.5 1-3 1 1.2 1-.1 2 3 1 .1 2 2.1 1 .3 1-1.9 1-.9 3-6.8 1-1.4 2 .9 1 1.4 1-1.4 1 1.8 1-.2 1 2.6 1-.3 1-2.2 2-2.6 1-.6 1-3.3 2-2.3 2 3.4 1-1.2 1 0 1 2.7 1 .3 1-.6 1-1.8 1-.5 1-4.7 1-1.1 2-1.3 1-3.1 1-.9 1 1.5 1 .3 1 2.2 1-.5 1 1.9 1-2.6 1-.7 1 .3 1-2.1 1-3.8 2-3.2 1-2.6 1-.8 2 3.9 1-.9 1 1.3 2-.6 2-2.7 5-11.2 1 .4 1-.5 1 1 1 .2 1 .7 1-.3 1 1.8 1-5.1 1 .6 4-9.3 1-1.3 1-.7 1 1 1-.2 1 .4 1-2.3 1 2.8 1-.1 2-5.3 1 .4 3-8.3 3-2.1 1-1.3 1 .8 1-.6 1 .9 1 0 4-6.8 2-5.7 3-3.9 1 .2 2 1.1 2-2.6 1 2.4 5-11.2 1-4 1-2.1 1-.5 2 1.7 1-1.3 1 1.4 1-.2 1 .7 1-4.4 1-2.1 1-1.1 4-10.5 1 .5 1-.3 1 1.6 1-1 1 1.2 1-2.9 1 .3 1-1.4 2-5.8 1-1.5 1-.2 1-3.5 1-.6 1-1.8 1 .3 1-1 1-.4 1 1.1 2-1 1-1.2 1-2.3 1-.5 2-7.4 3-4.8 1-.4 1 1 1-1.3 1 1.2 2-.6 1-3 1-.2 1-2.2 1-3.3 1-1.4 1-2.8 1-.3 1-3.5 1 .3 1 1 1-2.1 1 1.3 1 0 1 1 1-.4 1-3.1 1-1.5 2-6.6 2-2.5 1-2.7 1 .6 1-.9 2 .6 4-2.1 1-3.3 2-2.9 1-4.2 2-3.4 1 0 2 1.5 1-2.2 2 1.5 1-.4 1-2.2 1-1 3-7.1 1-1.4 1-4.3 1 2.2 1-.5 1 .2 1 .9 1-.8 2 1.7 2-3.3 1-3.7 2-3.9 1-.1 1-3.4 1 .4 2-1 2 1.8 1-.7 1 .5 1-1.7 1 1.1 1-3.8 2-2.9 1-2.7 1-.9 1 .1 1-.6 1-.1 1-1.3 1 2.5 2 2 3-5.9 1-.5 1-2.4 1-.6 1-3.8 1 .4 1 1.5 1-2.7 3 2.4 1 1.8 1-1.7 1 .1 1-4.2 2-.3 2-6.5 1 .5 1-.5 2 2.8 1 2.3 1-2.4 1 2.1 2-.4 1-1.7 1-3.3 1-.3 2-2.4 1-2.7 1 .2 1 1.9 1 .6 1 1.7 1-1.3 1 2.5 1 .5 1-2.7 2-.2 2-3.8 1-3.1 1-.1 1 .7 2 .7 1 2.7 1-.8 3 4.6 2-5.7 1 .1 1-3.4 1 .6 1-.3 1-1.2 2 2 1 2 1-.1 1 2.7 2 1.7 2-3.5 1-.4 3-4.1 1-.5 2 2.3 3 6 1 .3 1 1 1-.2 1-3.9 1 2 1-2.8 1-1.2 1-.3 1-2.7 2 5.6 1-.7 1 3.6 2 3 1 .9 2-2.6 1 .8 2-4.8 1 1.6 1-1.1 2 1.9 2 5 1 1.6 1-.2 2 3.7 2-2.1 1-.5 1-2.3 1-.5 1-2.2 2 4.7 1 .8 2 5.6 2 1.5 1 2 1-2.7 1-.5 1 .6 1-1.1 1-.2 1-.9 1 .5 1 3.2 1 .3 2 3.8 1 4.2 1 1.8 1-1.7 1 .6 2-.7 1 0 1-1.3 1 0 2 1.7 1 3.3 1 0 1 4.8 1-2 1 5.2 2-1.3 1 .5 1-1 1 .4 1 1.1 1-2.1 1-.2 2 6.5 2 2.4 3 5.4 1-.2 1 1.9 1-3.8 1 1.6 1-.9 1 .8 1 0 1 1.9 1 .9 2 5.1 1 1 1 4.2 1 1.2 1 .7 1-1.7 1 .9 2-1.7 1 3.1 1-3.7 3 10 1 .8 1 4 1 .2 1 2.4 1-1.5 1 1.8 1-1.3 1-.2 1-.8 1 1.9 1-1 1 3.7 3 5.6 1 3.3 3 4.6 1-.3 1 .6 1-2 1-.3 1 1.3 2 .1 3 9.5 1 1.7 1 0 1 4.6 1-1.8 1 2.4 1 .2 1-1.3 1 1.3 1-.5 2 2.4 2 3.4 2 6.6 1 .3 1 2.9 1 1.6 1 .3 1 1.4 1-3.3 1 1.8 2-1.6 1 .9 2 5.6 2 3.9 2 5.9 1 1.2 2-.2 1 .4 1-1 1 1 1-.5 1 .9 2 5.5 3 5.1 2 6.2 1 0 1-1.6 2 1.5 1-1 1 1.7 1-1.3 3 7.8 1 .5 1 1.7 1 4.8 1 1.1 1-.1 1-1.4 1 2.2 1 .4 1-.8 1-1.8 3 4 1 5.5 1 2.3 1-.4 1 2.4 1 4.1 1-.9 1 .3 1-.2 1 .7 1-.4 1 .2 1-.9 1 1.4 1 .5 2 7.2 1 .4 1 1.4 1 3.1 2 1.2 1-.8 1 1.2 1-1.7 1 1.7 1-2.5 2 5.6 1-.1 5 11 1-1.2 2-.8 1-1.5 1 2 1-1 1-.3 2 5.5 1 1.4 1 .7 1 3.1 1 1.2 1 2.9 1-1.3 1 .5 1-.2 1-1.2 1-.4 1-1.6 1 2.2 1 .1 1 1 3 7.6 2 2.9 1-.2 2-1.3 1 .9 3-1.3 1 .2 1 1.5 1-.1 2 5.6 1 .6 1 3.5 2-2 1-.4 3-.3 1-1.5 2 1.7 1 2.3 1 1.1 1 3.4 1-.5 1 3.1 1 1 2-2.3 1-2.3 1-.4 1 .8 1-1.9 1 .4 1 2.8 1 1 1 2.4 1 .5 1 3 1-.1 1 .7 2-1.9 1-2.6 1 .4 2-2.8 1-.5 3 5.8 4 4 1-2 1 0 1-2.7 1-.4 1 .2 1-2.2 1 2.3 1-2.4 2 3.2 1 3 1-2.4 1 3.5 1 1.1 1-2.2 1-.1 1-.7 1-2.4 1 .2 1-2.8 1-.7 1 0 1 3.1 1-1 1 1.8 1-.4 1 3.3 1-1.1 1 .1 1-1.4 1-.1 2-3.9 1-.1 1-1.1 1 0 1-1 1 2 1 .3 2 2.4 1 .8 1-.1 1-2.8 1-.6 1-1.6 1-.1 1-3 3-1.6 1 2.6 3 .4 1 2.1 2-2.6 2-1.3 1-1.8 1-3.8 1-1.2 2 .4 3 1.4 1-1.3 1 3.2 1-.9 1-.9 2-3.5 3-6.4 1-1.2 1 1.4 1-1.8 1 3.1 2-1.8 1 2.9 2-3.5 1-.9 1-.1 1-4.6 2-2.2 1-3.4 1 2.1 1-1.1 1 1.7 1-.5 1 1.7 1-.2 1 .8 5-11.7 2-1.3 1-1.5 2-.5 2 .6 1 1.3 1-.5 1 .3 1-4.4 6-10.6 1 1.8 1-1.7 1 .6 1-1.1 1 1.9 1 .2 4-6.8 3-7.3 2-.2 2-1.4 1 .9 3-1.4 1-1.2 1-2.3 1-1 2-6.5 1-.9 1-3.7 1 0 1 1.6 1-1 1 2 3-1.5 2-3.9 1-4.7 1-.9 3-6.5 2 .6 1 1 1-2.7 1 2.1 1 .6 1-.8 1-1.6 1-5.4 1-.9 1-3.3 3-6.3 1 1 1-.6 1 .5 1-.6 1 .6 1-1.7 1 .5 2-2.3 1-4.3 1-2.6 2-2.8 1-3.8 1-1.1 1 2.5 1-2.1 1 2 2-3.1 1 1.4 3-6.1 1-4.4 2-2.4 3-5.5 1 1.7 1-.8 2 2.1 1-2.2 1 .1 5-10.4 1-4.6 2-1.2 1 1.1 1-.5 1 .2 1-.8 1 .3 1-.3 2-3.2 4-9.1 1-4.2 2 3.3 1-.7 1 .3 2-1.9 1 1.6 1-3.6 1-1.5 2-5.8 3-5.4 2 1.3 1-1.1 2 .9 2 .2 1-1.3 2-6.2 1-1 1-3.5 1 0 2-3.3 1-.3 1 1.4 1-.8 2 .1 1 1.3 1-1.6 1-.7 3-8.7 1 .2 1-2.4 1-.3 1-1.3 1 3.2 1-.9 1-2.3 2 3.6 2-4.8 3-4.5 1-3.3 2-2.6 2 1.9 1-1.1 1 2 1-.3 1 1.4 1-.8 2-3.3 3-7.6 1-1.5 1 .3 1-.8 1 1.4 1-.6 1 3.2 1-1.7 1 2.3 1-1.4 1-.4 1-2.8 2-1.1 3-6.3 1 2.6 1-.2 3 .9 2 2.8 1-3.1 1-1 1-2.6 1-.4 1-2.5 1-.3 1-2.5 2 1.4 1 2 1 .1 1 1.5 2 .5 1-3.1 1 1 5-7.9 1 1 1-.7 1 1.8 1 3.6 1-.7 1 1.2 1 2.9 4-6.3 1 .3 1-3.4 1-1.2 1 .5 3 4 1-.2 1 1.7 1-.1 1 2 1-2.7 1 .6 1-1.5 1-.4 1-2.4 2-1.3 1 .5 1 2.6 2 1.8 2 3.8 1-.2 3-3.4 1 .3 2-3.5 2 1.7 1 2.2 1 .8 1 .1 2 5.2 1 0 1-.7 1-1.6 1 1.2 2-2.7 1 .4 1-2.9 1 4.1 1 .6 1 2.1 2 1.3 2 3.1 1-.4 1 1.5 1-2.7 1 1.1 1-1.8 2-1.3" fill="none" stroke="#c2515f" stroke-width="3.2" stroke-linejoin="round" stroke-linecap="round"/>
<path d="M309 3021.2l1-.7 1 2.2 1-.3 2-1.8 1-.2 1-2.6 1 1.5 1-2.2 1 .4 2 2.4 1 2.2 1 0 2 3.4 2 .5 1-.4 2-3.2 1-3.3 1 1.3 1-1.5 1 1.5 1 .3 1 3 1 .9 2 4 1 1.1 1-1.2 1-2.8 1-.1 1-.6 3-2.9 3 3.3 1 3.5 1-.2 1 .4 1 3.3 3-4.7 2-1.2 2-3.7 1 1.4 1-.2 2 4.4 3 2.4 2-2.7 1-2.4 1-.6 1-1.9 1 .6 1-1.6 1-.6 1 1.5 1 .6 2 3.1 1-.9 2 3.3 3-5.8 2-1 1-3.1 1 .8 1-.2 1 1.8 1 .4 2 2.2 1 2.2 1-1.3 2-.8 4-6.9 1 1.1 1-.6 2 3.6 1-.6 2 3.7 2-2.6 1 0 1-2.7 1-1.2 1 0 1-3.4 2 1.7 1 3.2 1-1.5 1 2.1 1 .2 1 2.9 3-4.7 1 2.7 1-4.2 1-1.1 1 1.5 1-3.1 1 .5 1-.2 1 2.9 1 .2 2 2 1 1.7 2-3.5 1 .7 1-3.4 1 .3 2-4.1 1 1.5 3 2.7 2 3.4 1-.3 3-2.4 1-2.2 2-.7 1-2.6 1 0 1 .8 1 2.4 1 1 1 .1 1 1.7 1 .8 2-1.9 1-2.4 1-.1 1-2.3 1-.6 1-2.4 2 3.3 1 .1 1 2.7 3 2.8 1 1.8 1-2.5 1-.6 3-3.5 1-2.2 1 0 1 1.7 2 1.4 2 2.2 1 2.4 1 .5 1-2.7 1 .6 1-2.5 3-.9 1-2.6 3 5.5 1-1.2 1 2.1 2 2.2 3-3.5 1-.5 1 .8 1-3.9 1-.9 1 1.4 1-.1 2 6.1 1-2.4 2 4.9 2-3.7 1 .4 2-5 1-.6 2 .4 1 2.2 1 .3 3 4.8 1-1.5 1 1.3 1-.3 2-4.3 1-1.2 1 .7 1-1.8 1-.3 2 9.7 4 16 1 2 3 2.8 1-1.8 1 2.1 1-.7 1 1.9 1 .4 2 6.6 1 1.5 1 .1 2 5.2 1-.7 1 2 1-.8 1 .4 3-1.4 2 4.2 1 .8 1 4.9 2 3.7 1 3.1 2-1.2 1 .9 2-1.9 1 1.9 1 .9 1 .3 1 3.2 1 1.2 1 2.8 2 3.2 1 2.5 1 1 2 1.6 1-.3 2-2.1 1 .6 4 9.5 1 .3 1 4.4 1 0 1 1.9 1-1.3 1 .1 2-.9 1 1.5 1 .1 1 1 1 2.5 1 1.1 4 10.1 1-.3 1 2.3 1-1.7 1-.3 1 1 1-.1 1-1.4 1 2.1 1 3.6 1 1.8 1 .3 1 3.9 1 .5 2 4.9 1-.7 1 1.1 1-.4 1 .2 1-1.2 1 1.5 1-.3 2 4.1 1 4.4 4 6.8 1-.1 1-1.6 1 1.1 1 0 1 .8 1-1.1 1 .3 2 5.3 2 3.2 2 7.6 2-.2 1 .7 1 .1 1-2.7 1 1.4 1-.7 1-2 1 .1 1 1.9 2 1.3 1 1.6 2 1.7 1-.1 1-2.2 1-.3 1-3.1 1 .2 1-1.9 1 0 1-.7 1 1.7 1-1.2 1 2.3 1 .5 1 2.9 1 .6 1-1.5 1-.3 1-3.4 1 0 2-2.2 2-.3 1 2.8 2 1.8 3 6.1 1 .1 1-1.3 2 .4 1-2.3 1-.5 1-1.3 2 .7 1 3.8 1 1.3 1 .1 1 2.9 1 .3 2 1.7 1-3 1-1.5 2 .4 1-2.8 3 2.6 2 4.3 1 .1 2 2.9 1-1.1 1-2.3 2-1.2 3-3.7 2 3.6 1 .4 1 1.3 2 .9 1 1.3 3-2.5 1-1.7 1-.6 2-2.3 1 .1 1 1.1 1-.6 2 3.9 1 0 1 2 2-3.2 1-3 1 1.8 3-5.4 1-.2 1 2.3 1 .6 2 .4 1 2.5 1 1.2 1-2.7 2-3 1 .1 3-5.8 1 0 1 .7 1-.1 1 1.9 3 2.1 1-.7 2-2.9 1-3.2 2-2 1-3 2 .6 2 1.7 2 .6 1 1.7 1-.8 3-6 1-3.4 1-.5 2-2.8 2 .5 1 1 1-1 1 2.5 1-.9 1 .4 1-.6 1-3.4 2-2.9 1-4.3 2-1.8 2 .9 1-.5 1 .5 1 1.5 2 0 3-5.8 2-5.5 1-1.4 1-.3 1-1.8 1-.4 1 .7 2 .3 2 2.5 1-3.9 1-1.2 1-2.9 2-3.9 1-3.4 1-.2 1-1.7 1 1 1-.8 2-.2 1 .5 1 1.3 4-10.6 2-2 2-4.4 1-.7 1 1.7 1-1.5 1 .2 1 1.3 1-1.2 1 .4 3-7.7 1-1.3 1-3.6 1-.2 1-3.2 1 .1 1-1.7 2 1.6 1 .3 1-.7 1 .2 1-4.7 1 1.6 1-4.6 1-.4 1-5.1 1-.9 1-4.2 1 1.7 1-1.3 1 .6 1-.8 1 .8 1 2.3 2-3.4 1-4.4 6-13.1 1 1.2 1 .3 1 .9 2-1.3 1 .1 3-6 1-3.3 1-1.2 3-7.5 2 .5 1 .9 3-2.1 1 .7 5-13.7 1-.8 1-3.5 1 2.1 1-1 2-1 2 .1 2-2.6 2-6.1 1-.5 1-1.9 2-6.2 1 .2 1 1.2 3-1.2 1 2.3 1-1.6 5-12.3 1 0 1-6.4 1 1.8 1-.1 1 1.3 2-2 1 .2 1 1.3 1-1.3 3-8.4 1-.6 2-5.7 1 .6 1-1.1 1 1.9 1 .2 2-1.4 1 1 1-1.7 1-3.3 2-3.3 3-7.4 1 .1 1 1 4-.1 1 1.1 3-7.1 1-1.4 1-3.4 1-.5 1-2.7 1 .3 1 .8 1-.6 1 0 3 1.7 1-.5 3-7.4 1 1.4 1-5 1-2.3 1-1.1 1 1.1 1 .2 1 1.3 2 .1 1 1.8 1-.6 1-2.6 1-.7 1-2.9 1-.6 1-3.2 1-1.7 1-.7 1 .8 1 .2 1 2 1-.9 2-.2 1 1.6 3-6.9 1 0 1-2.9 2-2.7 1 1.8 1 .7 2-1.2 1 2.7 1-.6 2 1.4 2-5.4 3-3.4 1-2 1 1.5 1-1.6 1 3.7 1 1.4 2-.8 1 2.4 2-2 1-2.2 1-.6 2-2.5 2-3.7 1 2.5 1 .8 1-.6 1 3.3 1 1.3 1-.2 1 1 2-4.4 1 .5 1-1.7 1-3 1 1 1-.3 1 .4 2 3.2 1-.8 1 2.9 2 1.2 1-1.2 1-.2 1-3 1 0 1-2.4 1 .9 1-.8 1 .5 2 3.5 1 .9 1 2.3 1 .3 1 2.8 2-5.1 2-1.5 1 .1 1-1.6 1 .2 2 2.6 1 4.1 1-1.9 2 3 1 2.7 1-2.1 1-.6 1 1.3 1-1.1 1-2.3 1-.2 1-1.2 1 2 1-.1 1 4.4 4 5.4 1-.9 1 .4 2-3.4 1-.5 1-1.3 1 .1 1 2.2 1 .3 1 2.6 1 .8 2 6.7 1 1.1 2-1.8 1 .1 1-1.5 1 1.2 1-.8 1-1.9 2 3.6 1 .9 2 5.5 1 1.1 1 3.5 2-1.5 1 1.3 1-3 1-.7 1 .8 1-.7 1 .3 1 3.3 1 1 1 2.6 1 3.5 2 3.3 1-.1 1 .5 1-1 2 1.2 1-2.9 1-.8 2 4.9 1 1 1 3.9 1 1.4 1 3.1 1 .6 1 1.9 3 .9 1-.7 1-1.8 1 1.1 1-1.2 1 3.9 4 7.5 1 4.5 5 .4 1-.8 2 1.1 1 1.3 1 1.6 5 12.6 1 1.5 2-2.3 1 1 1 .4 1-1.4 1 .6 3 6 2 5.9 1 .3 1 3.7 1 1.5 2-1.5 1 2.1 1-2.2 1 1.2 1-1.6 2 5.4 1 1.3 1 2.3 1 3.7 2 4.9 1 .2 1 1.9 1-.9 1 1.6 1-2.1 1 2.3 1-.9 1-.1 5 13.7 2 2.1 1 .1 1 .7 1-.9 1 .6 1-.3 2 1.4 2 6.9 1-.2 1 3 1 .8 1 5.5 1-.1 1 1.5 1-.7 1 .8 1-.9 1 .3 1-.6 1 .7 2 3.9 2 5.8 1 1.3 1 3.5 1 2 2 1.1 1 1.9 1-2.9 1 1.5 2-2.3 1 4.4 1 .7 3 8.6 2 3.7 2-1 1 1.4 1 .5 1-2 1 1.8 1-.1 3 5.5 1 3.4 1 1.9 1 .7 2 4.4 2 .4 1-1.1 1 1.1 1-.6 1 .4 1 1.2 6 13.1 1 1.5 3-1.9 2 .8 1-.4 1-1 2 6.6 3 5.9 1 3.1 1 .3 1 .9 1-.9 1-1.9 1 .1 1 1.2 2-.2 1 2.8 2 2.8 1 2.6 1 .6 2 5 1-2.2 2 .6 1-1.7 1 0 1 1.2 1-1.2 2 5.1 1-.7 1 2.2 1 4.1 1 .4 1 3.6 1-2.2 1 .4 1-.3 1-1.8 1 .5 1-.3 1-1.4 1 2.2 1 .8 1 2.5 3 4.7 1 3.1 1-2.1 1 1 1-2.1 1 1.2 2-1.5 1-1.8 1 1.9 1 1 1 3.2 2 1.9 2 4.8 1-1.4 1 .4 1-3 1 .9 1-2.8 1 .5 1-.6 3 3.1 1 3.4 1-.9 1 3.2 1 .8 1 2.7 1-3.5 1-1.1 3-1.9 2-2.7 1 2.7 2 1.7 1 2.1 3 3.8 1-3.3 1 1.2 1-2.8 1-.6 1 1.4 1-2.9 1-1.7 1 1.4 1 2.6 1 .2 1 2.4 3 2.3 1-2.2 1-.2 1-1.8 1 .5 1-1.2 2-4.9 1 3.2 1 1.2 2-.1 1 3.2 1-.1 1 1.9 1-3.1 2-1.8 3-4.1 1-.8 1 .4 1 1 1 0 1 1.5 1-.5 1 3.3 1-1.3 1-.5 1-2.1 2-.8 2-4.6 1 .5 1 1.1 4 8.9 1-1.2 4-9.3 1-3.7 2-2.1 3-9.5 1-2.1 3-17.3 1-2.2 1-.1 2 5.4 2 11.1 1-.9 1 1.8 1 .4 1 1.4 2 1 1 1.7 1-.7 2 .8 1-.7 1-3 1-1 2-6 2-2.6 2 .7 1-.4 1 1.2 1 .2 1 1.9 2-2.9 2-5.7 1 0 1-2.1 1-3.6 2-1.8 2 .3 1 .9 1-1.2 1-.2 1 2.2 2-5.1 2-2.8 2-5.8 1-.8 1-1.8 1 .1 1 .9 1-.8 2-.1 1 .1 1 .9 1-4.2 2-4.5 1-.8 1-3.7 1-1.8 1-.1 1-1.9 1 1.7 1 .3 1-1.1 1 .8 2-1 5-12.4 1-1 1-3.1 2 .5 2-1.2 1 .7 1 1.8 5-10.8 1-3.9 2-3.3 1-.7 2-.4 2 .9 1-.2 1 1.7 2-7.2 1-1.3 1-4.1 1-2.4 1 0 2-6.1 1 2.9 1-1 1 .4 3-.4 1-2.5 1-1.2 1-3.4 1-1.4 2-5.7 2-3 1 .6 1 0 1-1.7 1 2.3 1-1.9 2-.7 1-3.7 1-2.3 1-.6 1-3.9 3-6 1-.2 2 2.1 1-2 2 1.6 1-2.1 1-.7 2-7.9 1 1.1 1-5 2-3.3 1 .4 1-1.2 3 1.5 1-.7 1-1.9 1-.4 2-5.9 1-.5 1-4.8 1-1.4 1-3.7 1 .4 1 1.6 1 0 2 1.1 1-1.7 1 .7 4-10 4-7.6 1 3.4 2-1.8 1 .4 1-.8 1 .1 1-2.5 1 .1 1-3.3 1-1.5 1-3.2 1-1.5 1-2.7 1 1 1-.5 1 .7 1 0 2 1.1 1-1.6 1-.7 1-2.7 1-.4 1-1.3 3-8.5 1-.8 2 .2 3 2.8 1-.8 1 .1 4-9 1-.7 1-3.5 1-.2 4 3.1 1-1.8 1 2.7 3-4.7 4-8.3 1-.7 2 2.5 1-2.4 1 2.9 1 1.1 1-1.6 1 2.3 1-3.6 1-1.8 1-1.2 1-2.3 1 .3 2-4.2 3 1.5 2 3.6 1-1.4 1 1.3 2-5 1 0 1-1.9 1-.4 1-3 1-1 2 .9 1 2.5 1-.5 1 .9 1 0 1 3.6 2-5.6 1 .7 1-1.4 2-5.2 4 3.3 2 2.3 1 .2 1 1.2 2-1.7 1-.3 1-2.8 2-1.4 1-1.5 1-.4 2 2.6 2 1.4 1 2.3 2 2 3-5 4-2.9 1 2.3 1 .4 2 3.4 1 .4 1 1.7 2 0 2-3.6 1 .2 1-1.4 1 .3 1-.8 1 2.7 1 .1 1 2.2 1 .5 1 3.2 2 1.1 1-1.1 1 .9 1-1.8 1-3.3 1 .7 1-.2 1 1.6 2 .5 6 9.5 1-4.1 1 1.6 1-.3 1-2.4 1 .1 1-.9 1 2.6 2 2.4 1 3.2 1 1 2 3.7 1 .4 1-.1 1-1.9 1-.3 1-1.3 2 .5 1 1.7 1 .6 1 2.2 1 0 1 1.7 2 6.4 1 1.1 1-1.4 1 .2 1-2.3 1 .7 1 0 2-1 1 3.8 1 .9 1 3.4 1 1.1 1 2.4 2 2.6 1-1.1 1 .1 2 1.1 2-1.2 1 .2 1 2.5 1 .6 3 7.7 2 3.5 1-.2 1 1.1 1-1.2 1 1.1 1-1.8 1-.6 2 2.7 2 5.1 1 0 3 8.6 1-.8 1 .4 1-.6 1 1 1-.7 1 .2 1 .7 1-.4 3 9.4 3 6.2 1 1.1 3-1.6 1 1.9 1-1.6 1 .8 2 3.5 1 2.7 1 1.2 3 8.1 1-1.1 1 0 1 1.2 1 .5 1-.9 1-.4 1 1.7 1-.6 1 4 1 1.4 1 3.7 3 6.7 1 .5 1 1.6 2-1 1 .8 1-1.9 1 2.9 1-2.3 1 5 2 2.9 2 7.3 1 1.6 1 1.4 4-.9 1 2.1 1-1.6 1 2.8 1 .9 2 6.4 1 .2 1 3.2 1 1.5 1 4.3 1-.2 1-.9 1 .5 1-.5 1 .6 1-.1 2 1.1 2 6.8 1 .9 3 7.5 1 .7 1-.1 1 1.7 2-.7 2-2 2 5.6 1 1.2 1 3.6 2 4 1 3.8 1-.8 1 .1 1 1.1 2 .1 1-2.2 1-.6 2 4.2 1 4.7 1 .1 1 1.8 2 6.9 1-.7 1 1 1-1.1 1 1.3 1-.6 1 .4 1-.9 2 2.7 5 12 2 1 3-.3 2 1.2 1-1.5 2 5.5 1-.2 1 4.6 1 .4 2 4.3 1-.9 1-.1 2 1.1 1-.1 2-2.6 2 5.4 3 4.6 1 4.1 1 .7 2 .5 1-.2 1-2.2 2 .4 1-.6 1 1 1 2.7 1 .6 1 3.5 3 6.2" fill="none" stroke="#55ad45" stroke-width="3.2" stroke-linejoin="round" stroke-linecap="round"/>
<line x1="309.0" y1="3239.0" x2="2098.0" y2="3239.0" stroke="#aaa" stroke-width="3"/>
<line x1="2098.0" y1="2855.0" x2="2098.0" y2="3239.0" stroke="#c8c8c8" stroke-width="2.5"/>
<line x1="309.0" y1="2847.0" x2="309.0" y2="3239.0" stroke="#444" stroke-width="3"/>
<line x1="286.0" y1="2902.5" x2="309.0" y2="2902.5" stroke="#bbb" stroke-width="2.5"/>
<line x1="286.0" y1="3041.0" x2="309.0" y2="3041.0" stroke="#333" stroke-width="2.5"/>
<rect x="1813" y="2858" width="266" height="207" fill="#fff" stroke="#aaa" stroke-width="2.5"/>
<line x1="1813.0" y1="2858.0" x2="1813.0" y2="3065.0" stroke="#111" stroke-width="3"/>
<line x1="1822.0" y1="2892.0" x2="1906.0" y2="2892.0" stroke="#86c078" stroke-width="3.5"/>
<text x="1932.0" y="2915.5" font-family="'DejaVu Sans Condensed','DejaVu Sans','Liberation Sans',sans-serif" font-size="58.5" text-anchor="start" fill="#1a1a1a" stroke="#1a1a1a" stroke-width="0.25">Am_r</text>
<line x1="1822.0" y1="2959.0" x2="1906.0" y2="2959.0" stroke="#c88890" stroke-width="3.5"/>
<text x="1932.0" y="2983.5" font-family="'DejaVu Sans Condensed','DejaVu Sans','Liberation Sans',sans-serif" font-size="58.5" text-anchor="start" fill="#1a1a1a" stroke="#1a1a1a" stroke-width="0.25">Am_s</text>
<line x1="1822.0" y1="3031.0" x2="1906.0" y2="3031.0" stroke="#80aad4" stroke-width="3.5"/>
<text x="1932.0" y="3053.0" font-family="'DejaVu Sans Condensed','DejaVu Sans','Liberation Sans',sans-serif" font-size="58.5" text-anchor="start" fill="#1a1a1a" stroke="#1a1a1a" stroke-width="0.25">Am_t</text>
<text x="275.0" y="2923.0" font-family="'DejaVu Sans Condensed','DejaVu Sans','Liberation Sans',sans-serif" font-size="56" text-anchor="end" fill="#1a1a1a" stroke="#1a1a1a" stroke-width="0.25">1000</text>
<text x="275.0" y="3061.0" font-family="'DejaVu Sans Condensed','DejaVu Sans','Liberation Sans',sans-serif" font-size="56" text-anchor="end" fill="#1a1a1a" stroke="#1a1a1a" stroke-width="0.25">0</text>
<text x="275.0" y="3202.0" font-family="'DejaVu Sans Condensed','DejaVu Sans','Liberation Sans',sans-serif" font-size="56" text-anchor="end" fill="#1a1a1a" stroke="#1a1a1a" stroke-width="0.25">-1000</text>
<text transform="translate(107.0,3043.0) rotate(-90)" font-family="'DejaVu Sans Condensed','DejaVu Sans','Liberation Sans',sans-serif" font-size="57.5" text-anchor="middle" fill="#1a1a1a" stroke="#1a1a1a" stroke-width="0.25">grid curr(A)</text>
<line x1="309.0" y1="3428.0" x2="2098.0" y2="3428.0" stroke="#555" stroke-width="2.2" stroke-dasharray="3.5,8.7"/>
<line x1="309.0" y1="3584.0" x2="2098.0" y2="3584.0" stroke="#555" stroke-width="2.2" stroke-dasharray="3.5,8.7"/>
<line x1="748.0" y1="3351.0" x2="748.0" y2="3739.0" stroke="#555" stroke-width="2.2" stroke-dasharray="3.5,8.7"/>
<line x1="1102.5" y1="3351.0" x2="1102.5" y2="3739.0" stroke="#888" stroke-width="2.2" stroke-dasharray="3.5,8.7"/>
<line x1="1457.0" y1="3351.0" x2="1457.0" y2="3739.0" stroke="#e4e4e4" stroke-width="2.2" stroke-dasharray="3.5,8.7"/>
<line x1="1811.5" y1="3351.0" x2="1811.5" y2="3739.0" stroke="#555" stroke-width="2.2" stroke-dasharray="3.5,8.7"/>
<path d="M309 3387.5l1 4.3 1-2.4 1 10.6 1 6.2 1 1.9 1 4.4 1 12 2 11.9 1 .5 1-3.7 1 4.5 1 1.7 1-1.9 2-6.1 1 6.4 1 2.2 1-5.2 1 8.6 1-2.5 1 6.5 1-2.6 2 7.4 1-3.2 1 8.8 1 .4 1 3.4 1 6.5 1-3.6 1-1.3 1-4.3 1-7.4 1 4.6 3-13.2 1-7.1 1-3.3 1 8 1 4 1-1.6 1 11.7 1 3.7 1 1.2 2 8.1 1 2.3 1-1.9 1-5.4 1-1.9 1-3.5 1-1.6 1-8.5 1-.8 1-7.5 1 9.2 1 2.4 4 14.4 1 7.4 1-.7 1 .9 1 9.1 1 5.2 2-11.2 1-.5 2-11.7 1-2.7 1 .1 1-3.6 1-7.9 2-5.2 1-3.9 1 3.9 3 18.3 1 9 1-1.2 2 13.8 1 10.8 1-12 1-4.9 1-4.6 1 2.1 1-9.1 1-1 1-6.3 1-2.7 1 .5 2 10.5 1-.2 2 11 3 6.9 1-1.1 1-.1 1-2.4 1-4.6 1-.5 1-3.5 1-.2 1 1.4 1-2.4 1-.8 1-8.4 1-.4 1-5.2 1 4.9 1 .7 2 8.1 2 11.9 1-1.6 1 10.6 2 4.8 1 .2 1-8.6 2-4 1-4.1 1 .2 1-.8 2-25.7 1 4.8 2 16.5 3 19.4 1 9.9 1 5.4 1-1.7 1-5.4 4-26.8 2-5.4 1-9.1 1-.7 1 1.9 1 3.7 2 11.6 1 1.1 2 10.4 1 1.9 3 17.5 2 1.4 2-9.1 1-1 1-6.1 1 1.3 2-2.4 4 26.1 1 14.6 1 6.4 1 2.5 1-.2 1 5 2-8.7 2 2.4 1-5.3 2 8.6 1-2.3 1-.3 1-3.8 1 5.8 1-3 1-1.2 1 4.2 1-2.1 1 4.9 1-4.8 1 5.4 2-9 1 3.1 1 .9 1-.2 1-4.6 1 3.7 1-1 1 3.4 1 .1 1 1.4 1-.8 1 4.2 1-.9 3 12.4 1 8.4 1-2.3 1 .9 1 2.2 1 11.6 1 1.4 1-3 1 5.8 1 1.1 1 3.5 1 .6 1 8.6 1 0 1-.5 1-1.9 1-6.5 7-66.3 1-4 1-13.4 2-12.1 1 2.4 1-.9 1 7.2 3 10.1 1-.8 1 .3 4 18.7 2 5.5 1-5.6 1 4.6 1 1.4 1 .2 1-1.4 1 2.2 1-.9 1 .2 1-2.2 1 6.4 1-3.1 1 2.8 1-.2 1-4.2 2 5.5 1-1.5 1 1.6 1-2.1 1 4.1 1-1.7 1 2 1 4 2 10.6 2 5.5 1 8.2 1 4.1 2 4.7 1-5.7 1-2 1 4.3 1-6.7 1-2.3 1-7.9 1-1.5 1 4.1 2-2.8 1 1.2 1-1.4 1 1.1 1 3.1 1 1.7 1 3.8 1 .6 2-9.5 1-9.5 4-24.6 1 7.4 1 .3 3 13.3 1 0 1 2.9 1 6.5 1 3.6 1 .5 1-9.9 1-3 1-6.4 1-3.4 2-14.5 2-8.6 2-14.5 2 9.5 1 1 1 8.8 2 8.3 2 16.1 1 1 1 4.5 2 16.9 2-20.1 2-11.1 1-14 4-38.6 3 34.2 1 3.9 4 37 1-14 1-3.9 2-12.2 3-23.8 1-1.9 2-21.8 1 15.8 4 19.4 3 25.3 3 16.1 1-3.6 1-10.5 1 0 1-8.5 2-6.9 4-29.1 2-6.4 3 29 1-2.5 4 33 1-6.5 1-17.6 1-5.2 1-2.4 1-12.7 1 1.5 1-12.8 1-6.7 1-.4 2 16.9 2 9.9 2 16.4 1 5.2 1 13.2 1-2.4 1-10 1-.1 1-5.2 1-2.4 2-8.2 1 3 1-11.4 1-4.1 1 3.3 1-9 2-5.7 1 1.3 1 10.5 1-1.3 1 7.8 1-4 1 11.6 1 4.7 1-1.4 1 5.4 1 2.3 3-17.6 1 1 3-15.1 1-1.7 1 8 1 1.1 1 8.3 1 2.4 2 8.5 1 .1 2 9.2 1-5.2 1 .4 1-7.7 1-.3 2-7.7 1 .3 3-14 2-4 1 5 1 .7 1 6.2 1 3.5 1 1.1 1 3.1 2 12.5 1-.6 2 6.1 1-3.9 1 .8 1-11.5 1 .7 1-8.2 1-1 2-9.1 1 1.9 1-4.7 1 15.8 1 1.8 1 7.8 1 4.1 1 1.6 1 12.7 1 3.2 3-20.4 2-6.9 3-21.4 1-3.4 1-8.4 1 1.5 2 10.5 1 9.8 1-.1 1 9.4 1 3.7 1-.7 1 14.1 1 2.7 2 12.4 2-7.6 1-11.5 1 3.6 2-20 2-7.3 1-6.2 1-15.5 1 2.9 2 28 1 6.8 1 11.7 1 4.6 1 12.3 1-17.7 1-1.3 1-8.1 1 .2 1-3.3 1-.4 2-9.7 1-1 2-18.8 1 8.3 1 2.1 1 9.6 1 3.7 2 14 1 .7 1 8.5 1 3.2 2 17.1 1-18 4-14.7 1 1.2 1-6.4 1 .2 1-4.4 1-10.9 1-.4 1-4.4 1 1.8 3 21.9 3 27.1 1-12.7 1-.5 2-13.3 1-2.3 2-14.1 1 2.3 1-18.9 2 18.5 2 7.5 1 9.7 3 15.8 1 2.8 1 6.8 1 2.3 1-6 1-2.8 1-8.3 1-.3 1-4.4 1-11.2 1-3.5 1-1.5 1-6.8 2-7.3 1-8.3 2 9.2 1 13.9 1 .7 5 41.1 1-17 1-7.9 1 .5 1-7.4 1-.1 2-15.8 1-3.5 2 12.6 1-.2 1 7.1 1-.7 2 9.6 1-1.2 2 15 2-7.2 1-6.9 2-6.3 3-12.6 2-5.5 1-.5 1-9.9 1 5.9 1 1 1 6.3 2 6.4 2 16.1 1 1.3 1 8.7 1 4.8 1-8.2 1-2.6 1-6.1 1 .8 2-15.6 1 .6 1-8.4 1-1.8 1 11.3 1-4.1 1 10.2 1 3.5 1 .4 1 12.6 1-.9 1 6.4 2-5.6 1-9.1 1 2 1-7.2 1-3.9 1-1.9 2-6 1-6 1-1.6 1-3.9 1 6.7 1 1.4 1 3.4 1 5.6 1 1 1 12.2 1-5.7 1 10.9 2 13.3 1-1 1-13 1-.6 2-6.2 1-1.3 1-6.4 1-1.8 1-4.5 1-2.2 1-14.2 1 5.1 1 1.2 1-6.3 1 0 1 3.2 1-4.4 1-7.4 2-7.7 1-.4 1 5.2 1 13.1 2 10 2 17.7 1 .2 1 9 2 10.1 1 9.6 1 .2 1 9.9 2 13.3 1 3.4 1-3 1 1.4 1-4.5 1 4.3 1-1.4 4-28.2 1-.1 3-17.1 1-2.4 2 15.5 1 .1 2 17.7 1 2 1 10.7 2-10.4 1 .4 1-2.9 1-1.4 1-8.4 3-11.4 1 .5 1 1.7 1 9.2 1 .7 2 8.9 1-.5 1 6.7 1 1.5 2 10.8 1-2.1 2-1.4 1-2.7 1-.9 3-13 1-2.2 1-6.1 1-2.5 1-.8 1-16.8 2 17.5 2 11.9 2 25.2 1 5.4 1 2.5 1 9.6 4-40.8 1-5.5 1-12.4 2-10.5 1 12.9 1 6 3 30.1 1 5.5 3 27.2 1-16.3 2-11.7 1-2.7 1-4.5 1-6.4 1-.1 2-10.2 3-9.6 1-20.5 2 20.4 2 11.3 6 57.2 1-16 1-5.7 1-10.7 1-2.3 2-20.3 1-7.4 1-3 1 2.9 1 12.2 1 5.1 1 2.8 1 17.9 1 8.3 1 2.6 2 19.5 2-18.7 1-2 1-12 1-.6 1-11.5 3-9.6 2-13.6 1 3.8 2 12.5 1 3.7 1 10.5 2 9.9 1 7.9 2 10.6 1 11.9 1 6.4 3-26.5 1-1.2 1-11.3 1 1.8 1-13.5 1-1.6 1-4.8 2 12.9 2 17.3 2 9.2 1 8.4 1-2.4 1 .1 4-18.9 1-6.8 1-1.1 1-2.4 1-7 1-14.7 1 7.9 1 1.9 2 13.6 1 4.1 1 8.8 4 20.3 2 13.7 1-8.2 1-13.9 1 1 2-21.2 1 .6 1-3.3 1-14 1-1.6 2-18.5 4 36.7 1 14.9 1 6.5 1 13.2 1-18.9 1-3.1 1-6.7 1-10.5 1 .1 1-5.7 1-9.7 3-12.9 1 .9 1 13.4 2 8.4 1 7.9 2 6.7 1 8 1-.1 1 9.8 1 5.4 1-7.9 1-13.4 1 4.7 2-23.8 1 .1 1-11.2 2-9.5 1-12.3 1-5.3 1 5.7 1 10.3 1 1.6 1 14.4 1 1.9 1 4 3 26.5 1-.8 1-17.3 1-3.5 4-40.7 1-6.6 1 3.6 6 47.1 1 2.3 1 9.2 1-3.5 2-11 1-1.4 2-17 1-2 1-6.2 1-.3 1-2.7 2-15.9 1 .6 1 6.4 1-1.5 1 6.2 2 4.9 2 8.4 1 2.3 1 6 1 2.3 1 9.6 1-3.3 1-9.4 1-5.4 1-12 4-29.1 2 18.3 1 2.9 1 11 1-1.1 3 26.7 1-13.9 1-4.9 1 1.9 1-6.6 2-8 2-14.1 1 3.9 1-8.5 1-.4 1-3.2 1 11.3 2-3.8 1 7 1-2 1 6.5 1-1.3 3 12.7 2 3.2 2-5.1 1-14.2 1 6.5 2-15.2 1-1.5 2-14.9 1 9.6 1 2.5 1 10.8 1 6 1 2.3 1 12.2 1 2.6 1-9.4 2-7.8 1-2.9 1-1.6 2-12.5 2-4.3 1-8 1-2.7 1 .9 2 13.4 1-3.7 2 10.4 1 8.4 1 .9 1 2.9 1 6.3 1-1.6 1 4.1 1-10 1 2.5 2-9.1 1-8.2 1-1.1 3-11.1 1-5.8 1-2.1 2 10.8 1 10.9 2 4.1 1 10.1 1 5.3 3-19.7 1-2.6 1-8.3 1-1.8 1-9.9 1-.5 1-12.8 1 4.5 1 11.3 1-.5 1 7.3 1 .8 1 8.2 2 7.6 1 .2 1 11.2 1-2.6 1-11.7 1-1.2 1-3.1 1-5.2 1-2.4 1-4.6 1 2.8 1 .2 1-5.7 1-3.4 1-1.8 2-12.5 2 17.8 1-2.7 1 7.5 2 2.8 1 3.7 1-.9 2-8 1-2.2 1-5.6 1 9.9 1-6.8 2-4.5 1 2.4 1-.8 1 5.8 2-4.5 1 1.5 1 .5 1-2.1 2-76.5 1 3.4 2 29.8 3 31.2 1 16.8 1 7.9 1 16.3 3 34.2 2-5.1 1-8 1 .3 2-4.7 1-.6 1 2.5 1-2.1 2 9.6 1-5.5 6-76.4 1-3.9 2 30.2 3 33.1 1 15.1 1 5.5 1 12.9 1-23.5 1-3.8 1-9.8 1-4 1-7.4 1-3.2 1-5.7 2-14.8 1 1.4 1-7.3 1-4.2 2 12 1-.9 1 12.2 1 2.6 2 12.3 1 11 1-1.3 2 17.3 1-14.1 1-.9 2-10.1 1-10.4 3-13 2-15.7 2 25.6 2 14.7 1 4.1 2 30.6 1-25 2-6.5 1-9.7 3-10.8 2-12.5 1 0 1-8.4 1 10.5 1-1.1 4 24.4 1 3.7 1 .9 1 10.2 1 2 1 9.2 1 20.2 1-11.6 1-4.5 1-13.5 1-4.5 3-40.2 2-19.7 2 16.5 1 13.7 2 12.8 3 33.9 1-1.6 3-27.4 2-11.2 2-18.5 1-3.3 1-12.4 2 21.6 3 17 2 20.7 3 19.6 1 11.1 1-31.2 1-4.3 1 2.9 1-11.2 1 .2 1-6.1 1-1.5 1-3.3 3-14.8 1-23.9 3 32.5 1 6.9 1 15.2 1 5.6 2 27 1-4.6 1-8.6 3-39.8 1-8.2 1-20.1 1-7.4 1 14.9 2 12.1 1 9.9 2 10.7 4 35.2 1-14.8 1 .4 1-8.4 1-3.8 1-.9 4-22.6 1-1.6 1-8.8 2-3.6 2 7.2 1 6.8 2 8.5 2 11.9 2 17.3 1 30 5-68.2 1-18.1 2-14.3 2 24.4 1 5.9 1 14.2 1 7.7 1 16 1 3.1 1 8.9 1 19.3 3-35 1-5.5 2-23.3 2-10.7 3-32.5 1 28.6 1 5.5 1 .2 2 8.6 1 6.3 1 2.4 1 6.2 1 10.5 1 .7 1 4.2 1 7.4 2-5.3 1-10.8 1-3.8 1-11.4 3-23.4 1-17.8 3 40.2 2 19.5 1 16.4 2 12.3 3-34.6 3-19.1 1-13.3 2-11.6 1-.8 2 11.3 1 3.3 1 13.6 1-1.2 1 9 4 20.7 2 17.7 1-14.7 4-19.6 1-8 1-.6 1-13.4 1 .5 1-5 1-23.6 7 96.6 1-25.8 1-12.1 1-7.4 1-2.6 2-12 1-3.5 3-24.7 2 21.8 1 2.3 1 5.5 1 16.8 2 8.6 2 20.2 2 6.6 1-5.2 1-11.4 4-21.4 1-9.8 1-4.6 2-18.7 2-9.9 8 92.9 2-26.8 2-16 1-15.4 3-29.5 2 26.6 1 3.4 1 6.5 2 24.8 1 2 3 18.4 1-2.3 1-10.9 1 2.1 2-13.1 1 0 1-11.4 2-5.6 3-22.3 3 22.9 1 1.7 1 6.3 1-.7 1 15.3 1-3.3 2 13.5 1 20.5 3-27.5 1-18.8 3-27.4 1 17.5 1 3.5 2 10.9 1 11.9 1 3.7 3 21.2 1-8.3 1-3.4 1 .7 1-10.8 1-5.9 1 3.8 1-8 1 1.8 1-4.1 1-8.4 1 .7 1-6.1 1 6.5 1 1.8 1 6.2 1-.1 1 2.8 2 13.1 2 8.9 1 .6 1 4.5 1 12 1-9.3 1-2.2 1-11.5 1-3.6 1-7.9 1-.8 2-10 1 2.3 1 10 1 .1 1 8.7 1 4.3 1 10.4 2 7.6 1-1.3 1 0 1-8.4 1-1.6 1-8.1 1-1.6 1-3.7 2-10.7 1-.1 1-9.8 1 10.2 1 2 1 8.1 1 1.7 1 7.4 2 5.9 2 15.3 1 1.3 1 3.5 1 5.9 1-1.3 1-8.7 1-2.2 1-7.4 1-1.3 2-15.6 1-1.4 1-6.6 1-3.5 3 20.9 1 9.7 1 2.9 1 9.4 1 3.2 1 7.9 1-13.8 1-5.9 2-3.1 2-12.8 1-3.7 1-.8 1-16.6 5 35.8 1 3.6 1 7.4 1 1.2 1 7.9 2 9.8 1 .8 1-.3 1-10.6 1-1.8 2-6.9 3-17.4 1-3.4 2-13.8 1 11.3 1-.5 1 11.6 3 19.7 2 9.8 1-.6 1-3 1-8 1 1.5 1-10 2-9.5 1-1.2 1-18.7 1 8.3 2 9.7 2 15.2 1 1.8 2 18.6 1 3 1-16.1 3-10.7 1-.9 1-5.4 1-1.1 5-21 1-2.6 1-12.5 1 7.4 1-.5 1 5.6 1 9.5 1-.1 1 10.1 1-1.5 2 16.3 2-16.9 1-4 1-11.9 1-.8 4-30.2 2 14.4 1 11.2 1 3.9 1 11.1 1 3.7 1 9.7 1 4.2 2-21.3 1 .6 2-14 1-10.9 1-1 1-9.3 2-6.2 1-9.1 1-2.8 1-10.6 2 10 1 11.3 1 .3 2 20.8 1-2.2 2 22.5 1 4.8 1-5.3 3-31.1 1-6 2-18.8 1-12.8 1-6.2 3 24.6" fill="none" stroke="#48ad3c" stroke-width="5.2" stroke-linejoin="round" stroke-linecap="round"/>
<line x1="2098.0" y1="3351.0" x2="2098.0" y2="3739.0" stroke="#bbb" stroke-width="2.5"/>
<line x1="309.0" y1="3351.0" x2="309.0" y2="3739.0" stroke="#444" stroke-width="3"/>
<line x1="286.0" y1="3428.0" x2="309.0" y2="3428.0" stroke="#333" stroke-width="2.5"/>
<line x1="286.0" y1="3584.0" x2="309.0" y2="3584.0" stroke="#333" stroke-width="2.5"/>
<rect x="1922" y="3363" width="159" height="66" fill="#fff"/>
<line x1="1922.0" y1="3363.0" x2="1922.0" y2="3429.0" stroke="#555" stroke-width="3"/>
<line x1="2081.0" y1="3363.0" x2="2081.0" y2="3429.0" stroke="#555" stroke-width="3"/>
<line x1="1930.0" y1="3395.0" x2="2013.0" y2="3395.0" stroke="#7fbf70" stroke-width="3.5"/>
<text x="2042.0" y="3418.0" font-family="'DejaVu Sans Condensed','DejaVu Sans','Liberation Sans',sans-serif" font-size="58.5" text-anchor="start" fill="#1a1a1a" stroke="#1a1a1a" stroke-width="0.25">P</text>
<text x="275.0" y="3449.0" font-family="'DejaVu Sans Condensed','DejaVu Sans','Liberation Sans',sans-serif" font-size="56" text-anchor="end" fill="#1a1a1a" stroke="#1a1a1a" stroke-width="0.25">1</text>
<text x="275.0" y="3606.0" font-family="'DejaVu Sans Condensed','DejaVu Sans','Liberation Sans',sans-serif" font-size="56" text-anchor="end" fill="#1a1a1a" stroke="#1a1a1a" stroke-width="0.25">0</text>
<text x="275.0" y="3762.0" font-family="'DejaVu Sans Condensed','DejaVu Sans','Liberation Sans',sans-serif" font-size="56" text-anchor="end" fill="#1a1a1a" stroke="#1a1a1a" stroke-width="0.25">-1</text>
<text transform="translate(111.0,3546.0) rotate(-90)" font-family="'DejaVu Sans Condensed','DejaVu Sans','Liberation Sans',sans-serif" font-size="61" text-anchor="middle" fill="#1a1a1a" stroke="#1a1a1a" stroke-width="0.25">P(W)</text>
<text x="310.0" y="3334.0" font-family="'DejaVu Sans Condensed','DejaVu Sans','Liberation Sans',sans-serif" font-size="54" text-anchor="start" fill="#1a1a1a" stroke="#1a1a1a" stroke-width="0.25">×</text>
<text x="366.0" y="3334.0" font-family="'DejaVu Sans Condensed','DejaVu Sans','Liberation Sans',sans-serif" font-size="56" text-anchor="start" fill="#1a1a1a" stroke="#1a1a1a" stroke-width="0.25">10</text>
<text x="428.0" y="3291.0" font-family="'DejaVu Sans Condensed','DejaVu Sans','Liberation Sans',sans-serif" font-size="40" text-anchor="start" fill="#1a1a1a" stroke="#1a1a1a" stroke-width="0.25">4</text>
<line x1="309.0" y1="3952.0" x2="2098.0" y2="3952.0" stroke="#e6e6e6" stroke-width="2.2" stroke-dasharray="3.5,8.7"/>
<line x1="309.0" y1="4050.0" x2="2098.0" y2="4050.0" stroke="#555" stroke-width="2.2" stroke-dasharray="3.5,8.7"/>
<line x1="309.0" y1="4147.5" x2="2098.0" y2="4147.5" stroke="#555" stroke-width="2.2" stroke-dasharray="3.5,8.7"/>
<line x1="748.0" y1="3852.0" x2="748.0" y2="4244.0" stroke="#555" stroke-width="2.2" stroke-dasharray="3.5,8.7"/>
<line x1="1102.5" y1="3852.0" x2="1102.5" y2="4244.0" stroke="#555" stroke-width="2.2" stroke-dasharray="3.5,8.7"/>
<line x1="1457.0" y1="3852.0" x2="1457.0" y2="4244.0" stroke="#e4e4e4" stroke-width="2.2" stroke-dasharray="3.5,8.7"/>
<line x1="1811.5" y1="3852.0" x2="1811.5" y2="4244.0" stroke="#555" stroke-width="2.2" stroke-dasharray="3.5,8.7"/>
<path d="M309 4141.8l1-.2 1 3.2 1-.2 1 2.7 1-.7 1 1.6 1-.1 1 2.5 1 .1 3-2.7 1 .7 1-.1 1-.3 1-1.1 1 3.8 1 .8 1 2.2 1-.2 1 3 1-3.3 1 .2 3-6.4 1 .5 1-1 1 .5 1 2.5 1-1.7 2 1.6 1 2.5 1-.9 2-3.3 1 .2 2-4.9 1 1.1 2-2.5 1 0 2-4.1 1 2.9 1-.3 1-.9 3 2.9 2 .8 1 0 1 .9 1-2.2 1 1.3 1-4.1 1-.2 2-3.3 1-2.7 1-.9 1 .3 1 2.4 2 .3 1 1.3 1 2.6 1-.5 3-5.7 1-3.1 2-3.4 1 1.2 1 3.9 1-.3 2 4.1 1 .6 1-1.7 1-3.8 1-.2 2-3.1 1-.9 1-2.7 1-1.3 1 1.9 1-.7 1-3.3 1 2.9 1 1 1-.5 1 1.8 2-1.3 1 2.5 2-4.1 2-2.9 2-4.6 1-1 2-3.9 1-.1 1-2 1 1 1-.5 1 1.4 1 .4 1-1.2 2 4.3 3-5.1 2-5.9 1-.7 1-2.6 2 0 2 2.9 1 .2 1-1 1 2.9 2-6.5 1-.6 1-5.4 1 1.1 1-2.3 1-.2 1-.8 3 2.5 1-.5 1 3.3 2-6.1 1 0 2-6.7 1-2.2 1-.9 1-4.1 1-.8 1-2.7 1 0 2-1.1 1-2.8 1 3.5 1-.9 1-2.8 1 .3 1 2.6 1-2.7 1-.4 1-2.5 1 .6 2-7.7 1-2.1 1-1 1-3.1 1-1.5 1-4.3 1 1.9 1-1.5 1 .7 1 1.8 2-.9 1-2 1-3.9 3-7.9 1-1.5 2-1.9 1 .5 1 1.6 1-.8 1 .9 1-.6 1-4.4 1-.5 2-6.6 2-4.6 1-1 1-2.8 2 .3 2-1.1 2-2.8 1 1.3 1-1.7 2 1.7 3-9.4 1-.3 1-5.4 1 .2 2-5.8 1-4.8 2-4.1 1 2.8 1-2 1 .3 1-.4 1 1.7 1-.8 1 2.7 1-1 1-3.7 1-6.9 2-6.9 1-6.4 1-2.8 2 5.2 2 1.8 2 3.2 2-8.5 1-1.3 1-4.3 1-1.2 1-4.6 2-.3 1 .1 1 .7 1-.2 1 2.7 1 .5 2-.1 1-1.5 2-1.2 1-2.4 1-.4 2-2.9 1 .8 2-1 1 .6 1 1.7 1-3.1 1 1.5 1-1.5 1 3.1 1-.9 1 .6 1-.5 1-1.8 1-.6 2-4.3 1 .1 2-6.1 1-4.7 1-1.6 1-1.2 1-.2 1 .6 1-1.9 2 3 2-4.7 1-.9 3-7.1 1-1 1 .2 1 2.6 1-.6 1 4.5 1-1.1 1 1.8 1-.3 1-.4 1-3.8 2-1.3 3-5.5 2 1.8 1-.6 1 1.1 1-1.3 1 2.8 2-.9 1 2.4 1-.6 1 .7 1-.9 1-2.5 1 1.3 1-1.5 1-.1 2-4.9 1-.1 1-2.3 1 .2 1-1.3 2 3.4 1-1.1 1 2.6 1 .5 1 1.5 1 .6 2-1.4 1-3.1 3-4.9 1-2.5 1 3.7 1 .6 1 1.2 1 2.6 1 1.4 3-4.2 1-.1 3-7.2 1 .1 1 2.4 2 2.1 1 5.3 1-1.6 1 2.9 1 .6 1-.2 1 .4 1-.7 1-1.9 1 0 1-1.5 1 .5 1-2.9 1 1.7 1-2.7 1 2.9 1 0 1 .7 1 3.5 1 .9 1 0 1 .5 1 1.1 1 2.1 1 .9 1 3.5 2-4.6 1 .6 1-1.5 1 .2 1-2.8 1 0 1-2.9 1 .3 3 6.2 1 .7 1 3.1 1-.9 1-4.1 1 1.7 1-2.3 1-.8 1-4.1 1 1.1 2 4.1 1-.7 3 5.4 2-3.7 1-.7 1 .8 1-.9 2-4.4 2 1.2 1 0 2 3.2 1-1.2 1 1.4 3 1.7 1 2.2 1 .1 1 .6 1-2.3 1-.6 1-2.4 1-.6 1-1.7 2-1.7 2-.8 1 1.5 1 .9 1 2 1 0 3 6.8 3-4.6 1-3 1 .3 1-1 1-3.1 1 .3 1 1 1 4.1 1 .8 1 1.8 1-.2 1 .3 1-.9 1-2.2 1-.5 2-3.2 1-.8 3 3.3 1 .1 2 3.8 1 3.1 1 .1 1-2 1-1.1 1-.2 2-3.2 1-.2 2-2.3 3-1.4 1 .5 2 3.9 2-.6 1 3 1-1.4 1 2.4 1 .3 1 1.3 1-2.4 1-.7 1-1.5 1 .9 1-3.7 1 .9 1-2.7 1-.8 1 2.1 1 .8 2 3.4 1 2.4 1-.1 1-1.7 1 0 1-1.3 1-2.6 1-.7 1-2.4 1 .3 1 1.7 1 .8 2 5.2 1 1.3 1-.6 1-2.7 1 .8 1-.8 1-3.3 1 .2 2-3.4 1 1.4 1 .5 1 1.2 1-.1 1 .9 1 1.9 1-.1 1 3.1 1-1.1 3 2.9 1-2.1 1 0 1-3.3 1 .7 5-5.7 1 1.2 1-.7 1 2.6 1 .1 1 1.7 1 .5 2 5.1 1-.8 2-5.3 1 .1 2-4.6 2 1.4 2 4 2 1.7 1 1.5 1-.3 1-4.5 1 .8 3-3.2 1-1.8 1 4.7 1-1.2 1 2.4 1 .1 1 1.1 1 2.3 1 .8 1-2 1 .7 1-1.5 1-.7 2-3.3 3-2 1 .7 1-3.2 1 2.4 1 1.1 1 .4 1 1.3 1-.2 2 1.1 2 3.7 2 1.4 1-1.5 1-3.7 1 1.3 2-3.9 2-2.9 2 4.1 1-.7 1 3.4 2 2.2 1 2.3 1-3.1 1-1.2 1-2.7 1-.8 1 .2 1-3.7 1 4.6 1-.4 2 3.1 2 1.4 1 1.4 2-4.2 2-2.4 3-2.3 2-.1 2 .9 1 3.7 2 .8 2 2.8 1-2.2 1 1.5 1 .7 2-1.9 1 .2 3-5.5 1-.4 1-1.4 1 1.1 1 2.5 1-3.1 2 3.8 1-.3 1 3.7 2 2.5 1-3.7 1-.8 1 1 1-4.7 1-.1 1-1.9 1 1.4 1-.9 1 2.9 1 .8 1 3.7 1 0 1 .8 4-4.9 2-3.9 1 .3 1 3.3 2 1.6 1 2.1 1-.1 2 2.1 2-2.5 2-1.3 1-1.2 1 .3 1-.7 1-2.4 1-.8 1-2.3 2 3 1-.3 2 2.9 1-1.2 2 1.1 1-2.7 3-12.8 1-7.1 1-4 1 2.6 1 4.9 2 4.8 1 3.9 1 .1 1 8.6 1 3.2 1 .8 1 2.7 2-.4 4-6.9 1-1.3 1-.2 1 1.2 2 4.1 2 2.2 1 2 1-1.3 1-.2 1-4.5 1 1.7 1-3.9 1-.3 1-1.3 1-.4 4 3.1 1 .3 1 3.2 2-.7 1 1.1 1 3.1 3-2.3 1 1.4 1-3.8 1 1.3 1-4.5 1 .4 1-.3 1-1.7 1-.6 1 1.8 2 1.6 1 2.4 1-.2 2 2.4 1 .2 2-2.5 1-2.1 1-.4 2-4.4 1 1 2 6.4 1-1.8 1 2.5 1 .9 1-.1 2-1.5 1-1.2 1-3.7 1-1 1-.3 1 2.7 3 3 1 3.6 1-1.8 1-.2 1 3.1 2-2.8 1 .2 1-2.3 1 .3 2-2.8 2-1.5 1 .1 1-2 1 2.6 1-.9 2 3.7 1-.1 1 1.9 4 2.1 2-1.4 1 0 1-2.5 3-3.9 2 .6 1 3.5 2 .6 1 3.5 1 1.2 4-8.6 1-.1 1-2.2 1 2.6 2 2.2 1 2.6 1-.1 1 3.1 1 .4 1-.3 1-1.6 1-.5 1-1.5 1 .3 2-5.2 1 3 1-2.3 1 3 1 .2 1 2.9 1-1.7 1 4 1 .1 1-.5 1 3.8 1 2.1 1-1.7 1 0 2-1.3 1-.2 1-3.5 1-.6 1 1.7 1-2.1 1-.5 1-1.6 1 3.2 1-.9 2 5.3 1 .9 1 2 1-1.1 1 1.4 1-.7 2-4.5 1 1 1-.6 1-3.1 2 5.3 1 1.5 1 .6 1 5.5 1-2.7 1 0 1-2.1 1-.6 1-4.3 1 2.4 1-2.8 1 3.9 1-1.1 1 .8 1 3.7 1 1.8 1-.7 1 .5 1 1.1 1 2.4 1-1.8 1 1 1-3.8 1 1.5 1-2.4 1 .8 1-.6 1-2.5 1 1.7 1-2.7 3 4.4 1-.8 3 6.1 1-1.3 2 3.4 1-.3 1 3 1-3.7 1-1.7 2-1.6 1-1.9 1-.3 2 3.8 1 .4 2 4.1 1 0 1 1.3 1-1.4 1 .1 2-5.2 1-.9 1 .4 3 4.8 2 6.1 1-2.8 2 .6 1-2.5 1 1.6 1-3.5 1 .2 1-1.6 1 .4 1-.5 2 1.5 3 5 1-1.2 1 2.5 3 4.6 2-.3 1-2.4 2-1.4 1 .6 1-1.6 1-.6 1-2.4 1 1.5 1 .6 1-1.3 2 5.7 1-1.3 2 3.4 1 4.2 1-3.3 1-.4 1-1.9 1 0 1-4.6 1 1 1 .2 1 1.2 3 6.6 1 .7 2 .1 1-5 1-.1 2-3.6 1-.7 1 .7 1 1.6 1-1.3 1 .3 2 4 1-1.5 1 2.3 1 .9 1-.9 2-5.7 1 .7 1-.9 1-1.5 1-.6 2-3.3 1-.1 1-1.5 1 2.5 1-1 2 2.4 2 1.4 1-1.1 1 3.2 2-1.9 1-.1 1-3.4 1 2.3 1-4.1 3-4.6 1 2.5 1 1 1 0 2 4.7 1-.2 2-2.5 1-3 1-.5 2-4.2 2 1.7 1 2.4 1-1.6 2 3.8 2 1.9 1-4.8 1 .4 1-3 1 .3 1-3.5 1 .2 2-3.2 1 1.2 1 3 2-.2 1 1 1-.4 2 3.9 2-.5 3-4.5 1-.2 1-.8 1-2.1 2-1.5 1-1.3 1-2.8 1 .4 1 1.1 1 3.9 1-1.6 1 3.2 2 .7 1 1.4 2-4 1-4.2 1-1.2 1 .1 1-2.3 2 2.5 1 2.3 1-.7 1 3 2 .8 1-3.8 1-1.4 1-2.9 1 2.4 1-4.5 1-1 1 2.3 1-.3 1 .4 1 2.3 2 1.7 1 1.9 3 .4 1-.6 1-3.1 1-.4 1 .3 2-3.9 1 2.2 2-4.1 1 .5 1 2.8 1 .7 2-.5 2 5.6 1-2.2 2 3.3 1-.6 1-3.5 1-.5 4-6.2 1-.2 1 4.2 1 .5 1 1.9 1-.6 1 3.5 1 1.6 1-10.1 3-19.4 2 8.5 1-.3 2 9.9 2 4.8 1 6.6 2 5 1 4.6 1 2.3 1 5.2 2 5.9 1 1.9 3-9.2 1-1.2 1-7 1-.1 3-7.8 1-1.7 2-1.2 1-2.5 1-.4 1-1.4 3-5.3 2 .4 1-3.6 1-.9 1 4 1-.7 2 4.3 3 4 1-2 1-.7 1-1.8 1-4.2 1 1.5 1-2.6 1 .4 2 2.4 1 4.3 1-.6 1 4.2 1-3.3 1 1.4 1-3.5 1-.4 1-2.6 1-.3 1-2.4 1 .4 2 2.3 3 6.2 1 .2 1 1.6 1-.4 1-.9 1 .2 2-4.1 1 .5 1-.1 1-4.6 1 .8 1-1.1 1-2.8 1 2.4 1 0 1 3.3 1-1.2 3 4.9 1 .7 1 1.4 1-.4 1 1.9 2-3.1 1-.1 1-2.7 1-.8 1-3.2 3 2.2 1 4.2 1 1.4 1-.6 1 4.1 2-4.5 1-.6 1-1.2 1-5.1 1 .2 1-.7 1 3.1 1 .7 1 3.4 3 4.3 1-.9 2-4 1-.4 1-2.8 1 .3 2-4.4 1-1.1 1 4.8 1-2.5 1 4.5 1-2 1 2.4 1 .7 1 2.4 1-.8 2 3.5 1 .6 1-2.5 2-2.1 1 0 4-6.5 1-.4 3 3.1 1 2.6 1 .6 1 3 1 .6 1 1.6 1-4.5 2-1.8 1-.3 1-2 1-3.8 1 2.7 1 1.5 1 3.7 1 1.9 1 .3 1 2.2 1 .1 2-5.7 1-.5 2-5.3 1-.3 2 3.8 1-.3 1 4 1 1.1 1 .2 1 2.7 1-1.2 1 2 1-2.3 1-.2 2-2.5 1 .9 2-3.5 1-3.6 1 .3 1-.9 1 1.4 1-.8 1 .8 1 1.6 1-.6 1 5.1 2 1.5 1 2.1 1 .4 2-2.3 3-5.5 1-.3 2-3.4 2 5.6 1 .8 1 2.5 2 2.8 2-4.7 1-.2 1-1.5 1-4.6 1 .4 2 4.7 1 0 2 5.2 2 2 1-3.5 2-1.9 1-.1 2-4.5 1-.8 1-2 2 1.4 2 3.5 1-.8 1 2 1 .6 1 2.9 1 1 1 .2 1 1.7 2-2.2 1-1.9 1-.5 1 .5 1-3.3 1 .3 3-4.7 1 .4 1-.3 1 4 1 .6 1 3.3 1 1.2 1 2.5 1-.7 1-3.6 1-.9 1-1.9 1-.6 1-4.4 2 3.8 4 5.6 1 3.7 3-8.6 1 1.1 1-2.1 1-.2 1-1.3 1 1.6 1 .7 1 2.5 1-.7 2 3.8 1 .1 1 2.3 1 .8 2-5.5 1 .9 1-1.4 1-.4 1-.9 1-1.8 1 2.1 2-4.1 2-.7 1 .2 1 2.9 2 2.4 1 .5 1 3.8 2 1.4 1-1.6 1 .6 1-3.8 1 .3 1-3.9 1-1.8 1 1.3 1-1.3 2 4.8 2 1.2 1 3.4 1 1.3 3-5.8 1-3.9 1-1.1 1-.1 1 .9 3 6.9 3 3.7 1-4.3 1 .1 1-.7 1-2.9 1 .7 1-3.3 1-.2 1-3 1 2.9 3 4 1-.4 1 2.3 1-.3 1 2 1-.6 1 4.6 1-1.8 1 0 2-1.6 1-3.5 1 .9 1-2 1-.7 3-4.2 1 3.2 1 1 1 2.5 1-.1 1 2.9 1 1.6 1 .2 1-1.2 4-7.5 2-.9 1 2.5 2 3.2 2 5 2-4.8 1 .4 1-3.2 2-1.5 1-1.4 1 0 3 4.3 1 2.4 1-.7 1 3.2 1 1.1 2-1.3 1-1.7 2 .2 1-2.6 1 .3 1-.8 1-.1 1-2 1 1.9 1-3.6 1 3.1 1-1.8 1 3.4 2-1.8 1 3.8 1 2 1-2 1 3.5 1 .8 1-3.4 1 2.8 1-2.4 2-3.1 1 .2 1-3.3 1 1.2 3 6.6 1-.7 1 2.4 2-4 1-.2 1 1 2-5.5 1 1.8 1 0 1 4.7 1-1 1 1 1 2.4 1-.1 1-2.1 1-.3 1 .4 2-3 1 1.7 2-3.1 1 1.3 1-1.4 1 2 1-.6 4 3.8 1-.3 1 .4 1-.6 1 1.9 1-.7 1-1.7 1 .9 1-.6 1-1.6 1 1 2-1.7 1 .3 2 2.2 2-1 1 .8 1 .2 2 3.1 1 .1 2-2.6 1-.3 1-2.4 1 1.3 1-.5 1 .6 1 3.3 2-1.2 1 1.2 2 .6 3-4.3 2 .1 2 .5 1 3.1 3-1.1 1 .7 1 2.4 1-.4 1 .4 2-1.7 4 .2 1-1.7 2-1.6 2 1.4 1-1.4 1 1.4 1 .1 1 2 2 1.8 1-1.5 1 2.7 1 .3 2-4.1 1 .6 3-1.9 1 .4 1 2 1-2.2 1 2.6 1-.4 1 3.5 1-1.8 1 .9 1-.6 2-3.7 2-1.5 1 2.3 1-.2 1 2.1 1 .7 1 0 1 1.1 1-.5 1 2 1-3.4 1 1.1 1-2.5 1-.1 1 1.7 2-2.6 1 1.2 1 .5 1 0 1-.5 1 .3 1 1.8 1-.7 1-.2 1 1.1 1 2.1 1 .6 2-1.7 3 .4 1-2.6 1 .9 1-2.5 1 2.4 1-1.4 1 1 1-1.8" fill="none" stroke="#70bb62" stroke-width="3" stroke-linejoin="round" stroke-linecap="round"/>
<line x1="284.0" y1="3852.0" x2="2098.0" y2="3852.0" stroke="#aaa" stroke-width="3"/>
<line x1="2098.0" y1="3852.0" x2="2098.0" y2="4244.0" stroke="#aaa" stroke-width="2.5"/>
<line x1="309.0" y1="3852.0" x2="309.0" y2="4244.0" stroke="#444" stroke-width="3"/>
<line x1="286.0" y1="4050.0" x2="309.0" y2="4050.0" stroke="#333" stroke-width="2.5"/>
<line x1="286.0" y1="4147.5" x2="309.0" y2="4147.5" stroke="#333" stroke-width="2.5"/>
<rect x="1914" y="3867" width="164" height="66" fill="#fff"/>
<line x1="1914.0" y1="3867.0" x2="1914.0" y2="3933.0" stroke="#888" stroke-width="3"/>
<line x1="2078.0" y1="3865.0" x2="2078.0" y2="3934.0" stroke="#777" stroke-width="3"/>
<line x1="1914.0" y1="3900.0" x2="2005.0" y2="3900.0" stroke="#5aa84c" stroke-width="3"/>
<text x="2031.0" y="3925.0" font-family="'DejaVu Sans Condensed','DejaVu Sans','Liberation Sans',sans-serif" font-size="58.5" text-anchor="start" fill="#1a1a1a" stroke="#1a1a1a" stroke-width="0.25">Q</text>
<text x="275.0" y="3872.0" font-family="'DejaVu Sans Condensed','DejaVu Sans','Liberation Sans',sans-serif" font-size="56" text-anchor="end" fill="#1a1a1a" stroke="#1a1a1a" stroke-width="0.25">6</text>
<text x="275.0" y="3971.0" font-family="'DejaVu Sans Condensed','DejaVu Sans','Liberation Sans',sans-serif" font-size="56" text-anchor="end" fill="#1a1a1a" stroke="#1a1a1a" stroke-width="0.25">4</text>
<text x="275.0" y="4070.0" font-family="'DejaVu Sans Condensed','DejaVu Sans','Liberation Sans',sans-serif" font-size="56" text-anchor="end" fill="#1a1a1a" stroke="#1a1a1a" stroke-width="0.25">2</text>
<text x="275.0" y="4167.5" font-family="'DejaVu Sans Condensed','DejaVu Sans','Liberation Sans',sans-serif" font-size="56" text-anchor="end" fill="#1a1a1a" stroke="#1a1a1a" stroke-width="0.25">0</text>
<text x="275.0" y="4266.0" font-family="'DejaVu Sans Condensed','DejaVu Sans','Liberation Sans',sans-serif" font-size="56" text-anchor="end" fill="#1a1a1a" stroke="#1a1a1a" stroke-width="0.25">-2</text>
<text transform="translate(111.0,4050.0) rotate(-90)" font-family="'DejaVu Sans Condensed','DejaVu Sans','Liberation Sans',sans-serif" font-size="61" text-anchor="middle" fill="#1a1a1a" stroke="#1a1a1a" stroke-width="0.25">Q(VAr)</text>
<text x="310.0" y="3834.0" font-family="'DejaVu Sans Condensed','DejaVu Sans','Liberation Sans',sans-serif" font-size="54" text-anchor="start" fill="#1a1a1a" stroke="#1a1a1a" stroke-width="0.25">×</text>
<text x="364.0" y="3834.0" font-family="'DejaVu Sans Condensed','DejaVu Sans','Liberation Sans',sans-serif" font-size="56" text-anchor="start" fill="#1a1a1a" stroke="#1a1a1a" stroke-width="0.25">10</text>
<text x="428.0" y="3791.0" font-family="'DejaVu Sans Condensed','DejaVu Sans','Liberation Sans',sans-serif" font-size="40" text-anchor="start" fill="#1a1a1a" stroke="#1a1a1a" stroke-width="0.25">4</text>
<line x1="748.0" y1="4247.0" x2="748.0" y2="4270.0" stroke="#444" stroke-width="2.5"/>
<line x1="1102.5" y1="4247.0" x2="1102.5" y2="4270.0" stroke="#444" stroke-width="2.5"/>
<line x1="1811.5" y1="4247.0" x2="1811.5" y2="4270.0" stroke="#444" stroke-width="2.5"/>
<text x="393.5" y="4328.0" font-family="'DejaVu Sans Condensed','DejaVu Sans','Liberation Sans',sans-serif" font-size="57" text-anchor="middle" fill="#1a1a1a" stroke="#1a1a1a" stroke-width="0.25">0.23</text>
<text x="748.0" y="4328.0" font-family="'DejaVu Sans Condensed','DejaVu Sans','Liberation Sans',sans-serif" font-size="57" text-anchor="middle" fill="#1a1a1a" stroke="#1a1a1a" stroke-width="0.25">0.24</text>
<text x="1102.5" y="4328.0" font-family="'DejaVu Sans Condensed','DejaVu Sans','Liberation Sans',sans-serif" font-size="57" text-anchor="middle" fill="#1a1a1a" stroke="#1a1a1a" stroke-width="0.25">0.25</text>
<text x="1457.0" y="4328.0" font-family="'DejaVu Sans Condensed','DejaVu Sans','Liberation Sans',sans-serif" font-size="57" text-anchor="middle" fill="#1a1a1a" stroke="#1a1a1a" stroke-width="0.25">0.26</text>
<text x="1811.5" y="4328.0" font-family="'DejaVu Sans Condensed','DejaVu Sans','Liberation Sans',sans-serif" font-size="57" text-anchor="middle" fill="#1a1a1a" stroke="#1a1a1a" stroke-width="0.25">0.27</text>
<text x="1205.0" y="4399.5" font-family="'DejaVu Sans Condensed','DejaVu Sans','Liberation Sans',sans-serif" font-size="57.8" text-anchor="middle" fill="#1a1a1a" stroke="#1a1a1a" stroke-width="0.25">Time(s)</text>
<text x="1109.0" y="4499.0" font-family="'Liberation Serif',serif" font-size="84" text-anchor="middle">(<tspan font-weight="bold">b</tspan>)</text>
</svg></body></html>
